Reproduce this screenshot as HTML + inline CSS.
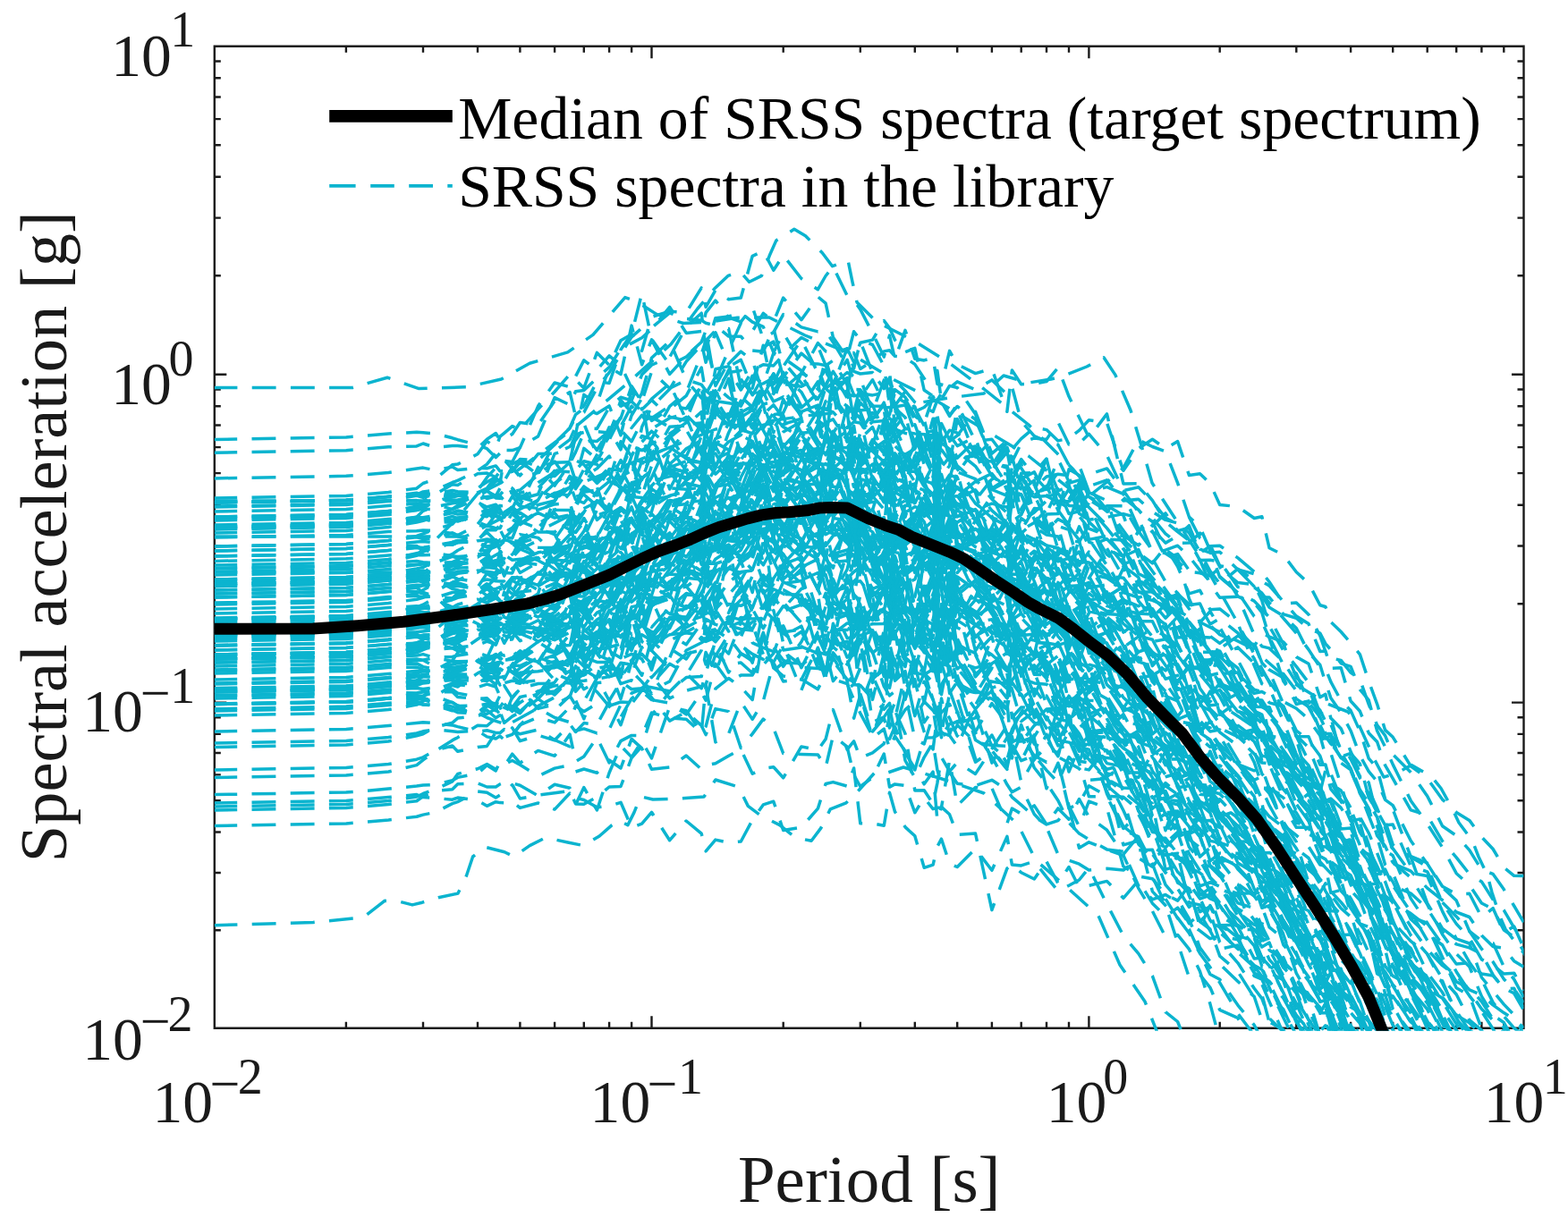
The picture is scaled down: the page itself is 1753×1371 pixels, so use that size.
<!DOCTYPE html>
<html><head><meta charset="utf-8"><title>Spectra</title>
<style>
html,body{margin:0;padding:0;background:#fff;}
svg{display:block;}
text{font-family:"Liberation Serif","Times New Roman",serif;}
</style></head>
<body>
<svg width="1753" height="1371" viewBox="0 0 1753 1371">
<rect width="1753" height="1371" fill="#fff"/>
<defs><clipPath id="c"><rect x="239.8" y="51.7" width="1463.7" height="1101.1"/></clipPath></defs>
<path d="M239.8 51.7H1703.5V1149.8H239.8ZM239.8 1149.8h13.5M1703.5 1149.8h-13.5M239.8 1040.2h7.0M1703.5 1040.2h-7.0M239.8 976.0h7.0M1703.5 976.0h-7.0M239.8 930.5h7.0M1703.5 930.5h-7.0M239.8 895.2h7.0M1703.5 895.2h-7.0M239.8 866.4h7.0M1703.5 866.4h-7.0M239.8 842.0h7.0M1703.5 842.0h-7.0M239.8 820.9h7.0M1703.5 820.9h-7.0M239.8 802.3h7.0M1703.5 802.3h-7.0M239.8 785.6h13.5M1703.5 785.6h-13.5M239.8 675.2h7.0M1703.5 675.2h-7.0M239.8 610.5h7.0M1703.5 610.5h-7.0M239.8 564.7h7.0M1703.5 564.7h-7.0M239.8 529.1h7.0M1703.5 529.1h-7.0M239.8 500.1h7.0M1703.5 500.1h-7.0M239.8 475.5h7.0M1703.5 475.5h-7.0M239.8 454.3h7.0M1703.5 454.3h-7.0M239.8 435.5h7.0M1703.5 435.5h-7.0M239.8 418.7h13.5M1703.5 418.7h-13.5M239.8 308.2h7.0M1703.5 308.2h-7.0M239.8 243.6h7.0M1703.5 243.6h-7.0M239.8 197.7h7.0M1703.5 197.7h-7.0M239.8 162.2h7.0M1703.5 162.2h-7.0M239.8 133.1h7.0M1703.5 133.1h-7.0M239.8 108.5h7.0M1703.5 108.5h-7.0M239.8 87.3h7.0M1703.5 87.3h-7.0M239.8 68.5h7.0M1703.5 68.5h-7.0M239.8 1149.8v-13.5M239.8 51.7v13.5M386.9 1149.8v-7.0M386.9 51.7v7.0M473.0 1149.8v-7.0M473.0 51.7v7.0M534.0 1149.8v-7.0M534.0 51.7v7.0M581.4 1149.8v-7.0M581.4 51.7v7.0M620.1 1149.8v-7.0M620.1 51.7v7.0M652.8 1149.8v-7.0M652.8 51.7v7.0M681.1 1149.8v-7.0M681.1 51.7v7.0M706.1 1149.8v-7.0M706.1 51.7v7.0M728.5 1149.8v-13.5M728.5 51.7v13.5M875.7 1149.8v-7.0M875.7 51.7v7.0M961.8 1149.8v-7.0M961.8 51.7v7.0M1022.8 1149.8v-7.0M1022.8 51.7v7.0M1070.2 1149.8v-7.0M1070.2 51.7v7.0M1108.9 1149.8v-7.0M1108.9 51.7v7.0M1141.7 1149.8v-7.0M1141.7 51.7v7.0M1170.0 1149.8v-7.0M1170.0 51.7v7.0M1195.0 1149.8v-7.0M1195.0 51.7v7.0M1217.4 1149.8v-13.5M1217.4 51.7v13.5M1363.7 1149.8v-7.0M1363.7 51.7v7.0M1449.3 1149.8v-7.0M1449.3 51.7v7.0M1510.1 1149.8v-7.0M1510.1 51.7v7.0M1557.2 1149.8v-7.0M1557.2 51.7v7.0M1595.7 1149.8v-7.0M1595.7 51.7v7.0M1628.2 1149.8v-7.0M1628.2 51.7v7.0M1656.4 1149.8v-7.0M1656.4 51.7v7.0M1681.3 1149.8v-7.0M1681.3 51.7v7.0" fill="none" stroke="#1a1a1a" stroke-width="2.4"/>
<g clip-path="url(#c)" fill="none" stroke="rgb(11,180,207)" stroke-width="3.5" stroke-dasharray="26.9 16.3" stroke-dashoffset="1.5" stroke-linejoin="round">
<polyline points="239.8,491.5 386.9,488.9 407.1,487.4 434.3,485.0 465.8,483.3 473.0,483.7 486.7,485.0 505.7,489.8 511.7,491.7 534.0,497.6 544.4,501.7 554.3,511.6 559.0,506.7 563.7,513.8 572.7,518.9 581.4,514.5 601.6,521.7 620.1,517.3 637.1,516.7 643.5,526.0 652.8,515.7 667.4,519.2 681.1,537.8 694.0,493.7 706.1,510.3 717.6,509.5 728.5,492.6 748.7,519.0 767.2,502.7 784.2,473.1 789.1,512.2 799.9,493.3 814.6,453.7 828.3,466.0 841.2,489.2 853.3,475.3 864.8,473.1 875.7,506.3 895.9,511.4 914.4,521.6 923.1,535.5 931.4,517.8 947.1,561.3 954.6,578.6 961.8,583.5 975.5,618.2 988.3,648.2 994.5,647.0 1000.5,662.6 1012.0,609.6 1022.8,600.6 1033.2,646.7 1043.1,690.9 1047.9,636.8 1052.5,612.0 1061.6,633.2 1070.2,600.5 1090.5,591.3 1108.9,609.1 1125.9,595.8 1131.4,607.4 1141.7,594.6 1156.3,620.4 1170.0,628.8 1182.9,613.6 1195.0,659.7 1206.5,656.4 1217.4,684.2 1237.5,742.8 1255.9,757.1 1272.8,793.9 1288.4,831.5 1303.0,840.3 1316.6,836.2 1329.4,853.7 1341.5,887.9 1352.9,905.1 1363.7,912.0 1383.9,930.9 1402.2,945.8 1410.8,973.5 1419.1,989.7 1434.8,1009.5 1449.3,1052.1 1463.0,1066.3 1475.8,1088.2 1481.9,1116.3 1487.8,1109.6 1499.2,1143.6 1510.1,1163.9 1520.4,1175.0 1530.2,1175.0 1539.6,1175.0 1548.6,1175.0 1557.2,1175.0 1577.3,1175.0 1595.7,1175.0 1612.6,1175.0 1628.2,1175.0 1642.8,1175.0 1656.4,1175.0 1669.2,1175.0 1681.3,1175.0 1692.7,1175.0 1703.5,1175.0"/>
<polyline points="239.8,506.3 386.9,503.7 407.1,502.2 434.3,499.8 465.8,498.9 473.0,496.0 486.7,500.4 505.7,498.4 511.7,498.4 534.0,501.1 544.4,491.2 554.3,484.5 559.0,492.1 563.7,490.7 572.7,485.4 581.4,472.6 601.6,475.0 620.1,448.5 637.1,438.6 643.5,465.4 652.8,454.0 667.4,426.6 681.1,428.5 694.0,391.0 706.1,373.2 717.6,392.3 728.5,354.4 748.7,348.3 767.2,349.4 784.2,321.9 789.1,343.4 799.9,324.5 814.6,334.7 828.3,333.0 841.2,286.3 853.3,280.7 864.8,302.3 875.7,285.4 895.9,311.5 914.4,323.7 923.1,308.5 931.4,298.3 947.1,330.5 954.6,336.0 961.8,345.9 975.5,372.6 988.3,399.1 994.5,375.1 1000.5,401.7 1012.0,369.3 1022.8,401.2 1033.2,402.9 1043.1,400.4 1047.9,429.3 1052.5,430.7 1061.6,392.4 1070.2,407.5 1090.5,417.6 1108.9,412.3 1125.9,460.3 1131.4,413.9 1141.7,429.7 1156.3,429.2 1170.0,426.6 1182.9,411.1 1195.0,443.3 1206.5,466.8 1217.4,489.4 1237.5,462.9 1255.9,540.9 1272.8,540.8 1288.4,559.7 1303.0,583.3 1316.6,594.6 1329.4,604.3 1341.5,626.6 1352.9,626.3 1363.7,627.9 1383.9,656.6 1402.2,656.8 1410.8,663.2 1419.1,674.2 1434.8,691.3 1449.3,708.0 1463.0,726.4 1475.8,746.3 1481.9,747.6 1487.8,762.4 1499.2,783.5 1510.1,794.6 1520.4,817.8 1530.2,848.1 1539.6,859.1 1548.6,893.6 1557.2,905.0 1577.3,958.4 1595.7,969.2 1612.6,1009.8 1628.2,1033.1 1642.8,1049.0 1656.4,1072.9 1669.2,1079.4 1681.3,1089.0 1692.7,1088.2 1703.5,1108.0"/>
<polyline points="239.8,534.9 386.9,532.3 407.1,530.8 434.3,528.4 465.8,524.0 473.0,523.1 486.7,525.9 505.7,522.1 511.7,525.5 534.0,523.2 544.4,523.7 554.3,520.9 559.0,526.8 563.7,526.6 572.7,526.8 581.4,515.5 601.6,531.2 620.1,516.1 637.1,539.9 643.5,542.7 652.8,524.6 667.4,540.4 681.1,527.0 694.0,526.6 706.1,492.5 717.6,494.3 728.5,482.2 748.7,500.0 767.2,512.8 784.2,511.3 789.1,480.4 799.9,524.4 814.6,515.9 828.3,523.3 841.2,497.1 853.3,518.9 864.8,509.4 875.7,508.6 895.9,486.7 914.4,509.4 923.1,563.2 931.4,555.8 947.1,516.1 954.6,484.2 961.8,530.0 975.5,519.2 988.3,539.0 994.5,522.1 1000.5,502.2 1012.0,508.2 1022.8,501.9 1033.2,483.1 1043.1,517.4 1047.9,535.5 1052.5,584.1 1061.6,563.0 1070.2,526.7 1090.5,609.1 1108.9,624.5 1125.9,654.7 1131.4,646.6 1141.7,650.4 1156.3,693.5 1170.0,711.8 1182.9,700.5 1195.0,726.2 1206.5,692.3 1217.4,703.3 1237.5,687.3 1255.9,673.1 1272.8,678.7 1288.4,680.7 1303.0,704.3 1316.6,701.4 1329.4,718.9 1341.5,748.4 1352.9,764.4 1363.7,778.9 1383.9,816.9 1402.2,852.4 1410.8,877.9 1419.1,887.4 1434.8,919.1 1449.3,941.4 1463.0,987.5 1475.8,1004.2 1481.9,1018.1 1487.8,1006.0 1499.2,1036.1 1510.1,1044.6 1520.4,1066.2 1530.2,1092.2 1539.6,1112.3 1548.6,1125.9 1557.2,1146.6 1577.3,1166.7 1595.7,1175.0 1612.6,1175.0 1628.2,1175.0 1642.8,1175.0 1656.4,1175.0 1669.2,1175.0 1681.3,1175.0 1692.7,1175.0 1703.5,1175.0"/>
<polyline points="239.8,557.0 386.9,554.4 407.1,552.9 434.3,550.5 465.8,546.2 473.0,540.5 486.7,535.8 505.7,519.8 511.7,519.1 534.0,507.8 544.4,493.3 554.3,500.9 559.0,488.2 563.7,484.3 572.7,476.6 581.4,480.6 601.6,457.6 620.1,438.0 637.1,418.5 643.5,424.7 652.8,433.9 667.4,394.4 681.1,408.3 694.0,380.8 706.1,373.9 717.6,328.0 728.5,379.0 748.7,408.0 767.2,399.2 784.2,382.7 789.1,405.3 799.9,371.8 814.6,406.7 828.3,393.1 841.2,403.1 853.3,440.8 864.8,417.8 875.7,434.9 895.9,417.5 914.4,425.3 923.1,413.7 931.4,430.7 947.1,422.6 954.6,441.6 961.8,444.3 975.5,424.8 988.3,450.8 994.5,468.3 1000.5,470.7 1012.0,462.8 1022.8,454.8 1033.2,484.1 1043.1,481.8 1047.9,499.3 1052.5,509.6 1061.6,502.9 1070.2,523.1 1090.5,503.2 1108.9,555.7 1125.9,564.0 1131.4,593.3 1141.7,600.0 1156.3,610.4 1170.0,575.1 1182.9,574.6 1195.0,558.5 1206.5,540.3 1217.4,554.9 1237.5,539.0 1255.9,523.4 1272.8,491.9 1288.4,499.5 1303.0,505.0 1316.6,540.1 1329.4,578.0 1341.5,589.2 1352.9,615.5 1363.7,645.4 1383.9,662.1 1402.2,689.3 1410.8,695.4 1419.1,713.5 1434.8,761.7 1449.3,781.6 1463.0,790.4 1475.8,810.8 1481.9,823.5 1487.8,831.6 1499.2,841.4 1510.1,859.3 1520.4,887.3 1530.2,904.2 1539.6,924.1 1548.6,950.5 1557.2,964.3 1577.3,981.5 1595.7,1011.4 1612.6,1045.0 1628.2,1066.8 1642.8,1081.0 1656.4,1114.2 1669.2,1135.2 1681.3,1143.5 1692.7,1163.5 1703.5,1175.0"/>
<polyline points="239.8,562.0 386.9,559.4 407.1,557.9 434.3,555.5 465.8,553.1 473.0,549.9 486.7,548.1 505.7,539.5 511.7,537.4 534.0,526.3 544.4,519.1 554.3,506.7 559.0,501.0 563.7,503.4 572.7,503.6 581.4,500.6 601.6,454.1 620.1,428.0 637.1,432.8 643.5,420.9 652.8,402.9 667.4,413.8 681.1,397.9 694.0,408.6 706.1,433.9 717.6,449.1 728.5,415.5 748.7,434.3 767.2,425.1 784.2,445.2 789.1,433.5 799.9,453.4 814.6,475.0 828.3,448.0 841.2,467.5 853.3,452.1 864.8,448.7 875.7,416.3 895.9,454.4 914.4,426.8 923.1,475.8 931.4,421.8 947.1,494.1 954.6,475.1 961.8,439.2 975.5,452.9 988.3,483.7 994.5,492.6 1000.5,484.6 1012.0,535.2 1022.8,515.1 1033.2,497.2 1043.1,507.7 1047.9,584.0 1052.5,530.4 1061.6,562.4 1070.2,577.9 1090.5,570.1 1108.9,563.1 1125.9,567.4 1131.4,521.3 1141.7,575.1 1156.3,543.7 1170.0,546.5 1182.9,513.4 1195.0,538.5 1206.5,531.9 1217.4,555.6 1237.5,565.4 1255.9,576.3 1272.8,622.6 1288.4,624.7 1303.0,650.5 1316.6,663.3 1329.4,680.7 1341.5,696.4 1352.9,743.3 1363.7,720.5 1383.9,757.3 1402.2,775.4 1410.8,773.5 1419.1,778.3 1434.8,789.6 1449.3,823.5 1463.0,823.7 1475.8,855.3 1481.9,855.0 1487.8,876.4 1499.2,884.0 1510.1,903.4 1520.4,913.9 1530.2,931.5 1539.6,953.8 1548.6,977.9 1557.2,990.4 1577.3,1019.9 1595.7,1051.6 1612.6,1077.3 1628.2,1092.1 1642.8,1113.6 1656.4,1130.9 1669.2,1150.8 1681.3,1170.7 1692.7,1175.0 1703.5,1175.0"/>
<polyline points="239.8,567.0 386.9,564.4 407.1,562.9 434.3,560.5 465.8,559.6 473.0,560.9 486.7,559.7 505.7,559.3 511.7,558.9 534.0,554.9 544.4,549.2 554.3,554.6 559.0,545.9 563.7,540.6 572.7,546.0 581.4,556.3 601.6,558.1 620.1,540.4 637.1,528.2 643.5,546.1 652.8,533.3 667.4,523.9 681.1,510.1 694.0,536.6 706.1,510.1 717.6,517.4 728.5,514.6 748.7,489.0 767.2,464.0 784.2,481.1 789.1,489.7 799.9,459.2 814.6,468.6 828.3,461.2 841.2,454.2 853.3,444.3 864.8,419.1 875.7,429.4 895.9,432.2 914.4,422.9 923.1,434.3 931.4,427.9 947.1,402.3 954.6,427.9 961.8,439.7 975.5,441.9 988.3,439.4 994.5,445.3 1000.5,456.2 1012.0,466.7 1022.8,495.3 1033.2,469.1 1043.1,508.0 1047.9,508.5 1052.5,543.2 1061.6,541.7 1070.2,592.4 1090.5,637.5 1108.9,621.6 1125.9,671.1 1131.4,706.1 1141.7,756.3 1156.3,727.6 1170.0,721.7 1182.9,749.0 1195.0,735.2 1206.5,764.5 1217.4,761.9 1237.5,763.9 1255.9,769.0 1272.8,784.6 1288.4,787.7 1303.0,814.6 1316.6,843.5 1329.4,852.2 1341.5,875.7 1352.9,895.0 1363.7,909.6 1383.9,936.9 1402.2,962.2 1410.8,999.4 1419.1,981.6 1434.8,1018.7 1449.3,1045.5 1463.0,1067.0 1475.8,1088.2 1481.9,1105.4 1487.8,1100.8 1499.2,1130.4 1510.1,1142.6 1520.4,1172.0 1530.2,1175.0 1539.6,1175.0 1548.6,1175.0 1557.2,1175.0 1577.3,1175.0 1595.7,1175.0 1612.6,1175.0 1628.2,1175.0 1642.8,1175.0 1656.4,1175.0 1669.2,1175.0 1681.3,1175.0 1692.7,1175.0 1703.5,1175.0"/>
<polyline points="239.8,572.0 386.9,569.4 407.1,567.9 434.3,565.5 465.8,563.1 473.0,564.4 486.7,563.8 505.7,569.7 511.7,567.1 534.0,558.4 544.4,555.5 554.3,554.3 559.0,553.3 563.7,548.3 572.7,550.2 581.4,548.0 601.6,531.1 620.1,532.4 637.1,517.0 643.5,485.8 652.8,483.4 667.4,482.6 681.1,484.0 694.0,454.2 706.1,448.9 717.6,460.0 728.5,446.2 748.7,428.9 767.2,469.7 784.2,427.7 789.1,448.7 799.9,438.3 814.6,416.5 828.3,414.5 841.2,441.8 853.3,421.0 864.8,428.9 875.7,404.6 895.9,428.3 914.4,446.2 923.1,431.0 931.4,417.1 947.1,445.1 954.6,446.6 961.8,438.0 975.5,471.4 988.3,450.2 994.5,487.1 1000.5,459.1 1012.0,479.4 1022.8,479.8 1033.2,512.5 1043.1,496.0 1047.9,506.9 1052.5,515.0 1061.6,535.2 1070.2,504.6 1090.5,521.3 1108.9,547.5 1125.9,538.1 1131.4,534.1 1141.7,535.4 1156.3,527.9 1170.0,554.7 1182.9,561.5 1195.0,567.8 1206.5,543.9 1217.4,583.4 1237.5,602.9 1255.9,604.1 1272.8,618.1 1288.4,629.8 1303.0,611.5 1316.6,633.5 1329.4,663.9 1341.5,660.3 1352.9,681.7 1363.7,680.9 1383.9,697.0 1402.2,744.3 1410.8,764.7 1419.1,769.1 1434.8,806.4 1449.3,843.3 1463.0,865.7 1475.8,889.3 1481.9,896.8 1487.8,907.7 1499.2,931.7 1510.1,953.4 1520.4,998.7 1530.2,1005.2 1539.6,1012.7 1548.6,1042.0 1557.2,1068.2 1577.3,1099.3 1595.7,1121.8 1612.6,1155.0 1628.2,1168.3 1642.8,1175.0 1656.4,1175.0 1669.2,1175.0 1681.3,1175.0 1692.7,1175.0 1703.5,1175.0"/>
<polyline points="239.8,578.0 386.9,575.4 407.1,573.9 434.3,571.5 465.8,570.6 473.0,569.1 486.7,570.0 505.7,573.3 511.7,571.1 534.0,574.9 544.4,575.6 554.3,576.3 559.0,577.8 563.7,588.9 572.7,573.8 581.4,573.3 601.6,586.1 620.1,573.7 637.1,595.1 643.5,555.3 652.8,553.2 667.4,565.5 681.1,545.4 694.0,524.5 706.1,547.3 717.6,551.7 728.5,534.0 748.7,489.5 767.2,474.4 784.2,473.1 789.1,477.9 799.9,436.9 814.6,465.6 828.3,432.7 841.2,427.1 853.3,388.3 864.8,382.0 875.7,421.6 895.9,395.1 914.4,411.0 923.1,434.5 931.4,441.9 947.1,454.3 954.6,460.8 961.8,467.8 975.5,528.7 988.3,468.7 994.5,522.9 1000.5,544.9 1012.0,553.1 1022.8,547.1 1033.2,565.8 1043.1,593.4 1047.9,580.2 1052.5,548.3 1061.6,600.1 1070.2,600.9 1090.5,604.0 1108.9,591.1 1125.9,598.4 1131.4,640.4 1141.7,627.2 1156.3,601.4 1170.0,620.4 1182.9,621.0 1195.0,634.0 1206.5,662.4 1217.4,633.1 1237.5,664.2 1255.9,692.6 1272.8,649.3 1288.4,684.5 1303.0,702.9 1316.6,731.2 1329.4,774.7 1341.5,814.2 1352.9,820.0 1363.7,834.7 1383.9,882.7 1402.2,932.5 1410.8,953.2 1419.1,969.8 1434.8,1003.3 1449.3,1040.2 1463.0,1058.7 1475.8,1083.4 1481.9,1087.8 1487.8,1094.2 1499.2,1116.9 1510.1,1132.5 1520.4,1144.4 1530.2,1175.0 1539.6,1175.0 1548.6,1175.0 1557.2,1175.0 1577.3,1175.0 1595.7,1175.0 1612.6,1175.0 1628.2,1175.0 1642.8,1175.0 1656.4,1175.0 1669.2,1175.0 1681.3,1175.0 1692.7,1175.0 1703.5,1175.0"/>
<polyline points="239.8,582.0 386.9,579.4 407.1,577.9 434.3,575.5 465.8,570.4 473.0,568.1 486.7,561.1 505.7,555.1 511.7,553.9 534.0,545.7 544.4,539.1 554.3,533.4 559.0,527.0 563.7,530.7 572.7,527.2 581.4,513.4 601.6,514.9 620.1,497.3 637.1,478.3 643.5,463.6 652.8,456.5 667.4,462.6 681.1,453.9 694.0,486.8 706.1,436.2 717.6,458.0 728.5,447.4 748.7,466.1 767.2,470.3 784.2,461.5 789.1,456.3 799.9,432.1 814.6,444.6 828.3,453.4 841.2,420.2 853.3,429.4 864.8,394.9 875.7,400.1 895.9,414.5 914.4,435.3 923.1,401.3 931.4,430.7 947.1,389.7 954.6,412.0 961.8,381.7 975.5,416.9 988.3,434.7 994.5,425.8 1000.5,453.7 1012.0,437.9 1022.8,456.6 1033.2,476.1 1043.1,503.0 1047.9,505.8 1052.5,496.5 1061.6,495.5 1070.2,524.5 1090.5,550.8 1108.9,610.8 1125.9,600.7 1131.4,594.7 1141.7,569.2 1156.3,545.3 1170.0,533.0 1182.9,530.2 1195.0,531.7 1206.5,551.7 1217.4,530.5 1237.5,523.9 1255.9,548.6 1272.8,572.7 1288.4,583.3 1303.0,614.8 1316.6,624.3 1329.4,669.6 1341.5,696.0 1352.9,683.7 1363.7,701.5 1383.9,738.1 1402.2,772.8 1410.8,790.4 1419.1,790.7 1434.8,828.1 1449.3,858.9 1463.0,876.0 1475.8,889.5 1481.9,905.7 1487.8,931.0 1499.2,936.3 1510.1,957.0 1520.4,979.0 1530.2,1012.2 1539.6,1033.7 1548.6,1057.5 1557.2,1070.5 1577.3,1111.7 1595.7,1148.9 1612.6,1175.0 1628.2,1175.0 1642.8,1175.0 1656.4,1175.0 1669.2,1175.0 1681.3,1175.0 1692.7,1175.0 1703.5,1175.0"/>
<polyline points="239.8,587.0 386.9,584.4 407.1,582.9 434.3,580.5 465.8,579.2 473.0,580.6 486.7,583.2 505.7,577.4 511.7,579.7 534.0,580.6 544.4,571.9 554.3,571.5 559.0,574.4 563.7,564.1 572.7,568.6 581.4,551.2 601.6,545.7 620.1,526.5 637.1,518.1 643.5,538.1 652.8,521.8 667.4,515.7 681.1,491.8 694.0,466.2 706.1,478.5 717.6,464.3 728.5,479.7 748.7,467.4 767.2,462.9 784.2,430.7 789.1,488.8 799.9,448.6 814.6,450.8 828.3,452.6 841.2,457.2 853.3,481.5 864.8,491.6 875.7,513.6 895.9,468.4 914.4,498.7 923.1,535.7 931.4,546.4 947.1,518.3 954.6,544.2 961.8,538.8 975.5,581.9 988.3,589.2 994.5,531.8 1000.5,599.9 1012.0,565.2 1022.8,566.0 1033.2,571.5 1043.1,583.9 1047.9,629.5 1052.5,594.8 1061.6,602.6 1070.2,617.6 1090.5,625.7 1108.9,589.5 1125.9,555.3 1131.4,583.2 1141.7,575.7 1156.3,541.7 1170.0,573.9 1182.9,546.9 1195.0,574.5 1206.5,571.9 1217.4,555.2 1237.5,571.8 1255.9,599.2 1272.8,641.5 1288.4,649.4 1303.0,664.0 1316.6,713.0 1329.4,711.9 1341.5,737.9 1352.9,746.8 1363.7,764.5 1383.9,788.4 1402.2,802.5 1410.8,824.5 1419.1,836.0 1434.8,865.4 1449.3,888.2 1463.0,901.8 1475.8,930.5 1481.9,933.6 1487.8,949.6 1499.2,960.6 1510.1,989.5 1520.4,1002.9 1530.2,1016.3 1539.6,1053.6 1548.6,1080.6 1557.2,1081.0 1577.3,1127.0 1595.7,1162.7 1612.6,1175.0 1628.2,1175.0 1642.8,1175.0 1656.4,1175.0 1669.2,1175.0 1681.3,1175.0 1692.7,1175.0 1703.5,1175.0"/>
<polyline points="239.8,592.0 386.9,589.4 407.1,587.9 434.3,585.5 465.8,582.7 473.0,580.6 486.7,582.7 505.7,584.5 511.7,579.4 534.0,583.7 544.4,587.8 554.3,590.7 559.0,590.8 563.7,580.6 572.7,581.1 581.4,585.8 601.6,571.0 620.1,579.1 637.1,575.7 643.5,563.8 652.8,544.1 667.4,581.4 681.1,569.8 694.0,611.8 706.1,555.4 717.6,556.5 728.5,567.3 748.7,554.3 767.2,549.6 784.2,551.8 789.1,551.6 799.9,572.1 814.6,532.9 828.3,551.6 841.2,564.3 853.3,529.3 864.8,549.7 875.7,539.8 895.9,531.5 914.4,475.2 923.1,489.4 931.4,510.9 947.1,514.8 954.6,499.2 961.8,513.9 975.5,505.0 988.3,544.0 994.5,539.4 1000.5,516.2 1012.0,543.4 1022.8,548.8 1033.2,552.8 1043.1,574.0 1047.9,594.9 1052.5,567.2 1061.6,564.0 1070.2,572.8 1090.5,593.4 1108.9,617.3 1125.9,610.3 1131.4,631.1 1141.7,605.3 1156.3,669.9 1170.0,614.3 1182.9,627.9 1195.0,624.4 1206.5,651.8 1217.4,622.9 1237.5,667.0 1255.9,656.2 1272.8,686.2 1288.4,677.0 1303.0,717.5 1316.6,732.7 1329.4,749.7 1341.5,741.0 1352.9,761.3 1363.7,769.9 1383.9,796.1 1402.2,803.1 1410.8,834.0 1419.1,845.5 1434.8,852.4 1449.3,881.1 1463.0,904.1 1475.8,913.8 1481.9,933.9 1487.8,932.3 1499.2,956.3 1510.1,966.6 1520.4,986.2 1530.2,991.1 1539.6,1025.4 1548.6,1045.9 1557.2,1067.8 1577.3,1106.9 1595.7,1149.1 1612.6,1175.0 1628.2,1175.0 1642.8,1175.0 1656.4,1175.0 1669.2,1175.0 1681.3,1175.0 1692.7,1175.0 1703.5,1175.0"/>
<polyline points="239.8,596.0 386.9,593.4 407.1,591.9 434.3,589.5 465.8,584.0 473.0,582.4 486.7,578.0 505.7,573.6 511.7,575.1 534.0,573.7 544.4,570.6 554.3,577.4 559.0,579.4 563.7,585.1 572.7,579.7 581.4,586.7 601.6,573.1 620.1,560.5 637.1,532.4 643.5,546.8 652.8,529.3 667.4,536.9 681.1,522.9 694.0,540.8 706.1,515.9 717.6,555.0 728.5,520.6 748.7,504.9 767.2,480.8 784.2,509.7 789.1,513.8 799.9,490.6 814.6,484.7 828.3,472.7 841.2,475.2 853.3,504.8 864.8,496.8 875.7,483.0 895.9,471.4 914.4,470.1 923.1,476.4 931.4,515.0 947.1,454.1 954.6,512.6 961.8,483.6 975.5,471.7 988.3,470.5 994.5,511.7 1000.5,486.4 1012.0,515.2 1022.8,505.9 1033.2,510.8 1043.1,531.2 1047.9,517.2 1052.5,554.6 1061.6,538.3 1070.2,557.4 1090.5,547.9 1108.9,570.9 1125.9,585.8 1131.4,608.9 1141.7,628.5 1156.3,616.2 1170.0,623.0 1182.9,623.7 1195.0,648.0 1206.5,645.7 1217.4,652.0 1237.5,689.9 1255.9,705.2 1272.8,713.7 1288.4,733.1 1303.0,759.2 1316.6,755.2 1329.4,784.2 1341.5,793.9 1352.9,773.2 1363.7,793.9 1383.9,825.0 1402.2,843.0 1410.8,853.0 1419.1,853.4 1434.8,882.9 1449.3,899.0 1463.0,918.2 1475.8,946.4 1481.9,946.9 1487.8,951.5 1499.2,981.0 1510.1,982.3 1520.4,1001.4 1530.2,1011.0 1539.6,1037.2 1548.6,1058.1 1557.2,1079.6 1577.3,1106.7 1595.7,1128.7 1612.6,1162.7 1628.2,1175.0 1642.8,1175.0 1656.4,1175.0 1669.2,1175.0 1681.3,1175.0 1692.7,1175.0 1703.5,1175.0"/>
<polyline points="239.8,611.0 386.9,608.4 407.1,606.9 434.3,604.5 465.8,599.5 473.0,596.8 486.7,592.0 505.7,586.2 511.7,579.7 534.0,586.3 544.4,572.7 554.3,582.8 559.0,569.6 563.7,578.5 572.7,566.1 581.4,558.0 601.6,552.7 620.1,507.4 637.1,501.8 643.5,485.5 652.8,441.4 667.4,451.7 681.1,410.6 694.0,418.5 706.1,364.1 717.6,407.8 728.5,379.9 748.7,418.4 767.2,398.2 784.2,382.5 789.1,369.7 799.9,431.5 814.6,404.7 828.3,477.2 841.2,454.2 853.3,429.1 864.8,449.0 875.7,443.8 895.9,456.0 914.4,439.5 923.1,430.3 931.4,415.3 947.1,441.0 954.6,442.8 961.8,441.8 975.5,468.6 988.3,452.8 994.5,482.3 1000.5,450.4 1012.0,482.9 1022.8,484.9 1033.2,485.8 1043.1,487.1 1047.9,478.9 1052.5,495.3 1061.6,502.1 1070.2,512.1 1090.5,509.8 1108.9,524.0 1125.9,500.1 1131.4,516.7 1141.7,523.5 1156.3,545.7 1170.0,513.5 1182.9,573.9 1195.0,524.8 1206.5,531.4 1217.4,543.7 1237.5,536.8 1255.9,559.9 1272.8,558.3 1288.4,572.2 1303.0,581.4 1316.6,585.0 1329.4,578.2 1341.5,601.7 1352.9,609.1 1363.7,632.7 1383.9,636.9 1402.2,655.9 1410.8,666.4 1419.1,679.3 1434.8,688.7 1449.3,702.5 1463.0,729.9 1475.8,743.4 1481.9,763.2 1487.8,780.4 1499.2,796.8 1510.1,817.2 1520.4,844.9 1530.2,862.7 1539.6,874.0 1548.6,894.3 1557.2,900.6 1577.3,940.2 1595.7,965.9 1612.6,992.3 1628.2,1007.1 1642.8,1041.3 1656.4,1051.9 1669.2,1054.8 1681.3,1081.0 1692.7,1095.1 1703.5,1115.3"/>
<polyline points="239.8,616.0 386.9,613.4 407.1,611.9 434.3,609.5 465.8,610.6 473.0,614.8 486.7,618.4 505.7,621.7 511.7,622.4 534.0,621.0 544.4,605.1 554.3,607.6 559.0,592.0 563.7,601.5 572.7,593.3 581.4,583.3 601.6,573.7 620.1,582.1 637.1,592.7 643.5,595.3 652.8,584.2 667.4,623.6 681.1,623.5 694.0,589.0 706.1,648.8 717.6,646.0 728.5,672.3 748.7,669.6 767.2,650.3 784.2,610.5 789.1,622.6 799.9,614.7 814.6,602.8 828.3,591.5 841.2,596.4 853.3,541.0 864.8,572.5 875.7,570.7 895.9,539.2 914.4,589.2 923.1,562.7 931.4,554.1 947.1,579.7 954.6,572.7 961.8,586.1 975.5,594.9 988.3,615.6 994.5,619.7 1000.5,653.5 1012.0,686.7 1022.8,699.5 1033.2,717.8 1043.1,713.5 1047.9,727.1 1052.5,711.4 1061.6,681.5 1070.2,701.9 1090.5,711.2 1108.9,701.1 1125.9,700.9 1131.4,711.1 1141.7,705.4 1156.3,718.5 1170.0,719.1 1182.9,721.3 1195.0,760.5 1206.5,757.4 1217.4,790.0 1237.5,821.6 1255.9,850.1 1272.8,887.6 1288.4,898.6 1303.0,972.4 1316.6,968.1 1329.4,1001.5 1341.5,1030.5 1352.9,1039.0 1363.7,1069.2 1383.9,1086.4 1402.2,1115.7 1410.8,1112.1 1419.1,1143.3 1434.8,1171.9 1449.3,1175.0 1463.0,1175.0 1475.8,1175.0 1481.9,1175.0 1487.8,1175.0 1499.2,1175.0 1510.1,1175.0 1520.4,1175.0 1530.2,1175.0 1539.6,1175.0 1548.6,1175.0 1557.2,1175.0 1577.3,1175.0 1595.7,1175.0 1612.6,1175.0 1628.2,1175.0 1642.8,1175.0 1656.4,1175.0 1669.2,1175.0 1681.3,1175.0 1692.7,1175.0 1703.5,1175.0"/>
<polyline points="239.8,622.0 386.9,619.4 407.1,617.9 434.3,615.5 465.8,612.6 473.0,614.1 486.7,614.2 505.7,606.4 511.7,604.7 534.0,604.8 544.4,592.4 554.3,592.7 559.0,586.5 563.7,595.3 572.7,590.4 581.4,579.8 601.6,564.5 620.1,559.9 637.1,532.8 643.5,544.7 652.8,530.0 667.4,513.2 681.1,514.4 694.0,526.7 706.1,498.9 717.6,503.7 728.5,496.6 748.7,484.9 767.2,472.6 784.2,472.0 789.1,445.3 799.9,444.7 814.6,413.7 828.3,436.0 841.2,414.1 853.3,407.7 864.8,408.9 875.7,396.7 895.9,377.5 914.4,387.2 923.1,408.7 931.4,429.9 947.1,416.5 954.6,420.9 961.8,423.4 975.5,460.3 988.3,425.2 994.5,414.8 1000.5,478.2 1012.0,463.9 1022.8,504.3 1033.2,503.7 1043.1,501.0 1047.9,496.9 1052.5,492.6 1061.6,487.8 1070.2,488.3 1090.5,514.9 1108.9,515.9 1125.9,542.2 1131.4,536.6 1141.7,518.2 1156.3,576.7 1170.0,590.7 1182.9,579.8 1195.0,584.3 1206.5,549.9 1217.4,603.4 1237.5,599.4 1255.9,599.1 1272.8,609.7 1288.4,593.9 1303.0,623.5 1316.6,619.6 1329.4,637.7 1341.5,626.0 1352.9,653.3 1363.7,668.2 1383.9,667.2 1402.2,709.8 1410.8,722.9 1419.1,724.9 1434.8,739.9 1449.3,763.6 1463.0,781.2 1475.8,794.2 1481.9,806.8 1487.8,801.5 1499.2,846.2 1510.1,842.5 1520.4,854.2 1530.2,891.8 1539.6,906.9 1548.6,922.8 1557.2,922.1 1577.3,968.8 1595.7,974.8 1612.6,1009.1 1628.2,1024.9 1642.8,1041.3 1656.4,1061.2 1669.2,1075.7 1681.3,1094.9 1692.7,1106.1 1703.5,1121.3"/>
<polyline points="239.8,632.0 386.9,629.4 407.1,627.9 434.3,625.5 465.8,618.8 473.0,617.3 486.7,609.8 505.7,606.4 511.7,604.4 534.0,603.4 544.4,595.2 554.3,605.0 559.0,599.1 563.7,600.5 572.7,607.8 581.4,607.2 601.6,601.2 620.1,559.1 637.1,544.9 643.5,533.0 652.8,534.4 667.4,508.7 681.1,488.3 694.0,447.5 706.1,461.4 717.6,439.5 728.5,400.3 748.7,381.5 767.2,424.6 784.2,430.1 789.1,436.8 799.9,445.9 814.6,470.2 828.3,505.6 841.2,493.3 853.3,510.7 864.8,521.5 875.7,532.6 895.9,540.4 914.4,502.7 923.1,551.4 931.4,488.4 947.1,520.6 954.6,506.6 961.8,517.3 975.5,491.7 988.3,507.0 994.5,493.5 1000.5,517.9 1012.0,508.0 1022.8,521.5 1033.2,507.9 1043.1,510.3 1047.9,537.3 1052.5,532.7 1061.6,520.7 1070.2,468.5 1090.5,508.9 1108.9,525.8 1125.9,505.8 1131.4,538.0 1141.7,546.9 1156.3,548.3 1170.0,517.9 1182.9,549.0 1195.0,544.0 1206.5,545.5 1217.4,567.9 1237.5,590.6 1255.9,614.0 1272.8,638.6 1288.4,658.6 1303.0,680.5 1316.6,687.1 1329.4,713.8 1341.5,703.0 1352.9,727.4 1363.7,734.0 1383.9,753.5 1402.2,771.2 1410.8,773.4 1419.1,785.9 1434.8,790.0 1449.3,822.5 1463.0,836.1 1475.8,867.6 1481.9,879.3 1487.8,874.3 1499.2,894.6 1510.1,904.8 1520.4,930.8 1530.2,945.3 1539.6,973.4 1548.6,972.4 1557.2,986.1 1577.3,1028.0 1595.7,1044.7 1612.6,1056.7 1628.2,1086.8 1642.8,1108.9 1656.4,1128.3 1669.2,1140.9 1681.3,1154.1 1692.7,1172.2 1703.5,1175.0"/>
<polyline points="239.8,636.0 386.9,633.4 407.1,631.9 434.3,629.5 465.8,627.6 473.0,628.7 486.7,629.6 505.7,628.7 511.7,626.0 534.0,615.8 544.4,615.3 554.3,611.1 559.0,603.6 563.7,605.7 572.7,605.0 581.4,604.9 601.6,623.2 620.1,636.4 637.1,646.9 643.5,657.3 652.8,648.9 667.4,644.6 681.1,668.4 694.0,688.4 706.1,667.1 717.6,644.3 728.5,639.3 748.7,635.3 767.2,607.8 784.2,584.6 789.1,577.3 799.9,584.3 814.6,572.6 828.3,533.8 841.2,509.6 853.3,523.0 864.8,547.6 875.7,516.9 895.9,510.6 914.4,500.7 923.1,504.5 931.4,500.3 947.1,500.8 954.6,488.7 961.8,490.7 975.5,477.6 988.3,508.7 994.5,491.6 1000.5,494.5 1012.0,525.6 1022.8,513.4 1033.2,540.0 1043.1,526.7 1047.9,529.1 1052.5,552.8 1061.6,578.9 1070.2,584.2 1090.5,570.1 1108.9,623.3 1125.9,643.9 1131.4,621.9 1141.7,653.9 1156.3,658.5 1170.0,692.2 1182.9,651.3 1195.0,668.7 1206.5,658.6 1217.4,704.3 1237.5,738.2 1255.9,715.5 1272.8,773.0 1288.4,765.4 1303.0,775.4 1316.6,806.7 1329.4,808.7 1341.5,818.7 1352.9,817.9 1363.7,833.5 1383.9,851.2 1402.2,872.5 1410.8,868.0 1419.1,882.1 1434.8,925.7 1449.3,949.1 1463.0,959.5 1475.8,983.6 1481.9,996.6 1487.8,1006.0 1499.2,1036.7 1510.1,1068.6 1520.4,1077.1 1530.2,1094.4 1539.6,1130.2 1548.6,1153.7 1557.2,1169.4 1577.3,1175.0 1595.7,1175.0 1612.6,1175.0 1628.2,1175.0 1642.8,1175.0 1656.4,1175.0 1669.2,1175.0 1681.3,1175.0 1692.7,1175.0 1703.5,1175.0"/>
<polyline points="239.8,643.0 386.9,640.4 407.1,638.9 434.3,636.5 465.8,631.5 473.0,631.0 486.7,631.2 505.7,629.1 511.7,630.4 534.0,628.9 544.4,629.6 554.3,629.3 559.0,626.1 563.7,624.5 572.7,629.9 581.4,632.7 601.6,623.5 620.1,647.4 637.1,642.1 643.5,620.3 652.8,620.7 667.4,629.4 681.1,637.7 694.0,685.0 706.1,631.1 717.6,647.8 728.5,618.7 748.7,612.7 767.2,596.9 784.2,585.7 789.1,588.8 799.9,571.1 814.6,599.7 828.3,586.3 841.2,542.4 853.3,527.9 864.8,544.8 875.7,561.7 895.9,542.1 914.4,541.3 923.1,564.1 931.4,574.2 947.1,558.9 954.6,560.3 961.8,565.4 975.5,585.6 988.3,578.5 994.5,620.2 1000.5,605.2 1012.0,588.5 1022.8,595.9 1033.2,625.6 1043.1,616.0 1047.9,645.2 1052.5,581.9 1061.6,628.0 1070.2,640.5 1090.5,617.2 1108.9,663.2 1125.9,638.7 1131.4,666.9 1141.7,688.0 1156.3,675.6 1170.0,682.0 1182.9,700.5 1195.0,718.4 1206.5,721.2 1217.4,696.1 1237.5,749.3 1255.9,750.9 1272.8,804.7 1288.4,839.0 1303.0,849.3 1316.6,848.8 1329.4,875.5 1341.5,896.4 1352.9,902.4 1363.7,908.7 1383.9,935.2 1402.2,960.9 1410.8,963.0 1419.1,989.9 1434.8,1012.9 1449.3,1017.8 1463.0,1059.2 1475.8,1061.3 1481.9,1084.6 1487.8,1076.8 1499.2,1104.9 1510.1,1122.1 1520.4,1141.0 1530.2,1155.1 1539.6,1169.1 1548.6,1175.0 1557.2,1175.0 1577.3,1175.0 1595.7,1175.0 1612.6,1175.0 1628.2,1175.0 1642.8,1175.0 1656.4,1175.0 1669.2,1175.0 1681.3,1175.0 1692.7,1175.0 1703.5,1175.0"/>
<polyline points="239.8,648.0 386.9,645.4 407.1,643.9 434.3,641.5 465.8,635.9 473.0,634.4 486.7,627.5 505.7,619.6 511.7,615.5 534.0,604.7 544.4,603.8 554.3,603.8 559.0,615.9 563.7,603.4 572.7,606.1 581.4,609.7 601.6,612.2 620.1,612.4 637.1,619.9 643.5,622.7 652.8,623.1 667.4,613.8 681.1,607.5 694.0,602.0 706.1,580.4 717.6,561.9 728.5,550.1 748.7,521.8 767.2,501.8 784.2,492.1 789.1,481.5 799.9,450.2 814.6,467.9 828.3,443.5 841.2,455.4 853.3,435.7 864.8,418.3 875.7,439.0 895.9,465.1 914.4,455.4 923.1,457.9 931.4,460.8 947.1,478.5 954.6,471.7 961.8,473.0 975.5,492.5 988.3,504.7 994.5,502.0 1000.5,530.0 1012.0,518.9 1022.8,527.7 1033.2,485.8 1043.1,502.7 1047.9,539.2 1052.5,487.7 1061.6,503.3 1070.2,520.9 1090.5,538.6 1108.9,529.5 1125.9,551.6 1131.4,546.5 1141.7,545.2 1156.3,551.4 1170.0,546.8 1182.9,528.1 1195.0,542.3 1206.5,577.2 1217.4,591.1 1237.5,599.0 1255.9,622.5 1272.8,624.6 1288.4,658.3 1303.0,675.7 1316.6,692.4 1329.4,732.0 1341.5,730.9 1352.9,751.7 1363.7,753.5 1383.9,752.1 1402.2,792.2 1410.8,812.8 1419.1,837.6 1434.8,860.7 1449.3,892.0 1463.0,908.4 1475.8,939.8 1481.9,936.3 1487.8,969.6 1499.2,990.8 1510.1,1008.2 1520.4,1029.3 1530.2,1050.0 1539.6,1083.0 1548.6,1103.3 1557.2,1103.6 1577.3,1132.9 1595.7,1164.3 1612.6,1174.5 1628.2,1175.0 1642.8,1175.0 1656.4,1175.0 1669.2,1175.0 1681.3,1175.0 1692.7,1175.0 1703.5,1175.0"/>
<polyline points="239.8,653.0 386.9,650.4 407.1,648.9 434.3,646.5 465.8,644.9 473.0,644.3 486.7,641.9 505.7,632.8 511.7,633.7 534.0,619.6 544.4,620.7 554.3,604.6 559.0,600.5 563.7,600.5 572.7,601.9 581.4,580.0 601.6,559.2 620.1,526.4 637.1,527.7 643.5,514.7 652.8,519.5 667.4,537.7 681.1,528.8 694.0,546.8 706.1,554.6 717.6,535.7 728.5,523.5 748.7,565.9 767.2,563.6 784.2,574.6 789.1,510.8 799.9,521.1 814.6,530.9 828.3,507.7 841.2,534.6 853.3,501.2 864.8,510.6 875.7,508.3 895.9,503.4 914.4,525.8 923.1,485.7 931.4,511.0 947.1,509.8 954.6,476.5 961.8,493.9 975.5,503.8 988.3,493.2 994.5,485.0 1000.5,471.5 1012.0,452.2 1022.8,483.6 1033.2,519.6 1043.1,498.9 1047.9,464.5 1052.5,488.9 1061.6,499.0 1070.2,457.9 1090.5,511.0 1108.9,492.4 1125.9,504.5 1131.4,533.2 1141.7,513.6 1156.3,532.3 1170.0,547.4 1182.9,543.0 1195.0,540.3 1206.5,536.8 1217.4,558.7 1237.5,571.3 1255.9,556.3 1272.8,570.2 1288.4,588.2 1303.0,573.9 1316.6,593.7 1329.4,590.2 1341.5,614.2 1352.9,618.2 1363.7,617.2 1383.9,636.9 1402.2,641.8 1410.8,650.2 1419.1,655.1 1434.8,672.7 1449.3,689.1 1463.0,697.6 1475.8,728.5 1481.9,727.9 1487.8,747.4 1499.2,746.8 1510.1,784.0 1520.4,795.3 1530.2,819.7 1539.6,829.5 1548.6,855.9 1557.2,870.7 1577.3,905.8 1595.7,911.8 1612.6,940.7 1628.2,958.8 1642.8,977.5 1656.4,985.9 1669.2,1006.0 1681.3,1017.9 1692.7,1037.3 1703.5,1053.5"/>
<polyline points="239.8,660.0 386.9,657.4 407.1,655.9 434.3,653.5 465.8,648.7 473.0,651.4 486.7,649.8 505.7,653.6 511.7,651.8 534.0,658.3 544.4,666.1 554.3,666.1 559.0,671.3 563.7,671.3 572.7,674.4 581.4,671.4 601.6,686.3 620.1,666.6 637.1,654.6 643.5,654.5 652.8,633.3 667.4,636.2 681.1,602.5 694.0,613.2 706.1,599.3 717.6,615.9 728.5,592.8 748.7,582.8 767.2,602.3 784.2,599.0 789.1,601.5 799.9,593.2 814.6,597.3 828.3,594.6 841.2,615.8 853.3,631.8 864.8,610.7 875.7,619.7 895.9,648.7 914.4,640.5 923.1,660.3 931.4,667.5 947.1,649.1 954.6,628.5 961.8,635.6 975.5,666.4 988.3,653.5 994.5,674.5 1000.5,631.4 1012.0,677.7 1022.8,688.7 1033.2,719.8 1043.1,698.5 1047.9,690.7 1052.5,736.4 1061.6,708.2 1070.2,720.2 1090.5,731.8 1108.9,711.7 1125.9,778.0 1131.4,740.4 1141.7,781.0 1156.3,770.3 1170.0,788.2 1182.9,778.5 1195.0,789.5 1206.5,799.6 1217.4,770.1 1237.5,781.6 1255.9,821.3 1272.8,825.7 1288.4,826.2 1303.0,837.9 1316.6,858.6 1329.4,895.1 1341.5,901.7 1352.9,933.3 1363.7,941.6 1383.9,972.1 1402.2,990.7 1410.8,1008.2 1419.1,1002.8 1434.8,1037.2 1449.3,1050.7 1463.0,1078.3 1475.8,1100.1 1481.9,1101.5 1487.8,1117.2 1499.2,1142.7 1510.1,1153.1 1520.4,1175.0 1530.2,1175.0 1539.6,1175.0 1548.6,1175.0 1557.2,1175.0 1577.3,1175.0 1595.7,1175.0 1612.6,1175.0 1628.2,1175.0 1642.8,1175.0 1656.4,1175.0 1669.2,1175.0 1681.3,1175.0 1692.7,1175.0 1703.5,1175.0"/>
<polyline points="239.8,664.0 386.9,661.4 407.1,659.9 434.3,657.5 465.8,657.4 473.0,662.4 486.7,666.9 505.7,685.4 511.7,686.4 534.0,697.5 544.4,705.0 554.3,707.9 559.0,707.5 563.7,700.5 572.7,701.7 581.4,690.0 601.6,712.3 620.1,699.4 637.1,687.0 643.5,684.2 652.8,679.6 667.4,651.9 681.1,674.5 694.0,650.6 706.1,636.2 717.6,598.4 728.5,636.2 748.7,620.4 767.2,573.8 784.2,571.1 789.1,574.2 799.9,560.5 814.6,568.1 828.3,567.8 841.2,573.5 853.3,570.0 864.8,601.5 875.7,607.2 895.9,622.6 914.4,659.0 923.1,678.4 931.4,657.4 947.1,655.2 954.6,740.4 961.8,716.1 975.5,701.4 988.3,726.2 994.5,699.8 1000.5,666.1 1012.0,733.2 1022.8,727.4 1033.2,698.1 1043.1,696.1 1047.9,680.8 1052.5,731.9 1061.6,725.0 1070.2,693.6 1090.5,706.7 1108.9,737.8 1125.9,697.0 1131.4,728.6 1141.7,735.8 1156.3,779.6 1170.0,804.9 1182.9,773.3 1195.0,809.7 1206.5,829.3 1217.4,827.2 1237.5,840.0 1255.9,885.0 1272.8,892.6 1288.4,923.6 1303.0,941.9 1316.6,950.7 1329.4,974.7 1341.5,1000.9 1352.9,993.2 1363.7,1001.8 1383.9,1036.1 1402.2,1057.6 1410.8,1081.3 1419.1,1104.6 1434.8,1138.0 1449.3,1167.1 1463.0,1175.0 1475.8,1175.0 1481.9,1175.0 1487.8,1175.0 1499.2,1175.0 1510.1,1175.0 1520.4,1175.0 1530.2,1175.0 1539.6,1175.0 1548.6,1175.0 1557.2,1175.0 1577.3,1175.0 1595.7,1175.0 1612.6,1175.0 1628.2,1175.0 1642.8,1175.0 1656.4,1175.0 1669.2,1175.0 1681.3,1175.0 1692.7,1175.0 1703.5,1175.0"/>
<polyline points="239.8,668.0 386.9,665.4 407.1,663.9 434.3,661.5 465.8,657.0 473.0,654.5 486.7,656.7 505.7,652.1 511.7,652.5 534.0,660.2 544.4,652.7 554.3,661.7 559.0,662.0 563.7,652.0 572.7,658.5 581.4,669.0 601.6,655.6 620.1,644.2 637.1,653.1 643.5,642.9 652.8,660.6 667.4,647.3 681.1,621.9 694.0,634.4 706.1,632.1 717.6,632.7 728.5,623.5 748.7,602.8 767.2,607.6 784.2,563.0 789.1,543.6 799.9,544.4 814.6,541.4 828.3,565.5 841.2,508.4 853.3,514.4 864.8,522.8 875.7,507.9 895.9,533.4 914.4,506.6 923.1,506.7 931.4,504.5 947.1,546.5 954.6,556.9 961.8,523.1 975.5,539.4 988.3,543.8 994.5,562.0 1000.5,550.2 1012.0,557.3 1022.8,563.1 1033.2,575.2 1043.1,564.4 1047.9,565.7 1052.5,557.3 1061.6,552.0 1070.2,570.9 1090.5,581.2 1108.9,606.2 1125.9,585.0 1131.4,605.0 1141.7,579.7 1156.3,589.4 1170.0,598.1 1182.9,600.1 1195.0,624.4 1206.5,638.7 1217.4,620.8 1237.5,644.1 1255.9,646.2 1272.8,667.7 1288.4,671.4 1303.0,677.3 1316.6,691.1 1329.4,711.3 1341.5,712.9 1352.9,728.5 1363.7,734.4 1383.9,723.9 1402.2,741.7 1410.8,749.2 1419.1,762.1 1434.8,784.6 1449.3,792.2 1463.0,804.3 1475.8,822.6 1481.9,844.8 1487.8,842.1 1499.2,877.8 1510.1,913.8 1520.4,920.2 1530.2,954.5 1539.6,982.4 1548.6,1001.5 1557.2,1029.8 1577.3,1076.9 1595.7,1099.2 1612.6,1140.4 1628.2,1152.9 1642.8,1167.2 1656.4,1175.0 1669.2,1175.0 1681.3,1175.0 1692.7,1175.0 1703.5,1175.0"/>
<polyline points="239.8,676.0 386.9,673.4 407.1,671.9 434.3,669.5 465.8,663.7 473.0,659.8 486.7,652.6 505.7,645.1 511.7,639.0 534.0,640.1 544.4,632.9 554.3,630.0 559.0,628.7 563.7,628.3 572.7,636.4 581.4,626.0 601.6,620.1 620.1,616.5 637.1,609.1 643.5,607.3 652.8,612.9 667.4,609.8 681.1,627.3 694.0,631.6 706.1,633.5 717.6,653.5 728.5,612.8 748.7,609.3 767.2,623.0 784.2,599.6 789.1,601.0 799.9,599.0 814.6,584.9 828.3,584.6 841.2,555.0 853.3,562.7 864.8,558.3 875.7,546.1 895.9,513.6 914.4,546.6 923.1,570.7 931.4,574.2 947.1,545.1 954.6,586.1 961.8,546.6 975.5,582.1 988.3,604.7 994.5,676.5 1000.5,577.6 1012.0,618.7 1022.8,687.5 1033.2,707.5 1043.1,668.2 1047.9,695.0 1052.5,722.5 1061.6,636.1 1070.2,661.0 1090.5,644.4 1108.9,616.9 1125.9,594.0 1131.4,624.8 1141.7,593.1 1156.3,568.6 1170.0,569.5 1182.9,560.3 1195.0,560.8 1206.5,551.8 1217.4,583.8 1237.5,630.4 1255.9,661.9 1272.8,710.3 1288.4,729.1 1303.0,740.5 1316.6,771.1 1329.4,761.9 1341.5,805.8 1352.9,817.9 1363.7,816.1 1383.9,850.2 1402.2,874.2 1410.8,894.2 1419.1,880.7 1434.8,922.7 1449.3,934.1 1463.0,946.7 1475.8,967.1 1481.9,968.2 1487.8,998.4 1499.2,995.3 1510.1,1015.6 1520.4,1031.0 1530.2,1040.0 1539.6,1076.8 1548.6,1087.0 1557.2,1101.1 1577.3,1124.4 1595.7,1151.1 1612.6,1175.0 1628.2,1175.0 1642.8,1175.0 1656.4,1175.0 1669.2,1175.0 1681.3,1175.0 1692.7,1175.0 1703.5,1175.0"/>
<polyline points="239.8,681.0 386.9,678.4 407.1,676.9 434.3,674.5 465.8,670.3 473.0,668.2 486.7,661.3 505.7,651.2 511.7,649.0 534.0,638.1 544.4,639.2 554.3,640.8 559.0,628.5 563.7,640.4 572.7,640.9 581.4,620.3 601.6,626.7 620.1,636.7 637.1,621.7 643.5,626.8 652.8,657.6 667.4,656.8 681.1,642.6 694.0,616.3 706.1,575.6 717.6,596.0 728.5,543.2 748.7,522.6 767.2,515.7 784.2,473.0 789.1,478.9 799.9,456.5 814.6,423.2 828.3,454.3 841.2,428.2 853.3,452.6 864.8,498.5 875.7,474.4 895.9,468.3 914.4,465.0 923.1,506.5 931.4,508.3 947.1,523.5 954.6,498.4 961.8,535.4 975.5,540.5 988.3,547.6 994.5,519.4 1000.5,534.4 1012.0,539.1 1022.8,576.6 1033.2,553.8 1043.1,558.6 1047.9,563.6 1052.5,601.6 1061.6,578.4 1070.2,571.9 1090.5,611.3 1108.9,591.6 1125.9,613.2 1131.4,607.9 1141.7,623.9 1156.3,617.7 1170.0,646.5 1182.9,655.6 1195.0,643.1 1206.5,668.2 1217.4,669.1 1237.5,708.0 1255.9,683.7 1272.8,694.9 1288.4,738.2 1303.0,750.0 1316.6,728.8 1329.4,748.3 1341.5,779.4 1352.9,788.7 1363.7,787.8 1383.9,800.7 1402.2,813.0 1410.8,851.0 1419.1,843.5 1434.8,863.5 1449.3,887.4 1463.0,908.1 1475.8,911.2 1481.9,937.4 1487.8,940.5 1499.2,971.2 1510.1,977.1 1520.4,990.7 1530.2,1012.0 1539.6,1021.3 1548.6,1049.0 1557.2,1064.7 1577.3,1092.4 1595.7,1110.9 1612.6,1142.3 1628.2,1163.6 1642.8,1175.0 1656.4,1175.0 1669.2,1175.0 1681.3,1175.0 1692.7,1175.0 1703.5,1175.0"/>
<polyline points="239.8,686.0 386.9,683.4 407.1,681.9 434.3,679.5 465.8,677.8 473.0,679.6 486.7,682.3 505.7,682.9 511.7,680.7 534.0,687.7 544.4,680.7 554.3,681.1 559.0,686.6 563.7,676.2 572.7,686.7 581.4,690.5 601.6,684.1 620.1,694.4 637.1,691.5 643.5,682.6 652.8,733.6 667.4,724.8 681.1,748.4 694.0,748.1 706.1,750.5 717.6,762.4 728.5,775.7 748.7,725.1 767.2,736.9 784.2,712.5 789.1,716.4 799.9,703.3 814.6,689.4 828.3,693.1 841.2,690.1 853.3,677.8 864.8,658.9 875.7,652.5 895.9,649.4 914.4,701.9 923.1,705.3 931.4,706.4 947.1,738.8 954.6,720.6 961.8,712.0 975.5,782.4 988.3,730.4 994.5,814.1 1000.5,794.9 1012.0,820.4 1022.8,883.9 1033.2,883.7 1043.1,898.8 1047.9,875.6 1052.5,846.8 1061.6,862.5 1070.2,852.7 1090.5,865.4 1108.9,837.4 1125.9,811.5 1131.4,808.4 1141.7,799.0 1156.3,786.5 1170.0,778.1 1182.9,802.3 1195.0,778.2 1206.5,796.7 1217.4,793.6 1237.5,878.5 1255.9,894.3 1272.8,950.8 1288.4,950.3 1303.0,989.3 1316.6,1005.5 1329.4,1027.4 1341.5,1059.9 1352.9,1075.2 1363.7,1078.0 1383.9,1097.5 1402.2,1114.5 1410.8,1140.4 1419.1,1142.8 1434.8,1151.6 1449.3,1175.0 1463.0,1175.0 1475.8,1175.0 1481.9,1175.0 1487.8,1175.0 1499.2,1175.0 1510.1,1175.0 1520.4,1175.0 1530.2,1175.0 1539.6,1175.0 1548.6,1175.0 1557.2,1175.0 1577.3,1175.0 1595.7,1175.0 1612.6,1175.0 1628.2,1175.0 1642.8,1175.0 1656.4,1175.0 1669.2,1175.0 1681.3,1175.0 1692.7,1175.0 1703.5,1175.0"/>
<polyline points="239.8,691.0 386.9,688.4 407.1,686.9 434.3,684.5 465.8,682.6 473.0,684.8 486.7,684.5 505.7,683.2 511.7,678.9 534.0,684.4 544.4,682.2 554.3,685.6 559.0,678.3 563.7,689.2 572.7,681.8 581.4,672.0 601.6,673.0 620.1,669.4 637.1,677.6 643.5,670.8 652.8,673.8 667.4,663.0 681.1,668.6 694.0,629.8 706.1,622.2 717.6,635.4 728.5,590.6 748.7,630.0 767.2,578.3 784.2,585.3 789.1,580.0 799.9,560.8 814.6,580.1 828.3,567.9 841.2,583.9 853.3,545.0 864.8,540.3 875.7,566.7 895.9,556.2 914.4,601.7 923.1,558.6 931.4,558.2 947.1,535.9 954.6,586.2 961.8,555.6 975.5,645.8 988.3,622.5 994.5,623.4 1000.5,640.2 1012.0,626.7 1022.8,622.9 1033.2,629.3 1043.1,647.7 1047.9,710.2 1052.5,731.1 1061.6,686.3 1070.2,730.6 1090.5,764.4 1108.9,711.6 1125.9,724.3 1131.4,734.8 1141.7,752.8 1156.3,728.4 1170.0,751.4 1182.9,733.4 1195.0,760.3 1206.5,761.2 1217.4,769.7 1237.5,747.8 1255.9,791.6 1272.8,799.0 1288.4,841.5 1303.0,819.1 1316.6,831.8 1329.4,843.4 1341.5,865.3 1352.9,889.3 1363.7,878.3 1383.9,907.6 1402.2,935.3 1410.8,954.6 1419.1,949.0 1434.8,977.9 1449.3,988.8 1463.0,1024.5 1475.8,1029.0 1481.9,1050.0 1487.8,1058.6 1499.2,1093.5 1510.1,1096.0 1520.4,1122.4 1530.2,1141.0 1539.6,1153.1 1548.6,1175.0 1557.2,1175.0 1577.3,1175.0 1595.7,1175.0 1612.6,1175.0 1628.2,1175.0 1642.8,1175.0 1656.4,1175.0 1669.2,1175.0 1681.3,1175.0 1692.7,1175.0 1703.5,1175.0"/>
<polyline points="239.8,695.0 386.9,692.4 407.1,690.9 434.3,688.5 465.8,684.9 473.0,685.0 486.7,686.1 505.7,686.3 511.7,685.8 534.0,684.1 544.4,679.6 554.3,679.2 559.0,680.8 563.7,676.9 572.7,679.4 581.4,675.3 601.6,676.9 620.1,664.5 637.1,665.6 643.5,677.5 652.8,649.8 667.4,646.9 681.1,642.8 694.0,660.3 706.1,663.4 717.6,648.5 728.5,649.5 748.7,641.7 767.2,624.1 784.2,652.0 789.1,627.9 799.9,674.2 814.6,612.1 828.3,670.8 841.2,644.2 853.3,653.6 864.8,658.8 875.7,663.9 895.9,673.7 914.4,691.9 923.1,700.4 931.4,659.4 947.1,702.0 954.6,705.9 961.8,678.0 975.5,693.7 988.3,681.3 994.5,643.0 1000.5,665.8 1012.0,610.4 1022.8,640.4 1033.2,615.5 1043.1,623.2 1047.9,590.5 1052.5,601.0 1061.6,598.6 1070.2,583.7 1090.5,606.2 1108.9,596.2 1125.9,622.3 1131.4,627.0 1141.7,636.9 1156.3,669.7 1170.0,660.2 1182.9,674.2 1195.0,680.8 1206.5,702.0 1217.4,716.8 1237.5,718.9 1255.9,758.4 1272.8,783.5 1288.4,794.9 1303.0,811.2 1316.6,822.7 1329.4,850.2 1341.5,875.7 1352.9,887.3 1363.7,904.9 1383.9,923.5 1402.2,949.4 1410.8,955.8 1419.1,969.2 1434.8,979.8 1449.3,1004.0 1463.0,1036.9 1475.8,1045.4 1481.9,1069.3 1487.8,1081.2 1499.2,1090.5 1510.1,1112.4 1520.4,1132.8 1530.2,1159.4 1539.6,1166.2 1548.6,1175.0 1557.2,1175.0 1577.3,1175.0 1595.7,1175.0 1612.6,1175.0 1628.2,1175.0 1642.8,1175.0 1656.4,1175.0 1669.2,1175.0 1681.3,1175.0 1692.7,1175.0 1703.5,1175.0"/>
<polyline points="239.8,700.0 386.9,697.4 407.1,695.9 434.3,693.5 465.8,690.2 473.0,692.0 486.7,692.2 505.7,695.9 511.7,695.2 534.0,692.4 544.4,695.1 554.3,688.0 559.0,692.3 563.7,687.4 572.7,677.8 581.4,684.8 601.6,695.7 620.1,696.1 637.1,698.6 643.5,706.4 652.8,689.0 667.4,704.3 681.1,723.7 694.0,720.3 706.1,679.4 717.6,717.5 728.5,724.0 748.7,693.2 767.2,627.1 784.2,640.9 789.1,612.8 799.9,625.0 814.6,589.3 828.3,575.0 841.2,582.3 853.3,589.9 864.8,540.6 875.7,574.2 895.9,584.0 914.4,560.8 923.1,594.2 931.4,586.8 947.1,619.1 954.6,596.8 961.8,648.4 975.5,647.6 988.3,658.7 994.5,635.6 1000.5,686.7 1012.0,684.9 1022.8,673.1 1033.2,687.4 1043.1,645.8 1047.9,699.3 1052.5,731.9 1061.6,727.2 1070.2,735.1 1090.5,776.4 1108.9,747.2 1125.9,752.7 1131.4,802.7 1141.7,790.9 1156.3,791.1 1170.0,826.8 1182.9,808.0 1195.0,821.6 1206.5,851.2 1217.4,852.9 1237.5,871.3 1255.9,885.4 1272.8,899.1 1288.4,921.3 1303.0,951.7 1316.6,975.1 1329.4,988.0 1341.5,1005.1 1352.9,1001.2 1363.7,1034.9 1383.9,1047.2 1402.2,1091.5 1410.8,1095.2 1419.1,1112.8 1434.8,1128.7 1449.3,1160.5 1463.0,1175.0 1475.8,1175.0 1481.9,1175.0 1487.8,1175.0 1499.2,1175.0 1510.1,1175.0 1520.4,1175.0 1530.2,1175.0 1539.6,1175.0 1548.6,1175.0 1557.2,1175.0 1577.3,1175.0 1595.7,1175.0 1612.6,1175.0 1628.2,1175.0 1642.8,1175.0 1656.4,1175.0 1669.2,1175.0 1681.3,1175.0 1692.7,1175.0 1703.5,1175.0"/>
<polyline points="239.8,705.0 386.9,702.4 407.1,700.9 434.3,698.5 465.8,696.9 473.0,699.1 486.7,699.6 505.7,702.3 511.7,699.3 534.0,698.2 544.4,704.3 554.3,701.3 559.0,705.4 563.7,699.7 572.7,700.8 581.4,684.3 601.6,696.2 620.1,684.6 637.1,665.4 643.5,694.5 652.8,682.3 667.4,659.8 681.1,675.4 694.0,659.4 706.1,633.6 717.6,623.8 728.5,624.5 748.7,584.6 767.2,540.3 784.2,544.5 789.1,534.4 799.9,521.1 814.6,494.9 828.3,481.8 841.2,464.0 853.3,479.0 864.8,461.5 875.7,503.0 895.9,507.7 914.4,469.5 923.1,503.6 931.4,492.9 947.1,482.2 954.6,489.0 961.8,522.2 975.5,499.0 988.3,529.7 994.5,557.4 1000.5,545.2 1012.0,546.2 1022.8,582.8 1033.2,551.9 1043.1,600.6 1047.9,581.7 1052.5,603.5 1061.6,586.9 1070.2,609.5 1090.5,616.3 1108.9,600.6 1125.9,652.2 1131.4,654.3 1141.7,659.0 1156.3,669.0 1170.0,655.3 1182.9,690.7 1195.0,686.7 1206.5,678.5 1217.4,730.6 1237.5,732.6 1255.9,739.8 1272.8,739.9 1288.4,778.1 1303.0,788.1 1316.6,802.9 1329.4,829.7 1341.5,838.6 1352.9,850.7 1363.7,861.1 1383.9,880.6 1402.2,905.8 1410.8,898.0 1419.1,937.2 1434.8,952.4 1449.3,966.7 1463.0,999.7 1475.8,1010.9 1481.9,1028.2 1487.8,1026.6 1499.2,1045.9 1510.1,1066.1 1520.4,1086.0 1530.2,1097.3 1539.6,1130.2 1548.6,1145.3 1557.2,1168.3 1577.3,1175.0 1595.7,1175.0 1612.6,1175.0 1628.2,1175.0 1642.8,1175.0 1656.4,1175.0 1669.2,1175.0 1681.3,1175.0 1692.7,1175.0 1703.5,1175.0"/>
<polyline points="239.8,712.0 386.9,709.4 407.1,707.9 434.3,705.5 465.8,702.0 473.0,700.3 486.7,696.2 505.7,694.8 511.7,691.8 534.0,688.3 544.4,690.7 554.3,680.3 559.0,683.7 563.7,688.0 572.7,673.8 581.4,679.0 601.6,676.7 620.1,677.4 637.1,664.4 643.5,650.1 652.8,659.3 667.4,662.5 681.1,654.3 694.0,644.6 706.1,650.5 717.6,610.8 728.5,617.2 748.7,605.0 767.2,612.5 784.2,608.2 789.1,569.3 799.9,591.1 814.6,578.9 828.3,554.1 841.2,599.2 853.3,572.7 864.8,574.0 875.7,589.9 895.9,580.6 914.4,628.0 923.1,645.3 931.4,660.7 947.1,657.1 954.6,694.3 961.8,706.2 975.5,729.1 988.3,767.7 994.5,777.9 1000.5,773.2 1012.0,781.5 1022.8,746.5 1033.2,751.3 1043.1,697.4 1047.9,717.0 1052.5,707.8 1061.6,701.9 1070.2,670.9 1090.5,694.4 1108.9,672.9 1125.9,653.0 1131.4,642.0 1141.7,642.5 1156.3,673.7 1170.0,687.9 1182.9,711.7 1195.0,725.3 1206.5,747.6 1217.4,753.5 1237.5,803.7 1255.9,837.0 1272.8,855.7 1288.4,906.1 1303.0,875.5 1316.6,887.5 1329.4,930.7 1341.5,913.1 1352.9,940.4 1363.7,942.3 1383.9,949.1 1402.2,979.0 1410.8,979.4 1419.1,994.6 1434.8,1029.2 1449.3,1051.3 1463.0,1066.1 1475.8,1081.4 1481.9,1107.4 1487.8,1125.2 1499.2,1137.8 1510.1,1153.7 1520.4,1175.0 1530.2,1175.0 1539.6,1175.0 1548.6,1175.0 1557.2,1175.0 1577.3,1175.0 1595.7,1175.0 1612.6,1175.0 1628.2,1175.0 1642.8,1175.0 1656.4,1175.0 1669.2,1175.0 1681.3,1175.0 1692.7,1175.0 1703.5,1175.0"/>
<polyline points="239.8,717.0 386.9,714.4 407.1,712.9 434.3,710.5 465.8,709.2 473.0,712.9 486.7,717.5 505.7,719.8 511.7,724.0 534.0,736.1 544.4,748.3 554.3,748.5 559.0,744.9 563.7,741.3 572.7,752.1 581.4,758.6 601.6,781.3 620.1,762.0 637.1,764.1 643.5,761.5 652.8,761.2 667.4,759.3 681.1,756.6 694.0,752.2 706.1,712.8 717.6,723.0 728.5,712.9 748.7,691.2 767.2,636.8 784.2,649.7 789.1,640.3 799.9,637.8 814.6,635.1 828.3,623.4 841.2,604.5 853.3,586.7 864.8,576.6 875.7,598.2 895.9,559.6 914.4,609.1 923.1,591.6 931.4,626.4 947.1,606.6 954.6,582.1 961.8,623.2 975.5,673.8 988.3,659.4 994.5,691.8 1000.5,708.5 1012.0,689.8 1022.8,731.3 1033.2,750.8 1043.1,782.2 1047.9,797.1 1052.5,765.6 1061.6,750.4 1070.2,747.1 1090.5,772.1 1108.9,741.9 1125.9,731.4 1131.4,728.6 1141.7,720.0 1156.3,749.5 1170.0,732.7 1182.9,718.3 1195.0,746.3 1206.5,766.3 1217.4,745.9 1237.5,797.2 1255.9,802.1 1272.8,854.1 1288.4,881.0 1303.0,910.3 1316.6,911.3 1329.4,938.7 1341.5,947.9 1352.9,981.1 1363.7,993.9 1383.9,1002.2 1402.2,1029.0 1410.8,1034.6 1419.1,1062.5 1434.8,1073.2 1449.3,1108.1 1463.0,1140.5 1475.8,1158.4 1481.9,1164.5 1487.8,1164.4 1499.2,1175.0 1510.1,1175.0 1520.4,1175.0 1530.2,1175.0 1539.6,1175.0 1548.6,1175.0 1557.2,1175.0 1577.3,1175.0 1595.7,1175.0 1612.6,1175.0 1628.2,1175.0 1642.8,1175.0 1656.4,1175.0 1669.2,1175.0 1681.3,1175.0 1692.7,1175.0 1703.5,1175.0"/>
<polyline points="239.8,722.0 386.9,719.4 407.1,717.9 434.3,715.5 465.8,712.3 473.0,714.2 486.7,715.2 505.7,720.2 511.7,719.2 534.0,739.9 544.4,745.2 554.3,742.6 559.0,746.5 563.7,748.7 572.7,743.9 581.4,757.0 601.6,739.6 620.1,760.7 637.1,750.2 643.5,764.1 652.8,762.8 667.4,756.2 681.1,748.1 694.0,781.5 706.1,740.6 717.6,709.8 728.5,716.3 748.7,735.6 767.2,691.2 784.2,661.6 789.1,679.4 799.9,655.6 814.6,613.6 828.3,605.9 841.2,606.6 853.3,555.5 864.8,598.3 875.7,597.7 895.9,634.2 914.4,625.1 923.1,658.4 931.4,663.7 947.1,636.8 954.6,605.6 961.8,632.6 975.5,638.2 988.3,663.2 994.5,680.1 1000.5,697.4 1012.0,648.2 1022.8,702.1 1033.2,621.9 1043.1,637.3 1047.9,705.2 1052.5,714.6 1061.6,643.1 1070.2,679.0 1090.5,689.0 1108.9,678.6 1125.9,682.8 1131.4,690.5 1141.7,672.6 1156.3,701.0 1170.0,700.0 1182.9,690.1 1195.0,720.9 1206.5,716.6 1217.4,722.4 1237.5,747.8 1255.9,780.0 1272.8,795.4 1288.4,782.4 1303.0,813.4 1316.6,816.2 1329.4,833.8 1341.5,867.6 1352.9,840.0 1363.7,866.1 1383.9,886.8 1402.2,892.4 1410.8,916.4 1419.1,922.6 1434.8,935.1 1449.3,967.2 1463.0,988.3 1475.8,1014.9 1481.9,1027.7 1487.8,1026.4 1499.2,1056.1 1510.1,1069.7 1520.4,1086.5 1530.2,1109.5 1539.6,1132.7 1548.6,1152.0 1557.2,1169.1 1577.3,1175.0 1595.7,1175.0 1612.6,1175.0 1628.2,1175.0 1642.8,1175.0 1656.4,1175.0 1669.2,1175.0 1681.3,1175.0 1692.7,1175.0 1703.5,1175.0"/>
<polyline points="239.8,727.0 386.9,724.4 407.1,722.9 434.3,720.5 465.8,719.3 473.0,719.6 486.7,716.7 505.7,717.3 511.7,716.1 534.0,705.6 544.4,706.0 554.3,711.0 559.0,698.6 563.7,699.2 572.7,679.3 581.4,689.5 601.6,684.3 620.1,654.2 637.1,625.0 643.5,645.5 652.8,618.8 667.4,633.5 681.1,638.2 694.0,663.1 706.1,635.4 717.6,670.1 728.5,676.5 748.7,669.6 767.2,707.5 784.2,680.0 789.1,686.4 799.9,712.0 814.6,684.1 828.3,670.8 841.2,661.6 853.3,643.1 864.8,659.8 875.7,633.4 895.9,571.6 914.4,585.1 923.1,591.1 931.4,550.3 947.1,548.4 954.6,551.9 961.8,538.6 975.5,540.5 988.3,561.8 994.5,556.4 1000.5,542.7 1012.0,555.0 1022.8,588.7 1033.2,602.0 1043.1,585.2 1047.9,593.1 1052.5,571.5 1061.6,559.0 1070.2,594.9 1090.5,611.6 1108.9,617.8 1125.9,623.0 1131.4,640.1 1141.7,641.8 1156.3,682.9 1170.0,689.3 1182.9,682.9 1195.0,682.4 1206.5,699.7 1217.4,729.2 1237.5,739.6 1255.9,795.2 1272.8,787.6 1288.4,830.0 1303.0,852.0 1316.6,862.7 1329.4,878.3 1341.5,906.0 1352.9,928.3 1363.7,930.1 1383.9,946.5 1402.2,994.2 1410.8,1002.9 1419.1,1007.6 1434.8,1034.1 1449.3,1054.1 1463.0,1080.9 1475.8,1069.1 1481.9,1099.2 1487.8,1086.9 1499.2,1123.6 1510.1,1141.6 1520.4,1157.3 1530.2,1172.0 1539.6,1175.0 1548.6,1175.0 1557.2,1175.0 1577.3,1175.0 1595.7,1175.0 1612.6,1175.0 1628.2,1175.0 1642.8,1175.0 1656.4,1175.0 1669.2,1175.0 1681.3,1175.0 1692.7,1175.0 1703.5,1175.0"/>
<polyline points="239.8,732.0 386.9,729.4 407.1,727.9 434.3,725.5 465.8,722.2 473.0,722.2 486.7,726.5 505.7,724.8 511.7,727.8 534.0,734.0 544.4,742.4 554.3,757.1 559.0,751.6 563.7,748.8 572.7,751.2 581.4,754.3 601.6,747.8 620.1,746.7 637.1,741.5 643.5,730.4 652.8,737.9 667.4,725.0 681.1,710.8 694.0,675.7 706.1,707.6 717.6,700.1 728.5,671.1 748.7,665.4 767.2,694.7 784.2,673.3 789.1,668.3 799.9,702.9 814.6,694.3 828.3,715.6 841.2,741.2 853.3,681.3 864.8,692.2 875.7,710.8 895.9,700.2 914.4,747.0 923.1,745.8 931.4,710.0 947.1,770.4 954.6,765.4 961.8,766.4 975.5,781.6 988.3,793.3 994.5,786.3 1000.5,812.0 1012.0,793.6 1022.8,784.8 1033.2,818.2 1043.1,838.0 1047.9,800.6 1052.5,824.8 1061.6,775.4 1070.2,780.9 1090.5,848.4 1108.9,822.0 1125.9,854.4 1131.4,838.5 1141.7,831.8 1156.3,825.9 1170.0,881.8 1182.9,853.2 1195.0,904.1 1206.5,898.3 1217.4,878.8 1237.5,890.2 1255.9,928.2 1272.8,935.7 1288.4,966.0 1303.0,1005.1 1316.6,1026.9 1329.4,1039.1 1341.5,1065.8 1352.9,1089.5 1363.7,1095.3 1383.9,1124.1 1402.2,1146.4 1410.8,1162.2 1419.1,1175.0 1434.8,1175.0 1449.3,1175.0 1463.0,1175.0 1475.8,1175.0 1481.9,1175.0 1487.8,1175.0 1499.2,1175.0 1510.1,1175.0 1520.4,1175.0 1530.2,1175.0 1539.6,1175.0 1548.6,1175.0 1557.2,1175.0 1577.3,1175.0 1595.7,1175.0 1612.6,1175.0 1628.2,1175.0 1642.8,1175.0 1656.4,1175.0 1669.2,1175.0 1681.3,1175.0 1692.7,1175.0 1703.5,1175.0"/>
<polyline points="239.8,737.0 386.9,734.4 407.1,732.9 434.3,730.5 465.8,726.1 473.0,724.9 486.7,716.1 505.7,703.8 511.7,704.2 534.0,681.0 544.4,688.8 554.3,690.1 559.0,680.3 563.7,690.2 572.7,694.4 581.4,694.6 601.6,705.8 620.1,701.4 637.1,738.3 643.5,759.3 652.8,754.4 667.4,743.5 681.1,756.8 694.0,753.0 706.1,753.9 717.6,723.7 728.5,749.3 748.7,685.9 767.2,701.8 784.2,692.5 789.1,682.7 799.9,655.5 814.6,635.7 828.3,640.6 841.2,611.2 853.3,616.3 864.8,621.9 875.7,608.2 895.9,574.6 914.4,612.3 923.1,559.8 931.4,569.4 947.1,560.3 954.6,559.3 961.8,543.8 975.5,556.4 988.3,543.1 994.5,541.9 1000.5,572.9 1012.0,591.2 1022.8,597.2 1033.2,605.9 1043.1,613.9 1047.9,630.6 1052.5,608.1 1061.6,627.8 1070.2,634.6 1090.5,657.3 1108.9,685.6 1125.9,723.8 1131.4,720.5 1141.7,714.1 1156.3,754.3 1170.0,754.8 1182.9,786.3 1195.0,802.9 1206.5,834.6 1217.4,822.8 1237.5,824.7 1255.9,859.9 1272.8,875.8 1288.4,921.5 1303.0,943.0 1316.6,930.5 1329.4,970.2 1341.5,976.0 1352.9,985.9 1363.7,1024.0 1383.9,1036.2 1402.2,1072.0 1410.8,1071.3 1419.1,1087.5 1434.8,1096.0 1449.3,1118.1 1463.0,1140.3 1475.8,1153.4 1481.9,1146.8 1487.8,1151.6 1499.2,1165.2 1510.1,1175.0 1520.4,1175.0 1530.2,1175.0 1539.6,1175.0 1548.6,1175.0 1557.2,1175.0 1577.3,1175.0 1595.7,1175.0 1612.6,1175.0 1628.2,1175.0 1642.8,1175.0 1656.4,1175.0 1669.2,1175.0 1681.3,1175.0 1692.7,1175.0 1703.5,1175.0"/>
<polyline points="239.8,741.0 386.9,738.4 407.1,736.9 434.3,734.5 465.8,733.1 473.0,731.6 486.7,735.7 505.7,739.4 511.7,739.7 534.0,739.1 544.4,739.1 554.3,731.6 559.0,736.9 563.7,735.1 572.7,743.9 581.4,737.7 601.6,724.5 620.1,730.5 637.1,716.1 643.5,736.0 652.8,745.3 667.4,732.1 681.1,738.2 694.0,757.2 706.1,741.0 717.6,723.6 728.5,727.5 748.7,748.2 767.2,731.0 784.2,727.0 789.1,743.0 799.9,719.7 814.6,752.0 828.3,730.8 841.2,739.3 853.3,707.3 864.8,746.9 875.7,756.0 895.9,760.0 914.4,724.3 923.1,752.7 931.4,729.9 947.1,750.6 954.6,764.5 961.8,746.8 975.5,705.2 988.3,712.3 994.5,757.3 1000.5,709.8 1012.0,736.9 1022.8,698.7 1033.2,652.7 1043.1,744.2 1047.9,681.4 1052.5,686.6 1061.6,646.4 1070.2,654.4 1090.5,712.8 1108.9,692.8 1125.9,700.2 1131.4,689.9 1141.7,710.8 1156.3,708.9 1170.0,754.4 1182.9,755.6 1195.0,730.1 1206.5,772.7 1217.4,767.7 1237.5,802.9 1255.9,821.4 1272.8,852.5 1288.4,912.8 1303.0,913.2 1316.6,926.5 1329.4,965.2 1341.5,994.4 1352.9,1004.9 1363.7,1009.4 1383.9,1028.1 1402.2,1048.6 1410.8,1071.7 1419.1,1071.0 1434.8,1096.6 1449.3,1141.1 1463.0,1149.8 1475.8,1169.8 1481.9,1175.0 1487.8,1175.0 1499.2,1175.0 1510.1,1175.0 1520.4,1175.0 1530.2,1175.0 1539.6,1175.0 1548.6,1175.0 1557.2,1175.0 1577.3,1175.0 1595.7,1175.0 1612.6,1175.0 1628.2,1175.0 1642.8,1175.0 1656.4,1175.0 1669.2,1175.0 1681.3,1175.0 1692.7,1175.0 1703.5,1175.0"/>
<polyline points="239.8,745.0 386.9,742.4 407.1,740.9 434.3,738.5 465.8,737.0 473.0,738.3 486.7,745.6 505.7,745.9 511.7,746.4 534.0,750.9 544.4,759.5 554.3,757.0 559.0,751.3 563.7,751.1 572.7,756.8 581.4,763.1 601.6,760.9 620.1,743.1 637.1,751.1 643.5,740.6 652.8,723.5 667.4,735.7 681.1,700.2 694.0,703.5 706.1,682.4 717.6,674.5 728.5,649.0 748.7,642.2 767.2,642.8 784.2,603.3 789.1,608.0 799.9,581.3 814.6,624.1 828.3,586.4 841.2,573.7 853.3,585.7 864.8,586.7 875.7,598.0 895.9,611.2 914.4,612.4 923.1,620.1 931.4,649.4 947.1,648.8 954.6,650.9 961.8,649.7 975.5,667.3 988.3,719.4 994.5,716.8 1000.5,661.7 1012.0,709.6 1022.8,741.2 1033.2,734.2 1043.1,750.7 1047.9,723.6 1052.5,756.0 1061.6,724.4 1070.2,764.4 1090.5,793.0 1108.9,771.0 1125.9,804.6 1131.4,796.6 1141.7,830.1 1156.3,811.3 1170.0,800.6 1182.9,813.0 1195.0,780.1 1206.5,787.2 1217.4,794.7 1237.5,819.3 1255.9,822.5 1272.8,823.4 1288.4,862.2 1303.0,881.6 1316.6,919.9 1329.4,920.6 1341.5,935.9 1352.9,967.8 1363.7,975.9 1383.9,994.7 1402.2,1047.2 1410.8,1049.4 1419.1,1058.4 1434.8,1076.6 1449.3,1105.4 1463.0,1116.7 1475.8,1158.3 1481.9,1162.1 1487.8,1175.0 1499.2,1175.0 1510.1,1175.0 1520.4,1175.0 1530.2,1175.0 1539.6,1175.0 1548.6,1175.0 1557.2,1175.0 1577.3,1175.0 1595.7,1175.0 1612.6,1175.0 1628.2,1175.0 1642.8,1175.0 1656.4,1175.0 1669.2,1175.0 1681.3,1175.0 1692.7,1175.0 1703.5,1175.0"/>
<polyline points="239.8,750.0 386.9,747.4 407.1,745.9 434.3,743.5 465.8,741.9 473.0,745.6 486.7,748.4 505.7,752.8 511.7,755.3 534.0,756.0 544.4,755.3 554.3,758.1 559.0,766.0 563.7,763.8 572.7,762.5 581.4,764.2 601.6,744.1 620.1,739.8 637.1,744.5 643.5,740.0 652.8,726.6 667.4,719.5 681.1,725.3 694.0,670.3 706.1,697.1 717.6,699.9 728.5,706.4 748.7,711.1 767.2,696.8 784.2,715.5 789.1,717.4 799.9,713.0 814.6,690.1 828.3,722.2 841.2,731.4 853.3,737.4 864.8,724.0 875.7,738.3 895.9,746.4 914.4,747.4 923.1,750.3 931.4,759.4 947.1,764.6 954.6,782.5 961.8,797.6 975.5,823.1 988.3,785.0 994.5,791.4 1000.5,820.2 1012.0,775.6 1022.8,826.2 1033.2,832.0 1043.1,799.4 1047.9,791.8 1052.5,796.9 1061.6,787.4 1070.2,808.2 1090.5,802.9 1108.9,759.1 1125.9,781.0 1131.4,767.0 1141.7,746.5 1156.3,802.8 1170.0,791.9 1182.9,804.0 1195.0,806.9 1206.5,834.1 1217.4,832.0 1237.5,864.9 1255.9,868.1 1272.8,897.3 1288.4,930.5 1303.0,932.0 1316.6,920.9 1329.4,954.8 1341.5,973.7 1352.9,996.1 1363.7,1009.7 1383.9,1017.8 1402.2,1045.5 1410.8,1059.0 1419.1,1054.1 1434.8,1095.4 1449.3,1122.2 1463.0,1153.6 1475.8,1162.1 1481.9,1175.0 1487.8,1175.0 1499.2,1175.0 1510.1,1175.0 1520.4,1175.0 1530.2,1175.0 1539.6,1175.0 1548.6,1175.0 1557.2,1175.0 1577.3,1175.0 1595.7,1175.0 1612.6,1175.0 1628.2,1175.0 1642.8,1175.0 1656.4,1175.0 1669.2,1175.0 1681.3,1175.0 1692.7,1175.0 1703.5,1175.0"/>
<polyline points="239.8,753.0 386.9,750.4 407.1,748.9 434.3,746.5 465.8,746.0 473.0,748.9 486.7,753.6 505.7,760.8 511.7,765.4 534.0,768.5 544.4,765.1 554.3,768.0 559.0,778.6 563.7,766.6 572.7,780.7 581.4,769.7 601.6,764.5 620.1,764.3 637.1,761.7 643.5,773.3 652.8,762.8 667.4,773.6 681.1,789.9 694.0,802.0 706.1,781.2 717.6,772.9 728.5,782.6 748.7,786.3 767.2,798.9 784.2,774.2 789.1,783.1 799.9,742.3 814.6,762.8 828.3,755.1 841.2,755.0 853.3,733.4 864.8,740.4 875.7,721.6 895.9,772.0 914.4,724.2 923.1,757.5 931.4,704.1 947.1,704.6 954.6,695.3 961.8,704.3 975.5,661.0 988.3,680.3 994.5,675.8 1000.5,655.9 1012.0,633.0 1022.8,636.1 1033.2,631.7 1043.1,635.3 1047.9,592.5 1052.5,602.9 1061.6,612.5 1070.2,610.9 1090.5,647.2 1108.9,677.0 1125.9,687.7 1131.4,689.4 1141.7,730.5 1156.3,707.9 1170.0,751.9 1182.9,738.7 1195.0,767.1 1206.5,802.8 1217.4,804.6 1237.5,845.4 1255.9,855.2 1272.8,875.6 1288.4,923.5 1303.0,949.4 1316.6,959.5 1329.4,969.5 1341.5,1000.4 1352.9,1002.2 1363.7,1012.7 1383.9,1039.4 1402.2,1039.5 1410.8,1049.9 1419.1,1051.1 1434.8,1082.1 1449.3,1096.2 1463.0,1114.8 1475.8,1133.2 1481.9,1121.9 1487.8,1142.6 1499.2,1164.8 1510.1,1175.0 1520.4,1175.0 1530.2,1175.0 1539.6,1175.0 1548.6,1175.0 1557.2,1175.0 1577.3,1175.0 1595.7,1175.0 1612.6,1175.0 1628.2,1175.0 1642.8,1175.0 1656.4,1175.0 1669.2,1175.0 1681.3,1175.0 1692.7,1175.0 1703.5,1175.0"/>
<polyline points="239.8,760.0 386.9,757.4 407.1,755.9 434.3,753.5 465.8,750.3 473.0,750.6 486.7,749.5 505.7,748.6 511.7,749.0 534.0,736.4 544.4,735.6 554.3,714.3 559.0,711.3 563.7,698.5 572.7,698.1 581.4,676.8 601.6,663.9 620.1,603.0 637.1,579.1 643.5,567.1 652.8,550.4 667.4,547.9 681.1,524.4 694.0,526.3 706.1,517.2 717.6,536.6 728.5,487.5 748.7,547.0 767.2,511.9 784.2,529.3 789.1,522.1 799.9,499.3 814.6,526.1 828.3,559.8 841.2,534.0 853.3,528.9 864.8,567.1 875.7,540.2 895.9,553.0 914.4,559.9 923.1,561.0 931.4,567.7 947.1,576.2 954.6,594.6 961.8,600.2 975.5,544.8 988.3,597.3 994.5,610.8 1000.5,601.2 1012.0,622.6 1022.8,617.8 1033.2,603.5 1043.1,643.1 1047.9,620.8 1052.5,621.0 1061.6,628.0 1070.2,628.0 1090.5,621.5 1108.9,613.2 1125.9,639.6 1131.4,621.0 1141.7,616.6 1156.3,627.4 1170.0,611.5 1182.9,613.1 1195.0,619.2 1206.5,588.9 1217.4,610.6 1237.5,602.7 1255.9,622.2 1272.8,614.5 1288.4,649.5 1303.0,672.4 1316.6,664.2 1329.4,675.6 1341.5,677.4 1352.9,698.0 1363.7,691.6 1383.9,707.8 1402.2,736.5 1410.8,755.2 1419.1,750.9 1434.8,787.2 1449.3,817.0 1463.0,827.8 1475.8,845.3 1481.9,863.5 1487.8,865.1 1499.2,893.0 1510.1,918.3 1520.4,915.9 1530.2,944.6 1539.6,977.9 1548.6,972.2 1557.2,990.5 1577.3,999.0 1595.7,1015.9 1612.6,1042.5 1628.2,1055.9 1642.8,1059.9 1656.4,1066.7 1669.2,1090.2 1681.3,1105.9 1692.7,1105.2 1703.5,1127.9"/>
<polyline points="239.8,765.0 386.9,762.4 407.1,760.9 434.3,758.5 465.8,755.8 473.0,756.7 486.7,757.4 505.7,757.8 511.7,757.6 534.0,758.9 544.4,757.3 554.3,765.7 559.0,753.0 563.7,763.8 572.7,761.2 581.4,761.7 601.6,765.1 620.1,777.0 637.1,759.9 643.5,756.5 652.8,770.7 667.4,762.1 681.1,736.4 694.0,764.7 706.1,760.7 717.6,766.7 728.5,768.8 748.7,772.9 767.2,757.6 784.2,756.6 789.1,729.4 799.9,752.2 814.6,712.6 828.3,730.8 841.2,736.9 853.3,743.5 864.8,730.6 875.7,699.8 895.9,746.7 914.4,710.7 923.1,727.5 931.4,761.6 947.1,742.7 954.6,729.3 961.8,715.2 975.5,807.6 988.3,801.9 994.5,792.6 1000.5,804.2 1012.0,753.2 1022.8,800.6 1033.2,762.3 1043.1,782.6 1047.9,777.8 1052.5,823.0 1061.6,809.6 1070.2,807.3 1090.5,793.7 1108.9,853.1 1125.9,824.8 1131.4,819.7 1141.7,792.8 1156.3,808.2 1170.0,813.3 1182.9,816.3 1195.0,863.0 1206.5,835.6 1217.4,838.2 1237.5,885.0 1255.9,924.2 1272.8,937.1 1288.4,980.3 1303.0,1011.7 1316.6,1054.1 1329.4,1093.0 1341.5,1089.9 1352.9,1104.3 1363.7,1129.3 1383.9,1138.4 1402.2,1171.4 1410.8,1171.5 1419.1,1175.0 1434.8,1175.0 1449.3,1175.0 1463.0,1175.0 1475.8,1175.0 1481.9,1175.0 1487.8,1175.0 1499.2,1175.0 1510.1,1175.0 1520.4,1175.0 1530.2,1175.0 1539.6,1175.0 1548.6,1175.0 1557.2,1175.0 1577.3,1175.0 1595.7,1175.0 1612.6,1175.0 1628.2,1175.0 1642.8,1175.0 1656.4,1175.0 1669.2,1175.0 1681.3,1175.0 1692.7,1175.0 1703.5,1175.0"/>
<polyline points="239.8,770.0 386.9,767.4 407.1,765.9 434.3,763.5 465.8,761.3 473.0,761.2 486.7,762.3 505.7,760.5 511.7,761.8 534.0,760.1 544.4,761.5 554.3,757.0 559.0,757.3 563.7,757.2 572.7,757.6 581.4,752.3 601.6,750.8 620.1,747.3 637.1,736.5 643.5,729.1 652.8,714.1 667.4,710.4 681.1,711.6 694.0,677.4 706.1,692.1 717.6,663.9 728.5,647.7 748.7,660.1 767.2,632.9 784.2,614.3 789.1,642.1 799.9,625.2 814.6,615.6 828.3,612.6 841.2,583.6 853.3,629.1 864.8,631.2 875.7,609.6 895.9,627.8 914.4,686.2 923.1,663.4 931.4,684.0 947.1,680.0 954.6,709.2 961.8,788.8 975.5,753.7 988.3,754.9 994.5,769.3 1000.5,740.6 1012.0,735.1 1022.8,745.0 1033.2,708.3 1043.1,711.7 1047.9,689.2 1052.5,689.5 1061.6,687.9 1070.2,665.4 1090.5,648.9 1108.9,630.8 1125.9,613.8 1131.4,663.6 1141.7,642.7 1156.3,695.9 1170.0,714.0 1182.9,756.9 1195.0,761.3 1206.5,796.3 1217.4,807.7 1237.5,868.9 1255.9,944.9 1272.8,940.2 1288.4,955.2 1303.0,976.1 1316.6,957.3 1329.4,968.7 1341.5,990.9 1352.9,986.7 1363.7,991.3 1383.9,999.5 1402.2,998.5 1410.8,1013.9 1419.1,1005.0 1434.8,1056.6 1449.3,1073.3 1463.0,1092.5 1475.8,1120.3 1481.9,1118.5 1487.8,1133.3 1499.2,1159.2 1510.1,1168.6 1520.4,1175.0 1530.2,1175.0 1539.6,1175.0 1548.6,1175.0 1557.2,1175.0 1577.3,1175.0 1595.7,1175.0 1612.6,1175.0 1628.2,1175.0 1642.8,1175.0 1656.4,1175.0 1669.2,1175.0 1681.3,1175.0 1692.7,1175.0 1703.5,1175.0"/>
<polyline points="239.8,774.0 386.9,771.4 407.1,769.9 434.3,767.5 465.8,764.2 473.0,762.5 486.7,759.6 505.7,751.1 511.7,748.9 534.0,744.4 544.4,743.1 554.3,741.1 559.0,740.1 563.7,743.2 572.7,741.8 581.4,728.7 601.6,746.5 620.1,744.3 637.1,753.1 643.5,728.4 652.8,703.4 667.4,717.8 681.1,716.9 694.0,666.3 706.1,673.1 717.6,663.1 728.5,654.9 748.7,602.3 767.2,577.9 784.2,531.4 789.1,562.9 799.9,594.1 814.6,627.9 828.3,615.2 841.2,567.6 853.3,598.8 864.8,607.0 875.7,626.8 895.9,614.0 914.4,625.6 923.1,625.4 931.4,617.6 947.1,647.1 954.6,639.5 961.8,634.0 975.5,663.0 988.3,665.1 994.5,644.8 1000.5,657.6 1012.0,651.6 1022.8,649.1 1033.2,681.6 1043.1,643.7 1047.9,661.1 1052.5,659.4 1061.6,717.0 1070.2,677.9 1090.5,756.8 1108.9,734.8 1125.9,750.5 1131.4,736.3 1141.7,774.2 1156.3,796.2 1170.0,812.8 1182.9,828.0 1195.0,830.1 1206.5,837.4 1217.4,849.2 1237.5,871.4 1255.9,881.1 1272.8,882.1 1288.4,920.2 1303.0,909.8 1316.6,931.7 1329.4,932.2 1341.5,967.0 1352.9,968.7 1363.7,979.7 1383.9,989.2 1402.2,1021.4 1410.8,1044.1 1419.1,1049.6 1434.8,1076.2 1449.3,1090.5 1463.0,1130.3 1475.8,1155.8 1481.9,1167.8 1487.8,1175.0 1499.2,1175.0 1510.1,1175.0 1520.4,1175.0 1530.2,1175.0 1539.6,1175.0 1548.6,1175.0 1557.2,1175.0 1577.3,1175.0 1595.7,1175.0 1612.6,1175.0 1628.2,1175.0 1642.8,1175.0 1656.4,1175.0 1669.2,1175.0 1681.3,1175.0 1692.7,1175.0 1703.5,1175.0"/>
<polyline points="239.8,778.0 386.9,775.4 407.1,773.9 434.3,771.5 465.8,766.5 473.0,763.9 486.7,762.8 505.7,758.6 511.7,756.3 534.0,756.6 544.4,752.2 554.3,752.2 559.0,747.8 563.7,750.7 572.7,754.5 581.4,747.0 601.6,735.3 620.1,734.3 637.1,761.0 643.5,711.5 652.8,714.0 667.4,713.1 681.1,683.4 694.0,675.2 706.1,659.5 717.6,653.9 728.5,665.1 748.7,636.2 767.2,572.7 784.2,631.3 789.1,623.8 799.9,608.8 814.6,576.0 828.3,583.0 841.2,540.4 853.3,570.7 864.8,575.0 875.7,560.5 895.9,527.2 914.4,581.2 923.1,562.1 931.4,524.1 947.1,545.5 954.6,555.5 961.8,564.5 975.5,581.6 988.3,603.2 994.5,578.6 1000.5,575.3 1012.0,600.5 1022.8,574.9 1033.2,633.4 1043.1,622.2 1047.9,618.2 1052.5,636.1 1061.6,644.5 1070.2,616.9 1090.5,605.4 1108.9,643.1 1125.9,660.0 1131.4,684.4 1141.7,690.9 1156.3,706.0 1170.0,717.7 1182.9,684.2 1195.0,711.7 1206.5,738.7 1217.4,706.3 1237.5,719.3 1255.9,768.1 1272.8,791.1 1288.4,801.1 1303.0,784.9 1316.6,837.9 1329.4,827.5 1341.5,846.0 1352.9,843.6 1363.7,862.3 1383.9,885.8 1402.2,910.1 1410.8,919.4 1419.1,923.0 1434.8,959.2 1449.3,967.1 1463.0,981.3 1475.8,1011.8 1481.9,1029.9 1487.8,1028.3 1499.2,1054.0 1510.1,1067.3 1520.4,1091.2 1530.2,1113.6 1539.6,1133.2 1548.6,1154.2 1557.2,1175.0 1577.3,1175.0 1595.7,1175.0 1612.6,1175.0 1628.2,1175.0 1642.8,1175.0 1656.4,1175.0 1669.2,1175.0 1681.3,1175.0 1692.7,1175.0 1703.5,1175.0"/>
<polyline points="239.8,787.0 386.9,784.4 407.1,782.9 434.3,780.5 465.8,775.6 473.0,773.9 486.7,771.1 505.7,764.2 511.7,764.4 534.0,764.6 544.4,757.2 554.3,757.7 559.0,751.8 563.7,755.5 572.7,749.7 581.4,755.1 601.6,738.6 620.1,732.8 637.1,722.8 643.5,732.5 652.8,723.4 667.4,734.0 681.1,710.8 694.0,711.6 706.1,727.7 717.6,696.5 728.5,717.6 748.7,692.3 767.2,691.9 784.2,651.4 789.1,684.5 799.9,687.9 814.6,697.4 828.3,662.7 841.2,698.8 853.3,731.7 864.8,682.4 875.7,708.1 895.9,723.2 914.4,730.6 923.1,743.0 931.4,717.9 947.1,728.5 954.6,699.1 961.8,720.0 975.5,675.8 988.3,735.8 994.5,723.6 1000.5,764.8 1012.0,700.5 1022.8,717.4 1033.2,729.0 1043.1,736.4 1047.9,707.3 1052.5,703.3 1061.6,727.8 1070.2,748.0 1090.5,732.2 1108.9,771.5 1125.9,822.2 1131.4,844.6 1141.7,821.9 1156.3,858.5 1170.0,875.8 1182.9,895.3 1195.0,919.8 1206.5,932.1 1217.4,938.8 1237.5,949.9 1255.9,952.3 1272.8,990.4 1288.4,1005.8 1303.0,1000.5 1316.6,1008.7 1329.4,1032.8 1341.5,1022.0 1352.9,1040.9 1363.7,1061.4 1383.9,1056.9 1402.2,1088.1 1410.8,1092.6 1419.1,1101.2 1434.8,1135.3 1449.3,1139.9 1463.0,1173.7 1475.8,1175.0 1481.9,1175.0 1487.8,1175.0 1499.2,1175.0 1510.1,1175.0 1520.4,1175.0 1530.2,1175.0 1539.6,1175.0 1548.6,1175.0 1557.2,1175.0 1577.3,1175.0 1595.7,1175.0 1612.6,1175.0 1628.2,1175.0 1642.8,1175.0 1656.4,1175.0 1669.2,1175.0 1681.3,1175.0 1692.7,1175.0 1703.5,1175.0"/>
<polyline points="239.8,795.0 386.9,792.4 407.1,790.9 434.3,788.5 465.8,786.4 473.0,788.0 486.7,788.2 505.7,785.3 511.7,789.6 534.0,789.0 544.4,787.1 554.3,790.0 559.0,790.8 563.7,784.1 572.7,786.9 581.4,795.5 601.6,777.3 620.1,774.7 637.1,758.1 643.5,768.8 652.8,700.2 667.4,730.6 681.1,749.1 694.0,708.0 706.1,721.4 717.6,703.7 728.5,674.4 748.7,686.3 767.2,690.9 784.2,663.1 789.1,653.2 799.9,649.4 814.6,679.3 828.3,655.9 841.2,681.0 853.3,702.6 864.8,682.5 875.7,726.9 895.9,724.0 914.4,712.0 923.1,731.6 931.4,722.1 947.1,717.2 954.6,737.7 961.8,696.2 975.5,705.7 988.3,756.5 994.5,709.0 1000.5,729.9 1012.0,745.6 1022.8,691.8 1033.2,729.8 1043.1,723.8 1047.9,743.9 1052.5,716.4 1061.6,739.6 1070.2,721.8 1090.5,730.3 1108.9,769.5 1125.9,762.6 1131.4,770.8 1141.7,806.6 1156.3,795.6 1170.0,806.9 1182.9,833.9 1195.0,826.9 1206.5,853.5 1217.4,890.8 1237.5,890.4 1255.9,891.2 1272.8,905.9 1288.4,946.5 1303.0,956.2 1316.6,954.2 1329.4,957.7 1341.5,991.7 1352.9,999.6 1363.7,1012.3 1383.9,1046.4 1402.2,1052.3 1410.8,1070.8 1419.1,1080.1 1434.8,1110.0 1449.3,1143.3 1463.0,1159.2 1475.8,1175.0 1481.9,1175.0 1487.8,1175.0 1499.2,1175.0 1510.1,1175.0 1520.4,1175.0 1530.2,1175.0 1539.6,1175.0 1548.6,1175.0 1557.2,1175.0 1577.3,1175.0 1595.7,1175.0 1612.6,1175.0 1628.2,1175.0 1642.8,1175.0 1656.4,1175.0 1669.2,1175.0 1681.3,1175.0 1692.7,1175.0 1703.5,1175.0"/>
<polyline points="239.8,800.0 386.9,797.4 407.1,795.9 434.3,793.5 465.8,788.1 473.0,784.1 486.7,778.5 505.7,766.3 511.7,768.1 534.0,752.9 544.4,747.7 554.3,746.5 559.0,736.7 563.7,738.0 572.7,737.3 581.4,735.0 601.6,706.8 620.1,722.6 637.1,721.5 643.5,706.5 652.8,696.9 667.4,714.9 681.1,696.1 694.0,712.8 706.1,698.5 717.6,677.8 728.5,714.5 748.7,706.6 767.2,646.2 784.2,648.0 789.1,605.6 799.9,616.9 814.6,574.7 828.3,544.9 841.2,552.6 853.3,524.7 864.8,502.6 875.7,523.8 895.9,493.2 914.4,513.7 923.1,543.7 931.4,529.0 947.1,565.4 954.6,563.7 961.8,590.0 975.5,624.9 988.3,656.9 994.5,627.0 1000.5,644.8 1012.0,673.5 1022.8,682.3 1033.2,675.5 1043.1,701.4 1047.9,699.6 1052.5,667.4 1061.6,666.0 1070.2,675.7 1090.5,677.3 1108.9,657.2 1125.9,661.2 1131.4,646.9 1141.7,672.8 1156.3,636.4 1170.0,628.4 1182.9,650.6 1195.0,651.5 1206.5,641.1 1217.4,658.4 1237.5,674.4 1255.9,635.3 1272.8,662.4 1288.4,661.7 1303.0,674.9 1316.6,690.9 1329.4,703.5 1341.5,712.3 1352.9,713.0 1363.7,743.4 1383.9,761.6 1402.2,790.5 1410.8,786.8 1419.1,797.7 1434.8,816.8 1449.3,848.8 1463.0,860.3 1475.8,890.6 1481.9,895.3 1487.8,893.1 1499.2,903.4 1510.1,920.5 1520.4,945.2 1530.2,949.5 1539.6,968.5 1548.6,988.4 1557.2,1006.0 1577.3,1035.9 1595.7,1061.8 1612.6,1079.7 1628.2,1091.4 1642.8,1106.9 1656.4,1112.6 1669.2,1123.9 1681.3,1132.6 1692.7,1139.5 1703.5,1149.5"/>
<polyline points="239.8,818.0 386.9,815.4 407.1,813.9 434.3,811.5 465.8,808.5 473.0,807.7 486.7,808.7 505.7,810.9 511.7,812.6 534.0,818.1 544.4,816.8 554.3,819.4 559.0,819.6 563.7,815.6 572.7,823.2 581.4,810.6 601.6,802.2 620.1,807.9 637.1,790.7 643.5,782.9 652.8,803.9 667.4,763.6 681.1,762.5 694.0,741.2 706.1,743.2 717.6,731.4 728.5,742.3 748.7,699.3 767.2,677.5 784.2,686.7 789.1,667.0 799.9,651.3 814.6,651.7 828.3,639.6 841.2,638.0 853.3,663.3 864.8,654.0 875.7,664.4 895.9,665.3 914.4,732.0 923.1,761.0 931.4,735.1 947.1,761.2 954.6,803.2 961.8,777.0 975.5,825.3 988.3,815.2 994.5,837.5 1000.5,823.3 1012.0,840.0 1022.8,860.9 1033.2,825.0 1043.1,824.7 1047.9,822.4 1052.5,818.5 1061.6,827.0 1070.2,810.7 1090.5,829.8 1108.9,833.6 1125.9,834.2 1131.4,815.7 1141.7,796.6 1156.3,832.2 1170.0,837.5 1182.9,841.7 1195.0,817.3 1206.5,829.8 1217.4,844.6 1237.5,839.0 1255.9,863.9 1272.8,864.0 1288.4,875.0 1303.0,868.8 1316.6,864.8 1329.4,895.8 1341.5,912.5 1352.9,912.5 1363.7,914.8 1383.9,936.2 1402.2,946.1 1410.8,954.4 1419.1,955.3 1434.8,1003.5 1449.3,1043.0 1463.0,1075.7 1475.8,1111.1 1481.9,1125.8 1487.8,1134.5 1499.2,1171.0 1510.1,1175.0 1520.4,1175.0 1530.2,1175.0 1539.6,1175.0 1548.6,1175.0 1557.2,1175.0 1577.3,1175.0 1595.7,1175.0 1612.6,1175.0 1628.2,1175.0 1642.8,1175.0 1656.4,1175.0 1669.2,1175.0 1681.3,1175.0 1692.7,1175.0 1703.5,1175.0"/>
<polyline points="239.8,831.0 386.9,828.4 407.1,826.9 434.3,824.5 465.8,820.0 473.0,817.8 486.7,815.6 505.7,817.8 511.7,818.4 534.0,817.1 544.4,823.9 554.3,826.0 559.0,823.1 563.7,827.2 572.7,813.9 581.4,828.7 601.6,822.2 620.1,827.8 637.1,809.9 643.5,818.5 652.8,808.6 667.4,810.4 681.1,785.2 694.0,810.6 706.1,775.2 717.6,770.7 728.5,755.6 748.7,780.9 767.2,772.2 784.2,767.7 789.1,765.6 799.9,731.8 814.6,743.1 828.3,741.0 841.2,752.7 853.3,713.2 864.8,726.3 875.7,745.3 895.9,717.8 914.4,680.6 923.1,702.6 931.4,693.1 947.1,687.7 954.6,705.1 961.8,707.5 975.5,678.8 988.3,683.0 994.5,687.0 1000.5,664.8 1012.0,701.5 1022.8,690.1 1033.2,678.6 1043.1,676.7 1047.9,680.3 1052.5,700.5 1061.6,685.2 1070.2,671.5 1090.5,683.8 1108.9,706.6 1125.9,716.4 1131.4,704.0 1141.7,736.3 1156.3,732.6 1170.0,730.6 1182.9,692.6 1195.0,734.4 1206.5,756.5 1217.4,759.6 1237.5,796.0 1255.9,817.1 1272.8,842.7 1288.4,869.6 1303.0,894.4 1316.6,895.6 1329.4,932.3 1341.5,926.8 1352.9,962.8 1363.7,954.0 1383.9,954.2 1402.2,981.3 1410.8,986.3 1419.1,987.4 1434.8,1013.8 1449.3,1032.8 1463.0,1058.0 1475.8,1081.2 1481.9,1099.9 1487.8,1106.7 1499.2,1126.1 1510.1,1158.7 1520.4,1175.0 1530.2,1175.0 1539.6,1175.0 1548.6,1175.0 1557.2,1175.0 1577.3,1175.0 1595.7,1175.0 1612.6,1175.0 1628.2,1175.0 1642.8,1175.0 1656.4,1175.0 1669.2,1175.0 1681.3,1175.0 1692.7,1175.0 1703.5,1175.0"/>
<polyline points="239.8,835.5 386.9,832.9 407.1,831.4 434.3,829.0 465.8,822.8 473.0,820.8 486.7,813.1 505.7,808.3 511.7,803.1 534.0,800.2 544.4,798.3 554.3,792.8 559.0,799.1 563.7,793.5 572.7,792.9 581.4,797.7 601.6,774.6 620.1,762.9 637.1,739.3 643.5,756.3 652.8,743.6 667.4,719.5 681.1,715.1 694.0,677.8 706.1,651.5 717.6,686.2 728.5,633.0 748.7,657.4 767.2,597.9 784.2,588.9 789.1,571.7 799.9,568.8 814.6,599.9 828.3,568.7 841.2,548.8 853.3,556.7 864.8,533.9 875.7,546.3 895.9,570.6 914.4,556.3 923.1,583.2 931.4,570.9 947.1,586.0 954.6,599.8 961.8,591.5 975.5,619.5 988.3,652.1 994.5,583.3 1000.5,612.2 1012.0,642.7 1022.8,626.4 1033.2,667.2 1043.1,652.1 1047.9,653.9 1052.5,633.0 1061.6,622.2 1070.2,622.8 1090.5,633.3 1108.9,668.6 1125.9,702.4 1131.4,655.4 1141.7,686.2 1156.3,703.1 1170.0,692.7 1182.9,671.1 1195.0,704.6 1206.5,705.4 1217.4,685.7 1237.5,661.8 1255.9,707.2 1272.8,694.8 1288.4,694.7 1303.0,724.6 1316.6,720.4 1329.4,746.6 1341.5,747.9 1352.9,774.5 1363.7,771.6 1383.9,795.8 1402.2,800.3 1410.8,797.6 1419.1,821.4 1434.8,848.4 1449.3,865.7 1463.0,874.2 1475.8,903.9 1481.9,918.6 1487.8,912.6 1499.2,948.8 1510.1,962.7 1520.4,982.3 1530.2,998.9 1539.6,1024.5 1548.6,1054.0 1557.2,1055.9 1577.3,1095.8 1595.7,1112.4 1612.6,1143.0 1628.2,1163.4 1642.8,1167.2 1656.4,1175.0 1669.2,1175.0 1681.3,1175.0 1692.7,1175.0 1703.5,1175.0"/>
<polyline points="239.8,861.0 386.9,858.4 407.1,856.9 434.3,854.5 465.8,849.2 473.0,846.8 486.7,839.2 505.7,834.0 511.7,840.3 534.0,835.4 544.4,834.4 554.3,818.9 559.0,818.7 563.7,824.4 572.7,821.3 581.4,811.0 601.6,789.6 620.1,779.8 637.1,755.8 643.5,758.6 652.8,759.5 667.4,722.6 681.1,714.1 694.0,704.5 706.1,692.5 717.6,696.9 728.5,669.9 748.7,716.5 767.2,706.9 784.2,697.8 789.1,708.1 799.9,704.9 814.6,714.2 828.3,707.1 841.2,695.5 853.3,690.6 864.8,666.2 875.7,656.0 895.9,636.3 914.4,656.2 923.1,631.7 931.4,619.5 947.1,615.0 954.6,636.2 961.8,579.8 975.5,594.0 988.3,604.9 994.5,627.9 1000.5,635.1 1012.0,642.9 1022.8,634.9 1033.2,648.9 1043.1,686.3 1047.9,648.8 1052.5,659.2 1061.6,655.8 1070.2,685.6 1090.5,699.0 1108.9,711.7 1125.9,710.3 1131.4,732.7 1141.7,724.3 1156.3,755.0 1170.0,739.4 1182.9,777.4 1195.0,794.4 1206.5,781.8 1217.4,783.2 1237.5,784.2 1255.9,823.4 1272.8,821.6 1288.4,844.0 1303.0,834.0 1316.6,870.9 1329.4,864.8 1341.5,906.8 1352.9,882.0 1363.7,881.1 1383.9,898.5 1402.2,929.4 1410.8,920.7 1419.1,943.7 1434.8,945.8 1449.3,973.1 1463.0,989.3 1475.8,999.1 1481.9,1008.2 1487.8,1024.5 1499.2,1045.7 1510.1,1044.9 1520.4,1067.9 1530.2,1089.3 1539.6,1113.5 1548.6,1112.5 1557.2,1138.7 1577.3,1168.7 1595.7,1175.0 1612.6,1175.0 1628.2,1175.0 1642.8,1175.0 1656.4,1175.0 1669.2,1175.0 1681.3,1175.0 1692.7,1175.0 1703.5,1175.0"/>
<polyline points="239.8,869.5 386.9,866.9 407.1,865.4 434.3,863.0 465.8,855.6 473.0,849.9 486.7,840.0 505.7,827.9 511.7,824.7 534.0,811.2 544.4,811.8 554.3,803.1 559.0,795.8 563.7,808.4 572.7,801.1 581.4,796.4 601.6,781.6 620.1,794.3 637.1,778.1 643.5,788.7 652.8,784.3 667.4,758.3 681.1,783.5 694.0,762.2 706.1,770.7 717.6,769.7 728.5,765.1 748.7,742.3 767.2,753.0 784.2,769.7 789.1,752.4 799.9,716.6 814.6,731.0 828.3,695.9 841.2,703.4 853.3,679.0 864.8,668.9 875.7,680.3 895.9,658.5 914.4,651.5 923.1,619.2 931.4,657.8 947.1,668.5 954.6,650.0 961.8,643.3 975.5,687.7 988.3,680.6 994.5,719.8 1000.5,690.0 1012.0,706.9 1022.8,728.9 1033.2,723.1 1043.1,741.4 1047.9,734.7 1052.5,721.4 1061.6,734.8 1070.2,740.1 1090.5,746.9 1108.9,741.5 1125.9,730.0 1131.4,734.3 1141.7,758.7 1156.3,763.9 1170.0,765.2 1182.9,776.2 1195.0,755.2 1206.5,776.3 1217.4,767.8 1237.5,778.2 1255.9,808.3 1272.8,810.0 1288.4,847.0 1303.0,866.3 1316.6,876.8 1329.4,911.7 1341.5,913.2 1352.9,940.0 1363.7,943.6 1383.9,965.2 1402.2,974.3 1410.8,980.8 1419.1,992.5 1434.8,1001.1 1449.3,1027.4 1463.0,1047.4 1475.8,1061.1 1481.9,1071.8 1487.8,1088.0 1499.2,1108.4 1510.1,1115.6 1520.4,1135.1 1530.2,1153.9 1539.6,1175.0 1548.6,1175.0 1557.2,1175.0 1577.3,1175.0 1595.7,1175.0 1612.6,1175.0 1628.2,1175.0 1642.8,1175.0 1656.4,1175.0 1669.2,1175.0 1681.3,1175.0 1692.7,1175.0 1703.5,1175.0"/>
<polyline points="239.8,888.6 386.9,886.0 407.1,884.5 434.3,882.1 465.8,879.1 473.0,878.1 486.7,877.3 505.7,872.8 511.7,869.4 534.0,865.0 544.4,855.8 554.3,861.9 559.0,851.4 563.7,854.8 572.7,850.5 581.4,855.2 601.6,867.9 620.1,859.1 637.1,855.8 643.5,863.0 652.8,860.0 667.4,864.2 681.1,850.0 694.0,859.0 706.1,826.4 717.6,836.9 728.5,860.3 748.7,858.0 767.2,845.0 784.2,860.4 789.1,855.9 799.9,853.8 814.6,845.3 828.3,838.0 841.2,865.3 853.3,859.4 864.8,857.8 875.7,869.8 895.9,834.9 914.4,838.8 923.1,826.6 931.4,793.6 947.1,838.1 954.6,828.8 961.8,847.6 975.5,841.8 988.3,831.7 994.5,799.7 1000.5,785.9 1012.0,850.5 1022.8,869.7 1033.2,846.8 1043.1,830.3 1047.9,861.1 1052.5,875.1 1061.6,863.6 1070.2,876.2 1090.5,878.6 1108.9,872.3 1125.9,883.3 1131.4,891.3 1141.7,900.1 1156.3,913.3 1170.0,921.9 1182.9,917.6 1195.0,901.9 1206.5,948.3 1217.4,941.8 1237.5,950.0 1255.9,956.6 1272.8,993.3 1288.4,1018.9 1303.0,1047.7 1316.6,1045.4 1329.4,1061.4 1341.5,1086.2 1352.9,1122.6 1363.7,1163.1 1383.9,1166.6 1402.2,1175.0 1410.8,1175.0 1419.1,1175.0 1434.8,1175.0 1449.3,1175.0 1463.0,1175.0 1475.8,1175.0 1481.9,1175.0 1487.8,1175.0 1499.2,1175.0 1510.1,1175.0 1520.4,1175.0 1530.2,1175.0 1539.6,1175.0 1548.6,1175.0 1557.2,1175.0 1577.3,1175.0 1595.7,1175.0 1612.6,1175.0 1628.2,1175.0 1642.8,1175.0 1656.4,1175.0 1669.2,1175.0 1681.3,1175.0 1692.7,1175.0 1703.5,1175.0"/>
<polyline points="239.8,898.0 386.9,895.4 407.1,893.9 434.3,891.5 465.8,888.5 473.0,891.6 486.7,892.5 505.7,894.2 511.7,892.1 534.0,895.1 544.4,901.3 554.3,896.7 559.0,897.6 563.7,897.7 572.7,896.4 581.4,903.4 601.6,898.0 620.1,905.1 637.1,887.0 643.5,899.9 652.8,880.6 667.4,906.0 681.1,864.2 694.0,834.1 706.1,846.6 717.6,829.0 728.5,848.0 748.7,790.3 767.2,794.8 784.2,818.8 789.1,812.5 799.9,770.2 814.6,758.5 828.3,768.3 841.2,782.5 853.3,711.8 864.8,750.2 875.7,740.9 895.9,741.8 914.4,706.9 923.1,703.8 931.4,708.8 947.1,696.9 954.6,698.9 961.8,703.0 975.5,704.7 988.3,740.2 994.5,692.9 1000.5,687.0 1012.0,678.9 1022.8,719.2 1033.2,693.2 1043.1,698.1 1047.9,650.8 1052.5,663.3 1061.6,703.1 1070.2,665.8 1090.5,689.2 1108.9,708.4 1125.9,708.5 1131.4,710.7 1141.7,718.8 1156.3,731.9 1170.0,737.8 1182.9,760.1 1195.0,761.9 1206.5,755.6 1217.4,770.9 1237.5,767.2 1255.9,794.0 1272.8,809.1 1288.4,828.4 1303.0,833.6 1316.6,841.8 1329.4,854.7 1341.5,877.2 1352.9,878.9 1363.7,883.7 1383.9,895.6 1402.2,905.3 1410.8,921.1 1419.1,927.6 1434.8,948.1 1449.3,954.6 1463.0,962.5 1475.8,983.3 1481.9,988.7 1487.8,996.8 1499.2,1008.9 1510.1,1022.6 1520.4,1054.9 1530.2,1057.6 1539.6,1073.8 1548.6,1111.5 1557.2,1114.0 1577.3,1142.9 1595.7,1157.8 1612.6,1175.0 1628.2,1175.0 1642.8,1175.0 1656.4,1175.0 1669.2,1175.0 1681.3,1175.0 1692.7,1175.0 1703.5,1175.0"/>
<polyline points="239.8,902.0 386.9,899.4 407.1,897.9 434.3,895.5 465.8,891.0 473.0,887.5 486.7,882.7 505.7,873.9 511.7,865.5 534.0,859.7 544.4,854.6 554.3,860.2 559.0,855.4 563.7,856.7 572.7,843.2 581.4,853.3 601.6,839.4 620.1,845.3 637.1,821.2 643.5,851.7 652.8,846.1 667.4,824.5 681.1,853.0 694.0,828.6 706.1,822.4 717.6,822.7 728.5,797.0 748.7,803.1 767.2,804.2 784.2,819.6 789.1,766.6 799.9,829.9 814.6,820.5 828.3,785.0 841.2,804.4 853.3,784.0 864.8,741.1 875.7,762.0 895.9,759.4 914.4,770.8 923.1,752.8 931.4,697.3 947.1,735.1 954.6,732.6 961.8,712.8 975.5,730.0 988.3,720.4 994.5,719.4 1000.5,744.1 1012.0,754.0 1022.8,752.1 1033.2,754.5 1043.1,748.2 1047.9,753.4 1052.5,742.1 1061.6,745.2 1070.2,770.4 1090.5,774.6 1108.9,773.9 1125.9,792.6 1131.4,763.1 1141.7,777.3 1156.3,789.6 1170.0,814.6 1182.9,828.1 1195.0,806.5 1206.5,807.7 1217.4,820.0 1237.5,818.7 1255.9,836.8 1272.8,847.8 1288.4,891.0 1303.0,878.7 1316.6,888.3 1329.4,898.9 1341.5,917.3 1352.9,909.9 1363.7,937.5 1383.9,942.8 1402.2,970.5 1410.8,952.4 1419.1,980.8 1434.8,1003.7 1449.3,1054.9 1463.0,1064.6 1475.8,1087.2 1481.9,1096.8 1487.8,1114.5 1499.2,1139.0 1510.1,1158.4 1520.4,1175.0 1530.2,1175.0 1539.6,1175.0 1548.6,1175.0 1557.2,1175.0 1577.3,1175.0 1595.7,1175.0 1612.6,1175.0 1628.2,1175.0 1642.8,1175.0 1656.4,1175.0 1669.2,1175.0 1681.3,1175.0 1692.7,1175.0 1703.5,1175.0"/>
<polyline points="239.8,906.0 386.9,903.4 407.1,901.9 434.3,899.5 465.8,895.7 473.0,890.6 486.7,884.3 505.7,882.7 511.7,876.8 534.0,875.8 544.4,880.0 554.3,880.0 559.0,876.9 563.7,875.1 572.7,875.7 581.4,878.3 601.6,889.9 620.1,877.2 637.1,881.3 643.5,892.3 652.8,894.5 667.4,902.8 681.1,901.6 694.0,897.3 706.1,925.4 717.6,921.1 728.5,908.3 748.7,939.7 767.2,918.0 784.2,932.2 789.1,951.9 799.9,939.1 814.6,942.2 828.3,941.0 841.2,916.9 853.3,899.9 864.8,896.2 875.7,928.5 895.9,925.3 914.4,904.1 923.1,876.5 931.4,874.6 947.1,879.1 954.6,859.0 961.8,920.7 975.5,920.8 988.3,923.2 994.5,886.2 1000.5,907.7 1012.0,924.9 1022.8,934.8 1033.2,970.3 1043.1,967.1 1047.9,946.8 1052.5,938.2 1061.6,965.8 1070.2,969.5 1090.5,949.1 1108.9,973.3 1125.9,935.4 1131.4,966.9 1141.7,967.9 1156.3,963.2 1170.0,980.7 1182.9,996.3 1195.0,990.2 1206.5,984.0 1217.4,970.5 1237.5,1011.0 1255.9,1046.3 1272.8,1066.3 1288.4,1091.4 1303.0,1131.7 1316.6,1142.5 1329.4,1175.0 1341.5,1175.0 1352.9,1175.0 1363.7,1175.0 1383.9,1175.0 1402.2,1175.0 1410.8,1175.0 1419.1,1175.0 1434.8,1175.0 1449.3,1175.0 1463.0,1175.0 1475.8,1175.0 1481.9,1175.0 1487.8,1175.0 1499.2,1175.0 1510.1,1175.0 1520.4,1175.0 1530.2,1175.0 1539.6,1175.0 1548.6,1175.0 1557.2,1175.0 1577.3,1175.0 1595.7,1175.0 1612.6,1175.0 1628.2,1175.0 1642.8,1175.0 1656.4,1175.0 1669.2,1175.0 1681.3,1175.0 1692.7,1175.0 1703.5,1175.0"/>
<polyline points="239.8,923.5 386.9,920.9 407.1,919.4 434.3,917.0 465.8,913.2 473.0,911.1 486.7,908.3 505.7,898.6 511.7,896.6 534.0,884.9 544.4,886.2 554.3,891.9 559.0,889.2 563.7,887.2 572.7,877.7 581.4,893.0 601.6,889.2 620.1,886.8 637.1,884.4 643.5,898.9 652.8,899.3 667.4,891.4 681.1,880.0 694.0,879.5 706.1,847.5 717.6,834.5 728.5,800.1 748.7,773.5 767.2,755.1 784.2,727.2 789.1,700.1 799.9,719.2 814.6,693.4 828.3,712.3 841.2,682.6 853.3,680.2 864.8,666.6 875.7,719.6 895.9,706.5 914.4,739.7 923.1,753.5 931.4,739.5 947.1,759.9 954.6,761.9 961.8,775.7 975.5,818.0 988.3,802.9 994.5,826.4 1000.5,812.5 1012.0,841.9 1022.8,859.3 1033.2,876.8 1043.1,863.1 1047.9,917.3 1052.5,902.4 1061.6,910.8 1070.2,933.5 1090.5,932.0 1108.9,1017.6 1125.9,971.1 1131.4,966.7 1141.7,975.8 1156.3,983.0 1170.0,963.4 1182.9,987.8 1195.0,969.5 1206.5,992.4 1217.4,990.4 1237.5,985.4 1255.9,1004.3 1272.8,984.7 1288.4,1010.2 1303.0,1024.7 1316.6,1015.1 1329.4,1032.5 1341.5,1040.9 1352.9,1049.6 1363.7,1046.6 1383.9,1050.8 1402.2,1080.6 1410.8,1091.7 1419.1,1097.5 1434.8,1116.2 1449.3,1142.9 1463.0,1151.9 1475.8,1173.5 1481.9,1175.0 1487.8,1175.0 1499.2,1175.0 1510.1,1175.0 1520.4,1175.0 1530.2,1175.0 1539.6,1175.0 1548.6,1175.0 1557.2,1175.0 1577.3,1175.0 1595.7,1175.0 1612.6,1175.0 1628.2,1175.0 1642.8,1175.0 1656.4,1175.0 1669.2,1175.0 1681.3,1175.0 1692.7,1175.0 1703.5,1175.0"/>
<polyline points="239.8,655.8 386.9,653.2 407.1,651.7 434.3,649.3 465.8,645.9 473.0,645.4 486.7,645.5 505.7,644.1 511.7,641.3 534.0,638.2 544.4,640.5 554.3,643.5 559.0,638.1 563.7,636.6 572.7,641.5 581.4,648.2 601.6,659.8 620.1,641.1 637.1,640.4 643.5,668.7 652.8,635.6 667.4,677.0 681.1,649.9 694.0,657.4 706.1,641.4 717.6,635.0 728.5,667.1 748.7,658.7 767.2,636.4 784.2,642.9 789.1,632.7 799.9,609.3 814.6,630.6 828.3,649.1 841.2,624.6 853.3,586.2 864.8,676.0 875.7,650.7 895.9,639.7 914.4,713.1 923.1,710.2 931.4,722.5 947.1,643.1 954.6,709.7 961.8,710.7 975.5,705.9 988.3,735.6 994.5,707.6 1000.5,708.8 1012.0,740.2 1022.8,752.9 1033.2,706.5 1043.1,740.3 1047.9,761.5 1052.5,741.7 1061.6,771.7 1070.2,758.4 1090.5,788.7 1108.9,754.1 1125.9,770.3 1131.4,734.7 1141.7,750.9 1156.3,789.5 1170.0,796.0 1182.9,791.9 1195.0,818.2 1206.5,840.3 1217.4,818.3 1237.5,815.7 1255.9,855.3 1272.8,889.8 1288.4,872.2 1303.0,909.1 1316.6,906.9 1329.4,921.9 1341.5,934.5 1352.9,966.9 1363.7,962.7 1383.9,988.5 1402.2,1002.0 1410.8,1013.9 1419.1,1036.8 1434.8,1049.5 1449.3,1079.4 1463.0,1096.9 1475.8,1119.5 1481.9,1119.4 1487.8,1131.0 1499.2,1160.9 1510.1,1173.2 1520.4,1175.0 1530.2,1175.0 1539.6,1175.0 1548.6,1175.0 1557.2,1175.0 1577.3,1175.0 1595.7,1175.0 1612.6,1175.0 1628.2,1175.0 1642.8,1175.0 1656.4,1175.0 1669.2,1175.0 1681.3,1175.0 1692.7,1175.0 1703.5,1175.0"/>
<polyline points="239.8,732.2 386.9,729.5 407.1,728.1 434.3,725.7 465.8,722.4 473.0,722.2 486.7,719.2 505.7,717.9 511.7,710.1 534.0,706.7 544.4,712.6 554.3,695.0 559.0,698.8 563.7,707.0 572.7,707.0 581.4,709.2 601.6,702.2 620.1,704.9 637.1,707.6 643.5,702.2 652.8,689.3 667.4,693.2 681.1,695.5 694.0,731.1 706.1,683.3 717.6,697.7 728.5,667.9 748.7,670.9 767.2,635.3 784.2,636.5 789.1,630.0 799.9,630.3 814.6,625.5 828.3,615.2 841.2,589.8 853.3,569.2 864.8,600.2 875.7,558.7 895.9,607.7 914.4,566.6 923.1,562.0 931.4,574.5 947.1,557.8 954.6,588.4 961.8,571.3 975.5,612.4 988.3,589.2 994.5,613.5 1000.5,576.4 1012.0,594.1 1022.8,570.3 1033.2,583.5 1043.1,612.6 1047.9,592.8 1052.5,601.1 1061.6,581.4 1070.2,599.5 1090.5,601.6 1108.9,600.8 1125.9,617.4 1131.4,605.8 1141.7,668.7 1156.3,652.2 1170.0,686.0 1182.9,702.2 1195.0,703.5 1206.5,718.0 1217.4,743.1 1237.5,748.5 1255.9,757.6 1272.8,818.0 1288.4,805.4 1303.0,799.6 1316.6,802.9 1329.4,804.1 1341.5,818.3 1352.9,803.0 1363.7,818.8 1383.9,833.9 1402.2,816.7 1410.8,829.8 1419.1,854.6 1434.8,847.4 1449.3,872.4 1463.0,886.6 1475.8,896.7 1481.9,914.7 1487.8,914.7 1499.2,935.9 1510.1,943.4 1520.4,950.6 1530.2,963.2 1539.6,995.4 1548.6,1013.9 1557.2,1008.4 1577.3,1048.7 1595.7,1087.7 1612.6,1109.8 1628.2,1138.2 1642.8,1163.8 1656.4,1175.0 1669.2,1175.0 1681.3,1175.0 1692.7,1175.0 1703.5,1175.0"/>
<polyline points="239.8,627.4 386.9,624.8 407.1,623.3 434.3,620.9 465.8,620.5 473.0,620.8 486.7,620.2 505.7,622.1 511.7,623.3 534.0,629.1 544.4,631.7 554.3,627.5 559.0,627.2 563.7,628.8 572.7,625.6 581.4,626.6 601.6,617.8 620.1,615.5 637.1,597.8 643.5,596.2 652.8,603.1 667.4,612.1 681.1,575.5 694.0,567.6 706.1,540.7 717.6,587.9 728.5,559.0 748.7,554.9 767.2,539.8 784.2,580.9 789.1,523.0 799.9,515.2 814.6,539.1 828.3,544.4 841.2,541.2 853.3,531.7 864.8,526.7 875.7,518.6 895.9,525.8 914.4,524.2 923.1,526.1 931.4,534.7 947.1,518.0 954.6,533.0 961.8,506.3 975.5,529.7 988.3,526.4 994.5,536.5 1000.5,532.4 1012.0,551.4 1022.8,562.6 1033.2,542.1 1043.1,604.1 1047.9,610.8 1052.5,584.2 1061.6,564.9 1070.2,554.2 1090.5,579.5 1108.9,633.9 1125.9,651.6 1131.4,647.9 1141.7,656.2 1156.3,678.4 1170.0,670.9 1182.9,636.1 1195.0,652.7 1206.5,679.3 1217.4,663.6 1237.5,677.6 1255.9,683.1 1272.8,693.5 1288.4,744.7 1303.0,728.1 1316.6,767.1 1329.4,802.4 1341.5,819.4 1352.9,827.1 1363.7,844.4 1383.9,867.2 1402.2,890.6 1410.8,919.4 1419.1,921.3 1434.8,941.3 1449.3,960.0 1463.0,981.4 1475.8,998.4 1481.9,987.8 1487.8,1000.5 1499.2,1015.7 1510.1,1025.3 1520.4,1043.8 1530.2,1065.3 1539.6,1059.3 1548.6,1092.3 1557.2,1102.4 1577.3,1136.3 1595.7,1175.0 1612.6,1175.0 1628.2,1175.0 1642.8,1175.0 1656.4,1175.0 1669.2,1175.0 1681.3,1175.0 1692.7,1175.0 1703.5,1175.0"/>
<polyline points="239.8,579.9 386.9,577.2 407.1,575.7 434.3,573.3 465.8,565.9 473.0,560.2 486.7,552.6 505.7,541.8 511.7,542.4 534.0,529.8 544.4,529.0 554.3,533.8 559.0,527.5 563.7,528.3 572.7,527.0 581.4,517.0 601.6,530.4 620.1,495.2 637.1,478.7 643.5,466.7 652.8,461.1 667.4,433.7 681.1,416.6 694.0,396.0 706.1,376.9 717.6,366.8 728.5,366.4 748.7,350.0 767.2,356.4 784.2,358.2 789.1,361.3 799.9,364.0 814.6,376.1 828.3,376.2 841.2,392.1 853.3,393.3 864.8,367.0 875.7,409.7 895.9,380.0 914.4,417.0 923.1,416.0 931.4,428.4 947.1,426.7 954.6,435.5 961.8,435.7 975.5,454.0 988.3,458.1 994.5,499.0 1000.5,491.3 1012.0,479.4 1022.8,479.7 1033.2,505.2 1043.1,468.2 1047.9,471.4 1052.5,477.5 1061.6,493.4 1070.2,487.1 1090.5,460.4 1108.9,507.2 1125.9,492.9 1131.4,502.4 1141.7,490.7 1156.3,478.2 1170.0,480.6 1182.9,492.9 1195.0,490.2 1206.5,481.4 1217.4,469.8 1237.5,472.8 1255.9,526.3 1272.8,501.6 1288.4,491.3 1303.0,501.5 1316.6,493.6 1329.4,531.4 1341.5,529.7 1352.9,540.7 1363.7,564.4 1383.9,566.6 1402.2,579.5 1410.8,577.7 1419.1,612.8 1434.8,620.6 1449.3,639.8 1463.0,652.2 1475.8,676.8 1481.9,678.5 1487.8,695.3 1499.2,706.5 1510.1,719.1 1520.4,731.9 1530.2,761.6 1539.6,787.3 1548.6,816.4 1557.2,824.3 1577.3,856.8 1595.7,870.3 1612.6,894.1 1628.2,908.4 1642.8,917.4 1656.4,936.0 1669.2,949.5 1681.3,970.1 1692.7,979.3 1703.5,979.6"/>
<polyline points="239.8,792.7 386.9,790.1 407.1,788.6 434.3,786.3 465.8,784.4 473.0,788.0 486.7,789.2 505.7,794.8 511.7,793.5 534.0,798.1 544.4,789.8 554.3,789.6 559.0,790.7 563.7,801.5 572.7,779.7 581.4,770.7 601.6,792.4 620.1,787.9 637.1,779.1 643.5,761.1 652.8,749.1 667.4,757.8 681.1,713.1 694.0,709.6 706.1,723.1 717.6,706.7 728.5,726.7 748.7,690.2 767.2,690.0 784.2,662.3 789.1,680.7 799.9,659.4 814.6,673.7 828.3,662.0 841.2,643.3 853.3,683.1 864.8,646.6 875.7,630.8 895.9,623.3 914.4,659.4 923.1,633.0 931.4,649.3 947.1,645.1 954.6,664.7 961.8,672.7 975.5,661.9 988.3,664.6 994.5,665.9 1000.5,696.1 1012.0,702.7 1022.8,725.3 1033.2,708.9 1043.1,722.6 1047.9,759.0 1052.5,776.6 1061.6,728.9 1070.2,755.4 1090.5,819.4 1108.9,846.3 1125.9,877.3 1131.4,885.7 1141.7,880.1 1156.3,910.5 1170.0,925.0 1182.9,955.6 1195.0,962.2 1206.5,966.2 1217.4,972.9 1237.5,971.3 1255.9,973.1 1272.8,959.5 1288.4,969.3 1303.0,950.6 1316.6,993.7 1329.4,1014.3 1341.5,1004.2 1352.9,1029.2 1363.7,1042.6 1383.9,1061.1 1402.2,1079.5 1410.8,1084.3 1419.1,1099.0 1434.8,1131.4 1449.3,1157.2 1463.0,1161.9 1475.8,1175.0 1481.9,1175.0 1487.8,1175.0 1499.2,1175.0 1510.1,1175.0 1520.4,1175.0 1530.2,1175.0 1539.6,1175.0 1548.6,1175.0 1557.2,1175.0 1577.3,1175.0 1595.7,1175.0 1612.6,1175.0 1628.2,1175.0 1642.8,1175.0 1656.4,1175.0 1669.2,1175.0 1681.3,1175.0 1692.7,1175.0 1703.5,1175.0"/>
<polyline points="239.8,695.3 386.9,692.7 407.1,691.2 434.3,688.8 465.8,685.9 473.0,690.2 486.7,693.4 505.7,691.7 511.7,693.3 534.0,693.8 544.4,693.4 554.3,693.0 559.0,707.8 563.7,703.0 572.7,703.6 581.4,704.6 601.6,709.6 620.1,715.7 637.1,707.2 643.5,719.1 652.8,710.2 667.4,717.6 681.1,705.5 694.0,689.4 706.1,667.6 717.6,642.2 728.5,655.9 748.7,625.8 767.2,562.7 784.2,550.2 789.1,598.9 799.9,592.4 814.6,547.8 828.3,546.1 841.2,541.4 853.3,519.6 864.8,574.0 875.7,546.2 895.9,572.1 914.4,573.6 923.1,527.6 931.4,544.4 947.1,544.4 954.6,586.1 961.8,553.6 975.5,570.2 988.3,590.6 994.5,587.9 1000.5,615.7 1012.0,595.2 1022.8,599.4 1033.2,627.4 1043.1,639.8 1047.9,680.1 1052.5,640.7 1061.6,676.4 1070.2,667.8 1090.5,682.3 1108.9,719.8 1125.9,748.0 1131.4,753.2 1141.7,735.4 1156.3,778.2 1170.0,746.8 1182.9,764.5 1195.0,786.7 1206.5,783.5 1217.4,822.4 1237.5,853.6 1255.9,857.3 1272.8,859.0 1288.4,888.1 1303.0,894.7 1316.6,887.7 1329.4,912.3 1341.5,932.6 1352.9,924.7 1363.7,947.6 1383.9,959.2 1402.2,967.3 1410.8,990.8 1419.1,1017.9 1434.8,1044.4 1449.3,1067.6 1463.0,1093.1 1475.8,1119.0 1481.9,1133.0 1487.8,1140.5 1499.2,1164.5 1510.1,1175.0 1520.4,1175.0 1530.2,1175.0 1539.6,1175.0 1548.6,1175.0 1557.2,1175.0 1577.3,1175.0 1595.7,1175.0 1612.6,1175.0 1628.2,1175.0 1642.8,1175.0 1656.4,1175.0 1669.2,1175.0 1681.3,1175.0 1692.7,1175.0 1703.5,1175.0"/>
<polyline points="239.8,714.6 386.9,712.0 407.1,710.5 434.3,708.1 465.8,706.8 473.0,705.9 486.7,704.5 505.7,703.2 511.7,704.2 534.0,705.9 544.4,694.3 554.3,702.0 559.0,707.0 563.7,699.9 572.7,705.1 581.4,696.9 601.6,699.8 620.1,700.1 637.1,712.9 643.5,690.7 652.8,716.7 667.4,706.4 681.1,711.1 694.0,698.4 706.1,660.9 717.6,659.3 728.5,667.7 748.7,650.4 767.2,637.3 784.2,642.8 789.1,635.7 799.9,616.6 814.6,609.0 828.3,624.3 841.2,637.2 853.3,604.5 864.8,639.5 875.7,634.4 895.9,652.5 914.4,687.2 923.1,696.7 931.4,679.5 947.1,713.6 954.6,712.9 961.8,701.4 975.5,697.7 988.3,697.5 994.5,685.3 1000.5,701.2 1012.0,676.7 1022.8,667.6 1033.2,621.3 1043.1,624.7 1047.9,666.5 1052.5,629.5 1061.6,612.4 1070.2,615.5 1090.5,645.1 1108.9,626.7 1125.9,667.4 1131.4,703.6 1141.7,717.6 1156.3,723.2 1170.0,750.8 1182.9,759.7 1195.0,797.6 1206.5,852.2 1217.4,823.9 1237.5,887.8 1255.9,926.5 1272.8,910.7 1288.4,940.0 1303.0,947.7 1316.6,933.5 1329.4,973.5 1341.5,973.2 1352.9,997.7 1363.7,991.4 1383.9,1024.2 1402.2,1039.6 1410.8,1048.0 1419.1,1061.8 1434.8,1091.3 1449.3,1111.0 1463.0,1146.3 1475.8,1169.5 1481.9,1175.0 1487.8,1175.0 1499.2,1175.0 1510.1,1175.0 1520.4,1175.0 1530.2,1175.0 1539.6,1175.0 1548.6,1175.0 1557.2,1175.0 1577.3,1175.0 1595.7,1175.0 1612.6,1175.0 1628.2,1175.0 1642.8,1175.0 1656.4,1175.0 1669.2,1175.0 1681.3,1175.0 1692.7,1175.0 1703.5,1175.0"/>
<polyline points="239.8,698.4 386.9,695.8 407.1,694.3 434.3,691.9 465.8,691.2 473.0,689.8 486.7,691.4 505.7,696.8 511.7,693.4 534.0,702.5 544.4,698.0 554.3,702.9 559.0,689.9 563.7,696.8 572.7,692.5 581.4,696.0 601.6,681.5 620.1,689.5 637.1,676.1 643.5,674.6 652.8,679.5 667.4,661.3 681.1,662.9 694.0,628.2 706.1,618.6 717.6,657.6 728.5,633.3 748.7,629.5 767.2,639.7 784.2,615.5 789.1,633.2 799.9,605.4 814.6,615.0 828.3,621.5 841.2,628.0 853.3,618.4 864.8,590.9 875.7,607.5 895.9,598.8 914.4,599.2 923.1,554.6 931.4,555.2 947.1,569.3 954.6,607.1 961.8,553.5 975.5,580.4 988.3,616.1 994.5,576.8 1000.5,608.9 1012.0,617.0 1022.8,629.4 1033.2,591.8 1043.1,644.3 1047.9,680.6 1052.5,682.5 1061.6,667.5 1070.2,737.5 1090.5,770.9 1108.9,784.6 1125.9,784.9 1131.4,847.9 1141.7,810.5 1156.3,849.5 1170.0,821.2 1182.9,851.9 1195.0,901.0 1206.5,924.3 1217.4,896.1 1237.5,903.6 1255.9,968.9 1272.8,979.8 1288.4,982.7 1303.0,1000.2 1316.6,1007.1 1329.4,990.4 1341.5,1036.9 1352.9,1012.6 1363.7,1032.2 1383.9,1048.6 1402.2,1053.4 1410.8,1080.5 1419.1,1077.1 1434.8,1111.0 1449.3,1135.2 1463.0,1151.5 1475.8,1175.0 1481.9,1175.0 1487.8,1175.0 1499.2,1175.0 1510.1,1175.0 1520.4,1175.0 1530.2,1175.0 1539.6,1175.0 1548.6,1175.0 1557.2,1175.0 1577.3,1175.0 1595.7,1175.0 1612.6,1175.0 1628.2,1175.0 1642.8,1175.0 1656.4,1175.0 1669.2,1175.0 1681.3,1175.0 1692.7,1175.0 1703.5,1175.0"/>
<polyline points="239.8,674.1 386.9,671.5 407.1,670.0 434.3,667.6 465.8,666.4 473.0,667.7 486.7,667.1 505.7,669.0 511.7,663.5 534.0,658.8 544.4,655.8 554.3,667.8 559.0,650.1 563.7,658.5 572.7,646.5 581.4,647.8 601.6,654.4 620.1,624.4 637.1,609.8 643.5,629.6 652.8,593.2 667.4,627.3 681.1,595.4 694.0,588.1 706.1,579.2 717.6,600.6 728.5,582.6 748.7,565.4 767.2,556.2 784.2,555.6 789.1,567.9 799.9,541.2 814.6,525.3 828.3,540.1 841.2,548.8 853.3,529.6 864.8,531.3 875.7,566.5 895.9,555.0 914.4,539.4 923.1,527.5 931.4,532.2 947.1,537.3 954.6,543.6 961.8,549.8 975.5,526.1 988.3,531.3 994.5,525.5 1000.5,566.0 1012.0,559.9 1022.8,546.6 1033.2,501.9 1043.1,526.7 1047.9,484.6 1052.5,544.6 1061.6,531.0 1070.2,534.4 1090.5,563.0 1108.9,577.2 1125.9,621.1 1131.4,610.4 1141.7,653.3 1156.3,658.8 1170.0,695.1 1182.9,699.0 1195.0,685.4 1206.5,733.7 1217.4,763.0 1237.5,732.0 1255.9,744.4 1272.8,776.3 1288.4,801.2 1303.0,778.4 1316.6,801.3 1329.4,784.4 1341.5,821.9 1352.9,827.5 1363.7,857.2 1383.9,874.3 1402.2,905.8 1410.8,917.0 1419.1,929.4 1434.8,968.9 1449.3,981.1 1463.0,1003.1 1475.8,1034.0 1481.9,1038.9 1487.8,1051.8 1499.2,1087.2 1510.1,1099.6 1520.4,1095.4 1530.2,1122.3 1539.6,1128.9 1548.6,1149.0 1557.2,1160.1 1577.3,1175.0 1595.7,1175.0 1612.6,1175.0 1628.2,1175.0 1642.8,1175.0 1656.4,1175.0 1669.2,1175.0 1681.3,1175.0 1692.7,1175.0 1703.5,1175.0"/>
<polyline points="239.8,589.4 386.9,586.7 407.1,585.2 434.3,582.9 465.8,580.5 473.0,580.0 486.7,580.7 505.7,581.8 511.7,579.1 534.0,576.2 544.4,575.6 554.3,573.7 559.0,566.1 563.7,565.3 572.7,550.6 581.4,559.4 601.6,539.7 620.1,528.0 637.1,515.6 643.5,488.2 652.8,492.7 667.4,493.4 681.1,482.2 694.0,476.8 706.1,454.2 717.6,466.0 728.5,467.7 748.7,453.9 767.2,456.9 784.2,432.2 789.1,471.9 799.9,412.7 814.6,409.6 828.3,424.1 841.2,441.1 853.3,431.9 864.8,429.8 875.7,419.4 895.9,438.4 914.4,472.2 923.1,448.8 931.4,443.5 947.1,464.8 954.6,447.9 961.8,460.4 975.5,496.7 988.3,462.5 994.5,463.5 1000.5,438.1 1012.0,446.5 1022.8,465.2 1033.2,473.7 1043.1,443.3 1047.9,452.2 1052.5,449.3 1061.6,465.5 1070.2,451.7 1090.5,493.4 1108.9,491.2 1125.9,513.8 1131.4,510.5 1141.7,548.5 1156.3,537.2 1170.0,593.2 1182.9,580.6 1195.0,586.6 1206.5,647.9 1217.4,657.3 1237.5,653.8 1255.9,687.4 1272.8,707.7 1288.4,761.7 1303.0,763.4 1316.6,783.9 1329.4,810.9 1341.5,837.4 1352.9,857.8 1363.7,856.0 1383.9,868.6 1402.2,897.0 1410.8,914.0 1419.1,920.9 1434.8,939.7 1449.3,965.9 1463.0,990.5 1475.8,1023.4 1481.9,1016.2 1487.8,1036.6 1499.2,1052.4 1510.1,1081.2 1520.4,1089.3 1530.2,1113.2 1539.6,1137.2 1548.6,1164.7 1557.2,1175.0 1577.3,1175.0 1595.7,1175.0 1612.6,1175.0 1628.2,1175.0 1642.8,1175.0 1656.4,1175.0 1669.2,1175.0 1681.3,1175.0 1692.7,1175.0 1703.5,1175.0"/>
<polyline points="239.8,635.3 386.9,632.6 407.1,631.1 434.3,628.8 465.8,621.2 473.0,613.7 486.7,603.7 505.7,584.9 511.7,578.9 534.0,552.2 544.4,546.5 554.3,534.1 559.0,539.6 563.7,514.1 572.7,524.4 581.4,531.9 601.6,507.6 620.1,507.3 637.1,499.5 643.5,492.2 652.8,479.0 667.4,479.4 681.1,455.4 694.0,444.3 706.1,447.9 717.6,419.1 728.5,408.2 748.7,399.4 767.2,365.5 784.2,350.2 789.1,390.9 799.9,355.8 814.6,354.0 828.3,349.6 841.2,360.2 853.3,365.3 864.8,394.2 875.7,372.2 895.9,406.6 914.4,406.9 923.1,408.7 931.4,403.2 947.1,430.4 954.6,464.5 961.8,443.7 975.5,453.9 988.3,454.3 994.5,470.4 1000.5,425.3 1012.0,437.0 1022.8,449.8 1033.2,455.6 1043.1,460.4 1047.9,447.3 1052.5,439.9 1061.6,434.2 1070.2,426.8 1090.5,435.8 1108.9,424.9 1125.9,441.1 1131.4,432.7 1141.7,471.0 1156.3,487.6 1170.0,493.6 1182.9,497.3 1195.0,520.1 1206.5,520.4 1217.4,549.9 1237.5,544.6 1255.9,552.3 1272.8,591.0 1288.4,591.3 1303.0,607.1 1316.6,599.5 1329.4,587.7 1341.5,618.4 1352.9,610.8 1363.7,610.2 1383.9,623.9 1402.2,639.5 1410.8,639.9 1419.1,650.8 1434.8,675.1 1449.3,674.0 1463.0,687.2 1475.8,710.9 1481.9,728.6 1487.8,735.7 1499.2,738.4 1510.1,752.1 1520.4,759.8 1530.2,787.7 1539.6,810.8 1548.6,822.6 1557.2,843.7 1577.3,863.7 1595.7,890.2 1612.6,923.7 1628.2,934.5 1642.8,950.6 1656.4,972.8 1669.2,977.4 1681.3,994.6 1692.7,1013.0 1703.5,1031.3"/>
<polyline points="239.8,736.7 386.9,734.1 407.1,732.6 434.3,730.2 465.8,726.2 473.0,723.4 486.7,718.5 505.7,705.1 511.7,707.5 534.0,700.8 544.4,697.1 554.3,707.3 559.0,705.6 563.7,707.8 572.7,693.6 581.4,680.2 601.6,690.1 620.1,676.8 637.1,690.3 643.5,710.1 652.8,687.3 667.4,708.2 681.1,682.0 694.0,701.9 706.1,692.1 717.6,691.0 728.5,678.1 748.7,662.1 767.2,655.7 784.2,675.8 789.1,679.7 799.9,686.0 814.6,616.9 828.3,624.8 841.2,616.0 853.3,651.0 864.8,635.0 875.7,650.9 895.9,659.6 914.4,706.7 923.1,678.0 931.4,647.6 947.1,685.0 954.6,686.7 961.8,702.8 975.5,690.0 988.3,678.7 994.5,748.1 1000.5,756.8 1012.0,769.1 1022.8,759.7 1033.2,807.7 1043.1,793.3 1047.9,822.4 1052.5,781.1 1061.6,821.4 1070.2,795.8 1090.5,852.2 1108.9,839.4 1125.9,860.5 1131.4,823.4 1141.7,875.0 1156.3,849.0 1170.0,834.7 1182.9,791.0 1195.0,786.3 1206.5,775.2 1217.4,799.9 1237.5,817.2 1255.9,798.7 1272.8,829.7 1288.4,835.7 1303.0,851.0 1316.6,878.0 1329.4,870.2 1341.5,875.2 1352.9,893.2 1363.7,914.3 1383.9,941.4 1402.2,940.4 1410.8,961.6 1419.1,971.5 1434.8,983.0 1449.3,1012.5 1463.0,1045.6 1475.8,1049.6 1481.9,1056.4 1487.8,1073.6 1499.2,1088.8 1510.1,1113.7 1520.4,1132.9 1530.2,1142.4 1539.6,1167.1 1548.6,1175.0 1557.2,1175.0 1577.3,1175.0 1595.7,1175.0 1612.6,1175.0 1628.2,1175.0 1642.8,1175.0 1656.4,1175.0 1669.2,1175.0 1681.3,1175.0 1692.7,1175.0 1703.5,1175.0"/>
<polyline points="239.8,777.8 386.9,775.1 407.1,773.6 434.3,771.3 465.8,769.4 473.0,770.5 486.7,768.6 505.7,770.9 511.7,775.2 534.0,779.3 544.4,784.2 554.3,787.2 559.0,777.8 563.7,779.4 572.7,791.3 581.4,779.5 601.6,775.0 620.1,773.1 637.1,758.9 643.5,744.9 652.8,755.0 667.4,747.2 681.1,744.9 694.0,753.4 706.1,738.1 717.6,755.2 728.5,713.3 748.7,709.7 767.2,707.7 784.2,710.5 789.1,692.4 799.9,698.4 814.6,701.7 828.3,695.1 841.2,679.8 853.3,651.8 864.8,659.8 875.7,659.6 895.9,670.6 914.4,659.8 923.1,634.2 931.4,672.9 947.1,615.9 954.6,620.8 961.8,634.2 975.5,634.5 988.3,622.9 994.5,641.9 1000.5,630.0 1012.0,658.6 1022.8,685.6 1033.2,666.8 1043.1,640.7 1047.9,639.6 1052.5,653.0 1061.6,671.5 1070.2,674.4 1090.5,687.8 1108.9,661.9 1125.9,696.3 1131.4,686.0 1141.7,713.4 1156.3,716.1 1170.0,720.7 1182.9,752.4 1195.0,813.4 1206.5,775.9 1217.4,815.6 1237.5,813.4 1255.9,839.0 1272.8,878.8 1288.4,904.2 1303.0,892.3 1316.6,919.5 1329.4,919.3 1341.5,913.8 1352.9,936.8 1363.7,964.4 1383.9,957.7 1402.2,964.7 1410.8,971.8 1419.1,984.2 1434.8,991.8 1449.3,1019.0 1463.0,1043.3 1475.8,1075.6 1481.9,1074.1 1487.8,1086.1 1499.2,1083.4 1510.1,1120.4 1520.4,1138.2 1530.2,1147.1 1539.6,1175.0 1548.6,1175.0 1557.2,1175.0 1577.3,1175.0 1595.7,1175.0 1612.6,1175.0 1628.2,1175.0 1642.8,1175.0 1656.4,1175.0 1669.2,1175.0 1681.3,1175.0 1692.7,1175.0 1703.5,1175.0"/>
<polyline points="239.8,773.3 386.9,770.6 407.1,769.1 434.3,766.8 465.8,762.8 473.0,762.0 486.7,761.9 505.7,756.4 511.7,758.7 534.0,754.6 544.4,753.7 554.3,749.1 559.0,739.5 563.7,759.7 572.7,742.8 581.4,734.0 601.6,740.4 620.1,710.8 637.1,698.8 643.5,710.9 652.8,690.0 667.4,665.2 681.1,651.3 694.0,648.2 706.1,652.6 717.6,610.9 728.5,636.1 748.7,622.2 767.2,590.8 784.2,603.1 789.1,586.9 799.9,571.6 814.6,604.8 828.3,606.4 841.2,578.8 853.3,597.9 864.8,572.9 875.7,598.6 895.9,607.9 914.4,576.1 923.1,626.6 931.4,628.6 947.1,626.9 954.6,641.0 961.8,638.7 975.5,637.0 988.3,658.8 994.5,675.7 1000.5,648.3 1012.0,691.1 1022.8,720.8 1033.2,688.0 1043.1,721.9 1047.9,710.9 1052.5,675.4 1061.6,742.1 1070.2,722.9 1090.5,753.3 1108.9,742.8 1125.9,763.8 1131.4,760.6 1141.7,747.2 1156.3,736.2 1170.0,723.2 1182.9,704.4 1195.0,719.7 1206.5,725.8 1217.4,709.0 1237.5,720.0 1255.9,743.7 1272.8,773.3 1288.4,809.1 1303.0,835.6 1316.6,880.2 1329.4,907.9 1341.5,915.9 1352.9,936.3 1363.7,972.0 1383.9,1020.2 1402.2,1034.2 1410.8,1033.4 1419.1,1015.0 1434.8,1045.4 1449.3,1050.2 1463.0,1044.0 1475.8,1066.3 1481.9,1066.7 1487.8,1081.8 1499.2,1073.5 1510.1,1083.6 1520.4,1111.1 1530.2,1103.8 1539.6,1124.0 1548.6,1154.4 1557.2,1170.6 1577.3,1175.0 1595.7,1175.0 1612.6,1175.0 1628.2,1175.0 1642.8,1175.0 1656.4,1175.0 1669.2,1175.0 1681.3,1175.0 1692.7,1175.0 1703.5,1175.0"/>
<polyline points="239.8,787.6 386.9,785.0 407.1,783.5 434.3,781.1 465.8,782.1 473.0,782.1 486.7,787.2 505.7,793.8 511.7,796.8 534.0,797.8 544.4,794.0 554.3,802.7 559.0,799.8 563.7,799.8 572.7,807.7 581.4,803.0 601.6,791.9 620.1,802.5 637.1,807.7 643.5,789.3 652.8,795.8 667.4,786.7 681.1,789.4 694.0,785.0 706.1,785.6 717.6,769.3 728.5,780.1 748.7,806.1 767.2,796.0 784.2,811.4 789.1,821.6 799.9,792.6 814.6,795.6 828.3,836.5 841.2,820.6 853.3,804.1 864.8,814.3 875.7,842.6 895.9,843.4 914.4,843.9 923.1,858.1 931.4,822.7 947.1,835.1 954.6,866.7 961.8,879.5 975.5,869.6 988.3,843.1 994.5,880.1 1000.5,876.9 1012.0,878.5 1022.8,908.7 1033.2,892.1 1043.1,904.7 1047.9,903.2 1052.5,902.9 1061.6,850.1 1070.2,901.1 1090.5,880.4 1108.9,881.3 1125.9,920.9 1131.4,904.1 1141.7,910.1 1156.3,900.9 1170.0,922.0 1182.9,903.9 1195.0,916.2 1206.5,893.5 1217.4,913.6 1237.5,928.2 1255.9,955.3 1272.8,935.1 1288.4,996.9 1303.0,1012.5 1316.6,1026.4 1329.4,1043.5 1341.5,1066.3 1352.9,1081.6 1363.7,1098.9 1383.9,1133.3 1402.2,1157.6 1410.8,1155.7 1419.1,1175.0 1434.8,1175.0 1449.3,1175.0 1463.0,1175.0 1475.8,1175.0 1481.9,1175.0 1487.8,1175.0 1499.2,1175.0 1510.1,1175.0 1520.4,1175.0 1530.2,1175.0 1539.6,1175.0 1548.6,1175.0 1557.2,1175.0 1577.3,1175.0 1595.7,1175.0 1612.6,1175.0 1628.2,1175.0 1642.8,1175.0 1656.4,1175.0 1669.2,1175.0 1681.3,1175.0 1692.7,1175.0 1703.5,1175.0"/>
<polyline points="239.8,566.1 386.9,563.5 407.1,562.0 434.3,559.6 465.8,554.3 473.0,556.3 486.7,552.9 505.7,555.7 511.7,554.6 534.0,552.3 544.4,548.5 554.3,557.0 559.0,557.3 563.7,549.0 572.7,546.5 581.4,556.3 601.6,561.7 620.1,551.3 637.1,554.2 643.5,554.8 652.8,544.3 667.4,554.0 681.1,538.4 694.0,544.2 706.1,558.0 717.6,534.9 728.5,525.8 748.7,525.1 767.2,527.0 784.2,499.1 789.1,508.3 799.9,513.5 814.6,506.2 828.3,466.4 841.2,458.4 853.3,481.1 864.8,502.0 875.7,499.6 895.9,477.4 914.4,539.4 923.1,551.2 931.4,553.2 947.1,574.5 954.6,580.4 961.8,611.4 975.5,637.1 988.3,648.6 994.5,651.6 1000.5,684.5 1012.0,700.3 1022.8,719.9 1033.2,708.8 1043.1,693.0 1047.9,668.7 1052.5,669.8 1061.6,688.0 1070.2,668.4 1090.5,669.1 1108.9,611.3 1125.9,655.3 1131.4,586.0 1141.7,601.5 1156.3,602.9 1170.0,640.1 1182.9,623.8 1195.0,630.1 1206.5,640.9 1217.4,683.5 1237.5,688.4 1255.9,722.2 1272.8,763.3 1288.4,769.1 1303.0,826.5 1316.6,845.4 1329.4,846.6 1341.5,868.5 1352.9,908.4 1363.7,922.1 1383.9,964.9 1402.2,976.2 1410.8,996.4 1419.1,1000.6 1434.8,1032.9 1449.3,1065.7 1463.0,1099.5 1475.8,1108.1 1481.9,1117.9 1487.8,1142.5 1499.2,1165.7 1510.1,1175.0 1520.4,1175.0 1530.2,1175.0 1539.6,1175.0 1548.6,1175.0 1557.2,1175.0 1577.3,1175.0 1595.7,1175.0 1612.6,1175.0 1628.2,1175.0 1642.8,1175.0 1656.4,1175.0 1669.2,1175.0 1681.3,1175.0 1692.7,1175.0 1703.5,1175.0"/>
<polyline points="239.8,737.1 386.9,734.5 407.1,733.0 434.3,730.6 465.8,726.7 473.0,724.6 486.7,724.4 505.7,716.0 511.7,718.9 534.0,704.4 544.4,703.2 554.3,698.7 559.0,692.7 563.7,697.2 572.7,688.9 581.4,686.9 601.6,690.9 620.1,694.8 637.1,678.6 643.5,673.6 652.8,677.3 667.4,709.5 681.1,681.3 694.0,697.7 706.1,709.2 717.6,681.8 728.5,710.9 748.7,684.0 767.2,680.6 784.2,661.7 789.1,716.2 799.9,681.7 814.6,706.0 828.3,690.5 841.2,692.1 853.3,691.4 864.8,696.2 875.7,707.0 895.9,703.7 914.4,678.5 923.1,729.3 931.4,715.5 947.1,725.3 954.6,709.0 961.8,688.6 975.5,759.4 988.3,746.1 994.5,728.7 1000.5,738.5 1012.0,782.2 1022.8,743.3 1033.2,785.9 1043.1,738.4 1047.9,725.6 1052.5,820.4 1061.6,771.6 1070.2,796.1 1090.5,818.3 1108.9,786.6 1125.9,809.4 1131.4,839.3 1141.7,850.8 1156.3,821.9 1170.0,827.0 1182.9,845.7 1195.0,800.0 1206.5,813.8 1217.4,804.2 1237.5,789.8 1255.9,816.5 1272.8,812.9 1288.4,806.1 1303.0,827.3 1316.6,838.9 1329.4,845.7 1341.5,886.2 1352.9,878.9 1363.7,911.4 1383.9,937.5 1402.2,953.5 1410.8,966.5 1419.1,982.2 1434.8,1004.7 1449.3,1056.1 1463.0,1054.1 1475.8,1106.0 1481.9,1101.3 1487.8,1119.2 1499.2,1136.3 1510.1,1175.0 1520.4,1175.0 1530.2,1175.0 1539.6,1175.0 1548.6,1175.0 1557.2,1175.0 1577.3,1175.0 1595.7,1175.0 1612.6,1175.0 1628.2,1175.0 1642.8,1175.0 1656.4,1175.0 1669.2,1175.0 1681.3,1175.0 1692.7,1175.0 1703.5,1175.0"/>
<polyline points="239.8,721.4 386.9,718.8 407.1,717.3 434.3,714.9 465.8,711.0 473.0,713.0 486.7,709.2 505.7,705.9 511.7,708.1 534.0,701.3 544.4,705.2 554.3,709.4 559.0,700.7 563.7,698.5 572.7,697.6 581.4,708.4 601.6,716.8 620.1,707.2 637.1,686.9 643.5,683.5 652.8,703.5 667.4,685.1 681.1,678.3 694.0,636.2 706.1,635.5 717.6,656.1 728.5,647.9 748.7,632.7 767.2,614.8 784.2,619.1 789.1,621.2 799.9,607.7 814.6,624.3 828.3,592.9 841.2,541.3 853.3,569.0 864.8,579.7 875.7,605.6 895.9,574.6 914.4,551.6 923.1,533.5 931.4,513.4 947.1,567.8 954.6,562.5 961.8,564.1 975.5,561.2 988.3,563.7 994.5,566.4 1000.5,596.0 1012.0,609.0 1022.8,591.0 1033.2,611.7 1043.1,633.1 1047.9,648.0 1052.5,636.3 1061.6,622.0 1070.2,622.2 1090.5,665.3 1108.9,672.6 1125.9,666.9 1131.4,652.5 1141.7,680.6 1156.3,665.2 1170.0,698.3 1182.9,688.0 1195.0,692.4 1206.5,701.8 1217.4,690.3 1237.5,697.3 1255.9,736.5 1272.8,737.4 1288.4,728.9 1303.0,762.2 1316.6,771.4 1329.4,767.9 1341.5,788.6 1352.9,794.7 1363.7,809.2 1383.9,818.4 1402.2,830.2 1410.8,845.1 1419.1,847.1 1434.8,859.7 1449.3,882.5 1463.0,909.0 1475.8,928.1 1481.9,922.1 1487.8,929.2 1499.2,953.0 1510.1,964.3 1520.4,987.2 1530.2,1000.4 1539.6,1019.7 1548.6,1025.9 1557.2,1043.6 1577.3,1077.0 1595.7,1092.1 1612.6,1096.9 1628.2,1135.2 1642.8,1143.7 1656.4,1157.6 1669.2,1169.7 1681.3,1175.0 1692.7,1175.0 1703.5,1175.0"/>
<polyline points="239.8,710.0 386.9,707.4 407.1,705.9 434.3,703.5 465.8,699.9 473.0,700.8 486.7,698.1 505.7,696.5 511.7,695.5 534.0,685.5 544.4,680.2 554.3,690.8 559.0,675.4 563.7,681.8 572.7,677.2 581.4,665.4 601.6,667.6 620.1,656.5 637.1,656.8 643.5,625.8 652.8,637.1 667.4,656.1 681.1,637.3 694.0,653.6 706.1,649.7 717.6,679.2 728.5,637.5 748.7,658.1 767.2,662.7 784.2,672.6 789.1,683.7 799.9,654.8 814.6,685.4 828.3,652.7 841.2,685.1 853.3,683.7 864.8,665.4 875.7,683.5 895.9,676.2 914.4,680.1 923.1,705.7 931.4,686.5 947.1,685.8 954.6,703.4 961.8,664.8 975.5,715.5 988.3,713.5 994.5,667.4 1000.5,683.4 1012.0,721.8 1022.8,711.3 1033.2,695.0 1043.1,676.9 1047.9,713.6 1052.5,712.6 1061.6,695.0 1070.2,694.4 1090.5,670.8 1108.9,677.0 1125.9,714.8 1131.4,728.0 1141.7,734.1 1156.3,695.1 1170.0,749.6 1182.9,748.0 1195.0,740.6 1206.5,743.1 1217.4,763.9 1237.5,745.6 1255.9,745.0 1272.8,776.9 1288.4,791.5 1303.0,786.8 1316.6,811.5 1329.4,828.6 1341.5,853.2 1352.9,851.5 1363.7,845.8 1383.9,872.8 1402.2,919.8 1410.8,928.5 1419.1,958.7 1434.8,998.7 1449.3,1029.1 1463.0,1065.2 1475.8,1094.6 1481.9,1110.6 1487.8,1136.5 1499.2,1159.1 1510.1,1175.0 1520.4,1175.0 1530.2,1175.0 1539.6,1175.0 1548.6,1175.0 1557.2,1175.0 1577.3,1175.0 1595.7,1175.0 1612.6,1175.0 1628.2,1175.0 1642.8,1175.0 1656.4,1175.0 1669.2,1175.0 1681.3,1175.0 1692.7,1175.0 1703.5,1175.0"/>
<polyline points="239.8,713.0 386.9,710.4 407.1,708.9 434.3,706.5 465.8,702.5 473.0,699.5 486.7,695.4 505.7,689.5 511.7,683.4 534.0,675.0 544.4,682.7 554.3,677.7 559.0,680.4 563.7,662.1 572.7,674.1 581.4,665.2 601.6,640.1 620.1,650.9 637.1,661.4 643.5,638.6 652.8,634.2 667.4,646.6 681.1,625.0 694.0,613.4 706.1,609.5 717.6,575.9 728.5,585.3 748.7,608.1 767.2,588.6 784.2,577.0 789.1,587.8 799.9,583.8 814.6,576.6 828.3,547.8 841.2,570.3 853.3,542.1 864.8,578.4 875.7,591.6 895.9,546.4 914.4,574.8 923.1,585.8 931.4,520.8 947.1,543.8 954.6,562.6 961.8,536.8 975.5,543.3 988.3,559.7 994.5,509.8 1000.5,539.8 1012.0,573.1 1022.8,566.7 1033.2,570.2 1043.1,570.6 1047.9,614.1 1052.5,594.8 1061.6,557.5 1070.2,607.6 1090.5,620.5 1108.9,625.3 1125.9,633.5 1131.4,635.6 1141.7,628.6 1156.3,666.7 1170.0,643.9 1182.9,671.0 1195.0,662.9 1206.5,655.4 1217.4,651.3 1237.5,668.1 1255.9,655.4 1272.8,650.0 1288.4,654.2 1303.0,664.4 1316.6,670.0 1329.4,706.7 1341.5,716.9 1352.9,755.3 1363.7,752.6 1383.9,771.9 1402.2,816.0 1410.8,825.8 1419.1,835.5 1434.8,871.4 1449.3,884.0 1463.0,918.2 1475.8,913.9 1481.9,922.8 1487.8,935.2 1499.2,958.5 1510.1,968.0 1520.4,987.0 1530.2,995.7 1539.6,1017.1 1548.6,1037.4 1557.2,1044.4 1577.3,1079.3 1595.7,1105.1 1612.6,1116.2 1628.2,1139.9 1642.8,1155.4 1656.4,1159.8 1669.2,1175.0 1681.3,1175.0 1692.7,1175.0 1703.5,1175.0"/>
<polyline points="239.8,590.3 386.9,587.7 407.1,586.2 434.3,583.8 465.8,579.7 473.0,578.8 486.7,576.4 505.7,569.2 511.7,565.3 534.0,550.8 544.4,546.1 554.3,532.6 559.0,536.9 563.7,537.8 572.7,522.3 581.4,533.7 601.6,528.6 620.1,504.5 637.1,491.6 643.5,477.4 652.8,473.8 667.4,508.9 681.1,477.8 694.0,481.0 706.1,493.7 717.6,471.4 728.5,466.4 748.7,477.7 767.2,466.4 784.2,508.7 789.1,508.9 799.9,527.6 814.6,510.6 828.3,510.9 841.2,520.0 853.3,506.8 864.8,527.3 875.7,531.3 895.9,460.4 914.4,453.0 923.1,465.9 931.4,434.2 947.1,438.2 954.6,394.6 961.8,412.4 975.5,403.7 988.3,392.9 994.5,391.7 1000.5,398.3 1012.0,399.8 1022.8,407.4 1033.2,423.3 1043.1,413.0 1047.9,414.4 1052.5,448.2 1061.6,464.3 1070.2,454.5 1090.5,469.0 1108.9,512.6 1125.9,548.2 1131.4,527.2 1141.7,540.7 1156.3,579.5 1170.0,594.2 1182.9,588.5 1195.0,631.6 1206.5,627.7 1217.4,629.1 1237.5,669.8 1255.9,697.5 1272.8,711.2 1288.4,743.4 1303.0,722.3 1316.6,762.8 1329.4,743.5 1341.5,754.1 1352.9,767.6 1363.7,785.7 1383.9,775.8 1402.2,811.3 1410.8,820.7 1419.1,833.2 1434.8,846.6 1449.3,868.3 1463.0,877.2 1475.8,875.1 1481.9,895.2 1487.8,896.9 1499.2,927.1 1510.1,925.9 1520.4,948.0 1530.2,956.7 1539.6,977.4 1548.6,1001.7 1557.2,1009.0 1577.3,1046.0 1595.7,1066.9 1612.6,1099.8 1628.2,1130.8 1642.8,1152.8 1656.4,1175.0 1669.2,1175.0 1681.3,1175.0 1692.7,1175.0 1703.5,1175.0"/>
<polyline points="239.8,710.3 386.9,707.6 407.1,706.2 434.3,703.8 465.8,701.5 473.0,701.7 486.7,703.5 505.7,698.9 511.7,699.3 534.0,700.1 544.4,704.8 554.3,697.2 559.0,698.8 563.7,697.1 572.7,697.5 581.4,687.4 601.6,675.3 620.1,681.6 637.1,659.1 643.5,636.9 652.8,639.9 667.4,610.0 681.1,591.3 694.0,569.7 706.1,581.0 717.6,577.4 728.5,616.5 748.7,621.3 767.2,656.1 784.2,643.7 789.1,632.7 799.9,681.4 814.6,665.1 828.3,649.1 841.2,718.8 853.3,724.3 864.8,728.7 875.7,728.6 895.9,744.0 914.4,729.1 923.1,731.8 931.4,723.5 947.1,736.7 954.6,763.9 961.8,732.2 975.5,758.9 988.3,749.2 994.5,751.6 1000.5,748.6 1012.0,697.7 1022.8,776.7 1033.2,753.0 1043.1,763.2 1047.9,745.7 1052.5,744.2 1061.6,715.1 1070.2,764.0 1090.5,774.8 1108.9,781.4 1125.9,793.4 1131.4,727.3 1141.7,750.2 1156.3,743.9 1170.0,758.8 1182.9,797.5 1195.0,805.7 1206.5,824.3 1217.4,839.5 1237.5,860.3 1255.9,855.4 1272.8,906.4 1288.4,937.2 1303.0,937.3 1316.6,954.8 1329.4,1009.5 1341.5,1011.9 1352.9,1029.8 1363.7,1037.1 1383.9,1064.9 1402.2,1081.4 1410.8,1100.6 1419.1,1120.1 1434.8,1155.8 1449.3,1165.6 1463.0,1175.0 1475.8,1175.0 1481.9,1175.0 1487.8,1175.0 1499.2,1175.0 1510.1,1175.0 1520.4,1175.0 1530.2,1175.0 1539.6,1175.0 1548.6,1175.0 1557.2,1175.0 1577.3,1175.0 1595.7,1175.0 1612.6,1175.0 1628.2,1175.0 1642.8,1175.0 1656.4,1175.0 1669.2,1175.0 1681.3,1175.0 1692.7,1175.0 1703.5,1175.0"/>
<polyline points="239.8,748.9 386.9,746.3 407.1,744.8 434.3,742.4 465.8,738.6 473.0,738.2 486.7,735.0 505.7,734.5 511.7,732.9 534.0,729.8 544.4,733.7 554.3,734.5 559.0,731.8 563.7,733.0 572.7,730.4 581.4,732.3 601.6,717.7 620.1,729.9 637.1,709.2 643.5,681.1 652.8,695.9 667.4,674.2 681.1,654.0 694.0,628.9 706.1,643.6 717.6,630.8 728.5,576.8 748.7,607.6 767.2,603.9 784.2,557.2 789.1,539.5 799.9,584.7 814.6,531.3 828.3,557.7 841.2,525.4 853.3,512.3 864.8,536.8 875.7,515.2 895.9,525.8 914.4,566.2 923.1,582.8 931.4,564.4 947.1,566.2 954.6,575.3 961.8,596.8 975.5,692.3 988.3,645.8 994.5,700.1 1000.5,719.6 1012.0,719.3 1022.8,719.1 1033.2,681.4 1043.1,727.1 1047.9,718.4 1052.5,733.3 1061.6,717.7 1070.2,696.0 1090.5,658.1 1108.9,686.5 1125.9,653.0 1131.4,679.1 1141.7,667.6 1156.3,635.0 1170.0,650.2 1182.9,678.9 1195.0,672.9 1206.5,691.7 1217.4,713.6 1237.5,765.6 1255.9,781.7 1272.8,804.0 1288.4,820.6 1303.0,834.1 1316.6,869.6 1329.4,866.3 1341.5,878.2 1352.9,885.4 1363.7,899.9 1383.9,914.6 1402.2,935.5 1410.8,954.0 1419.1,953.4 1434.8,962.1 1449.3,1003.3 1463.0,998.2 1475.8,1021.0 1481.9,1041.8 1487.8,1044.5 1499.2,1064.6 1510.1,1077.0 1520.4,1103.8 1530.2,1128.5 1539.6,1144.8 1548.6,1168.5 1557.2,1175.0 1577.3,1175.0 1595.7,1175.0 1612.6,1175.0 1628.2,1175.0 1642.8,1175.0 1656.4,1175.0 1669.2,1175.0 1681.3,1175.0 1692.7,1175.0 1703.5,1175.0"/>
<polyline points="239.8,561.8 386.9,559.1 407.1,557.6 434.3,555.3 465.8,552.7 473.0,552.8 486.7,551.8 505.7,548.4 511.7,549.8 534.0,550.6 544.4,557.6 554.3,555.0 559.0,554.5 563.7,559.9 572.7,557.9 581.4,566.2 601.6,568.4 620.1,570.2 637.1,570.5 643.5,595.5 652.8,579.5 667.4,604.6 681.1,599.7 694.0,616.2 706.1,584.0 717.6,573.3 728.5,599.5 748.7,574.8 767.2,513.1 784.2,517.2 789.1,520.2 799.9,494.9 814.6,503.1 828.3,481.3 841.2,468.8 853.3,437.7 864.8,463.8 875.7,461.6 895.9,417.3 914.4,383.6 923.1,392.9 931.4,395.0 947.1,389.8 954.6,405.1 961.8,383.2 975.5,380.1 988.3,358.6 994.5,366.7 1000.5,380.2 1012.0,393.6 1022.8,389.4 1033.2,436.3 1043.1,443.0 1047.9,449.5 1052.5,446.5 1061.6,431.4 1070.2,433.5 1090.5,463.0 1108.9,517.3 1125.9,523.4 1131.4,550.5 1141.7,553.3 1156.3,588.4 1170.0,583.3 1182.9,646.2 1195.0,631.2 1206.5,665.1 1217.4,672.8 1237.5,708.6 1255.9,738.4 1272.8,734.9 1288.4,757.0 1303.0,773.2 1316.6,762.3 1329.4,745.6 1341.5,786.3 1352.9,776.7 1363.7,764.4 1383.9,772.6 1402.2,782.5 1410.8,783.0 1419.1,796.1 1434.8,822.5 1449.3,843.2 1463.0,873.1 1475.8,878.2 1481.9,900.7 1487.8,902.9 1499.2,934.4 1510.1,955.3 1520.4,970.1 1530.2,983.7 1539.6,1007.6 1548.6,1041.2 1557.2,1056.6 1577.3,1089.3 1595.7,1117.2 1612.6,1153.9 1628.2,1175.0 1642.8,1175.0 1656.4,1175.0 1669.2,1175.0 1681.3,1175.0 1692.7,1175.0 1703.5,1175.0"/>
<polyline points="239.8,781.1 386.9,778.4 407.1,776.9 434.3,774.5 465.8,774.9 473.0,773.4 486.7,778.8 505.7,785.6 511.7,789.0 534.0,797.1 544.4,802.5 554.3,806.3 559.0,807.8 563.7,809.8 572.7,816.9 581.4,820.8 601.6,816.0 620.1,827.5 637.1,834.8 643.5,817.2 652.8,814.9 667.4,819.9 681.1,815.7 694.0,788.0 706.1,787.1 717.6,771.9 728.5,772.2 748.7,762.0 767.2,727.3 784.2,718.8 789.1,715.5 799.9,733.7 814.6,709.2 828.3,664.2 841.2,679.8 853.3,648.3 864.8,646.9 875.7,630.4 895.9,609.0 914.4,611.7 923.1,625.2 931.4,579.6 947.1,581.5 954.6,623.0 961.8,592.1 975.5,624.3 988.3,608.5 994.5,608.2 1000.5,601.6 1012.0,603.7 1022.8,592.2 1033.2,641.6 1043.1,615.2 1047.9,630.1 1052.5,658.4 1061.6,620.7 1070.2,656.5 1090.5,699.8 1108.9,680.1 1125.9,730.6 1131.4,688.9 1141.7,716.5 1156.3,732.1 1170.0,734.6 1182.9,782.6 1195.0,805.1 1206.5,807.7 1217.4,818.0 1237.5,868.4 1255.9,856.4 1272.8,907.0 1288.4,926.2 1303.0,967.1 1316.6,985.0 1329.4,999.3 1341.5,1029.9 1352.9,1020.4 1363.7,1053.8 1383.9,1076.8 1402.2,1105.3 1410.8,1116.6 1419.1,1138.6 1434.8,1154.0 1449.3,1175.0 1463.0,1175.0 1475.8,1175.0 1481.9,1175.0 1487.8,1175.0 1499.2,1175.0 1510.1,1175.0 1520.4,1175.0 1530.2,1175.0 1539.6,1175.0 1548.6,1175.0 1557.2,1175.0 1577.3,1175.0 1595.7,1175.0 1612.6,1175.0 1628.2,1175.0 1642.8,1175.0 1656.4,1175.0 1669.2,1175.0 1681.3,1175.0 1692.7,1175.0 1703.5,1175.0"/>
<polyline points="239.8,591.4 386.9,588.7 407.1,587.2 434.3,584.8 465.8,578.3 473.0,571.3 486.7,566.7 505.7,562.8 511.7,562.0 534.0,561.7 544.4,567.0 554.3,564.2 559.0,570.0 563.7,579.9 572.7,568.8 581.4,580.9 601.6,595.0 620.1,595.1 637.1,579.5 643.5,580.9 652.8,572.9 667.4,549.5 681.1,538.3 694.0,514.6 706.1,535.7 717.6,477.6 728.5,454.9 748.7,435.1 767.2,404.3 784.2,385.6 789.1,382.6 799.9,425.8 814.6,391.5 828.3,361.4 841.2,370.4 853.3,350.3 864.8,359.8 875.7,333.0 895.9,357.7 914.4,331.9 923.1,339.2 931.4,377.3 947.1,399.9 954.6,370.7 961.8,380.2 975.5,385.5 988.3,409.3 994.5,452.8 1000.5,435.7 1012.0,444.2 1022.8,460.3 1033.2,455.5 1043.1,446.1 1047.9,494.4 1052.5,473.6 1061.6,492.4 1070.2,512.2 1090.5,492.4 1108.9,527.0 1125.9,530.2 1131.4,549.5 1141.7,531.7 1156.3,554.9 1170.0,555.6 1182.9,551.8 1195.0,569.1 1206.5,553.4 1217.4,572.3 1237.5,565.8 1255.9,565.8 1272.8,594.9 1288.4,579.1 1303.0,596.9 1316.6,607.4 1329.4,607.1 1341.5,596.2 1352.9,613.4 1363.7,633.8 1383.9,667.0 1402.2,674.2 1410.8,685.0 1419.1,712.5 1434.8,743.5 1449.3,753.1 1463.0,785.3 1475.8,801.9 1481.9,814.8 1487.8,828.2 1499.2,847.3 1510.1,861.8 1520.4,886.4 1530.2,912.1 1539.6,936.1 1548.6,967.0 1557.2,976.6 1577.3,1025.7 1595.7,1032.2 1612.6,1070.4 1628.2,1104.8 1642.8,1113.2 1656.4,1150.4 1669.2,1173.5 1681.3,1175.0 1692.7,1175.0 1703.5,1175.0"/>
<polyline points="239.8,650.2 386.9,647.5 407.1,646.0 434.3,643.7 465.8,640.9 473.0,639.9 486.7,638.2 505.7,636.9 511.7,635.3 534.0,633.6 544.4,630.8 554.3,633.2 559.0,628.2 563.7,629.5 572.7,625.0 581.4,640.5 601.6,629.0 620.1,624.9 637.1,615.1 643.5,609.7 652.8,606.6 667.4,601.0 681.1,563.7 694.0,604.3 706.1,548.2 717.6,515.3 728.5,556.2 748.7,520.1 767.2,528.7 784.2,528.6 789.1,493.1 799.9,499.5 814.6,473.7 828.3,476.7 841.2,497.2 853.3,502.5 864.8,478.4 875.7,464.3 895.9,535.7 914.4,515.9 923.1,513.9 931.4,524.1 947.1,510.0 954.6,534.2 961.8,552.9 975.5,532.8 988.3,552.8 994.5,581.5 1000.5,550.1 1012.0,540.8 1022.8,593.2 1033.2,562.1 1043.1,551.7 1047.9,583.2 1052.5,567.3 1061.6,566.7 1070.2,580.9 1090.5,569.6 1108.9,591.7 1125.9,605.9 1131.4,585.2 1141.7,600.0 1156.3,606.5 1170.0,612.1 1182.9,620.6 1195.0,604.3 1206.5,606.1 1217.4,586.9 1237.5,620.0 1255.9,632.9 1272.8,645.6 1288.4,692.4 1303.0,697.9 1316.6,748.3 1329.4,769.1 1341.5,818.9 1352.9,806.4 1363.7,823.0 1383.9,858.1 1402.2,880.8 1410.8,903.0 1419.1,913.2 1434.8,925.0 1449.3,965.5 1463.0,967.4 1475.8,988.7 1481.9,1010.9 1487.8,1010.1 1499.2,1023.4 1510.1,1040.7 1520.4,1060.3 1530.2,1089.6 1539.6,1102.6 1548.6,1122.9 1557.2,1136.9 1577.3,1175.0 1595.7,1175.0 1612.6,1175.0 1628.2,1175.0 1642.8,1175.0 1656.4,1175.0 1669.2,1175.0 1681.3,1175.0 1692.7,1175.0 1703.5,1175.0"/>
<polyline points="239.8,692.2 386.9,689.5 407.1,688.0 434.3,685.7 465.8,680.1 473.0,679.1 486.7,675.9 505.7,670.7 511.7,668.4 534.0,664.5 544.4,659.0 554.3,658.6 559.0,656.5 563.7,673.8 572.7,646.1 581.4,652.7 601.6,641.6 620.1,626.1 637.1,627.4 643.5,628.0 652.8,618.3 667.4,625.7 681.1,606.3 694.0,592.1 706.1,611.8 717.6,577.1 728.5,546.6 748.7,560.6 767.2,556.2 784.2,517.7 789.1,537.0 799.9,542.4 814.6,524.5 828.3,514.5 841.2,493.8 853.3,541.3 864.8,543.6 875.7,506.2 895.9,511.6 914.4,521.7 923.1,518.5 931.4,522.8 947.1,528.8 954.6,535.5 961.8,509.3 975.5,558.7 988.3,547.9 994.5,559.6 1000.5,546.2 1012.0,578.3 1022.8,542.5 1033.2,604.2 1043.1,592.3 1047.9,594.9 1052.5,622.8 1061.6,559.8 1070.2,607.8 1090.5,627.5 1108.9,669.2 1125.9,677.7 1131.4,622.5 1141.7,655.9 1156.3,662.8 1170.0,676.8 1182.9,669.6 1195.0,685.1 1206.5,697.3 1217.4,702.8 1237.5,718.0 1255.9,729.4 1272.8,758.3 1288.4,755.3 1303.0,746.4 1316.6,779.1 1329.4,791.0 1341.5,778.7 1352.9,781.5 1363.7,794.7 1383.9,820.2 1402.2,815.7 1410.8,819.1 1419.1,848.4 1434.8,875.2 1449.3,907.4 1463.0,916.8 1475.8,963.7 1481.9,970.4 1487.8,976.6 1499.2,983.8 1510.1,1022.0 1520.4,1033.3 1530.2,1045.5 1539.6,1088.9 1548.6,1094.7 1557.2,1128.4 1577.3,1154.7 1595.7,1175.0 1612.6,1175.0 1628.2,1175.0 1642.8,1175.0 1656.4,1175.0 1669.2,1175.0 1681.3,1175.0 1692.7,1175.0 1703.5,1175.0"/>
<polyline points="239.8,706.0 386.9,703.3 407.1,701.9 434.3,699.5 465.8,695.9 473.0,699.4 486.7,701.1 505.7,706.3 511.7,700.9 534.0,709.2 544.4,712.2 554.3,710.8 559.0,706.3 563.7,714.3 572.7,705.0 581.4,701.1 601.6,701.7 620.1,712.1 637.1,705.0 643.5,691.6 652.8,701.2 667.4,680.3 681.1,671.1 694.0,646.7 706.1,650.6 717.6,641.0 728.5,633.5 748.7,601.5 767.2,636.7 784.2,607.7 789.1,589.2 799.9,596.7 814.6,584.5 828.3,589.5 841.2,588.1 853.3,548.6 864.8,599.3 875.7,540.5 895.9,574.9 914.4,582.1 923.1,587.6 931.4,598.0 947.1,601.1 954.6,590.6 961.8,631.7 975.5,658.6 988.3,653.1 994.5,629.8 1000.5,688.2 1012.0,739.4 1022.8,688.4 1033.2,690.1 1043.1,723.4 1047.9,720.9 1052.5,690.7 1061.6,666.7 1070.2,724.3 1090.5,698.9 1108.9,696.1 1125.9,702.5 1131.4,683.7 1141.7,708.7 1156.3,697.3 1170.0,709.3 1182.9,704.4 1195.0,716.4 1206.5,716.4 1217.4,721.3 1237.5,778.1 1255.9,764.6 1272.8,785.2 1288.4,827.1 1303.0,837.0 1316.6,858.2 1329.4,866.9 1341.5,899.0 1352.9,908.8 1363.7,941.0 1383.9,969.8 1402.2,989.4 1410.8,1015.3 1419.1,1012.6 1434.8,1045.1 1449.3,1088.4 1463.0,1112.2 1475.8,1126.6 1481.9,1144.5 1487.8,1156.9 1499.2,1165.6 1510.1,1175.0 1520.4,1175.0 1530.2,1175.0 1539.6,1175.0 1548.6,1175.0 1557.2,1175.0 1577.3,1175.0 1595.7,1175.0 1612.6,1175.0 1628.2,1175.0 1642.8,1175.0 1656.4,1175.0 1669.2,1175.0 1681.3,1175.0 1692.7,1175.0 1703.5,1175.0"/>
<polyline points="239.8,691.9 386.9,689.2 407.1,687.7 434.3,685.4 465.8,686.7 473.0,684.4 486.7,687.2 505.7,695.6 511.7,695.8 534.0,698.0 544.4,698.6 554.3,701.2 559.0,696.3 563.7,699.9 572.7,702.0 581.4,701.6 601.6,702.6 620.1,704.3 637.1,696.4 643.5,692.4 652.8,706.6 667.4,693.0 681.1,684.7 694.0,660.5 706.1,666.8 717.6,664.4 728.5,674.1 748.7,672.2 767.2,679.1 784.2,675.7 789.1,642.9 799.9,672.1 814.6,651.0 828.3,627.3 841.2,662.5 853.3,604.7 864.8,627.3 875.7,649.3 895.9,630.0 914.4,645.1 923.1,642.5 931.4,674.6 947.1,681.6 954.6,668.2 961.8,696.7 975.5,689.1 988.3,660.4 994.5,675.4 1000.5,661.5 1012.0,695.3 1022.8,722.8 1033.2,707.4 1043.1,748.7 1047.9,751.3 1052.5,682.5 1061.6,759.3 1070.2,726.4 1090.5,769.5 1108.9,762.3 1125.9,764.4 1131.4,780.5 1141.7,776.3 1156.3,805.8 1170.0,793.1 1182.9,792.1 1195.0,804.4 1206.5,794.7 1217.4,830.3 1237.5,822.5 1255.9,844.9 1272.8,890.8 1288.4,887.0 1303.0,930.3 1316.6,909.0 1329.4,947.1 1341.5,962.4 1352.9,981.6 1363.7,991.7 1383.9,1016.4 1402.2,1026.6 1410.8,1054.6 1419.1,1073.1 1434.8,1090.7 1449.3,1130.3 1463.0,1154.8 1475.8,1175.0 1481.9,1175.0 1487.8,1175.0 1499.2,1175.0 1510.1,1175.0 1520.4,1175.0 1530.2,1175.0 1539.6,1175.0 1548.6,1175.0 1557.2,1175.0 1577.3,1175.0 1595.7,1175.0 1612.6,1175.0 1628.2,1175.0 1642.8,1175.0 1656.4,1175.0 1669.2,1175.0 1681.3,1175.0 1692.7,1175.0 1703.5,1175.0"/>
<polyline points="239.8,653.1 386.9,650.4 407.1,648.9 434.3,646.5 465.8,642.1 473.0,641.8 486.7,628.9 505.7,622.4 511.7,624.0 534.0,623.1 544.4,616.8 554.3,636.2 559.0,616.5 563.7,633.5 572.7,637.5 581.4,628.8 601.6,631.3 620.1,628.4 637.1,651.5 643.5,637.7 652.8,614.3 667.4,631.0 681.1,657.0 694.0,619.7 706.1,650.9 717.6,616.8 728.5,634.8 748.7,626.3 767.2,592.3 784.2,584.7 789.1,590.3 799.9,605.6 814.6,595.5 828.3,608.0 841.2,585.1 853.3,579.6 864.8,591.5 875.7,609.2 895.9,557.2 914.4,623.5 923.1,571.9 931.4,553.4 947.1,593.4 954.6,581.3 961.8,573.2 975.5,570.4 988.3,527.6 994.5,523.1 1000.5,574.0 1012.0,544.3 1022.8,510.5 1033.2,537.3 1043.1,540.8 1047.9,482.0 1052.5,479.6 1061.6,512.7 1070.2,527.8 1090.5,535.7 1108.9,558.2 1125.9,573.5 1131.4,589.2 1141.7,602.5 1156.3,645.2 1170.0,614.2 1182.9,634.7 1195.0,660.9 1206.5,667.6 1217.4,707.0 1237.5,695.2 1255.9,731.1 1272.8,772.3 1288.4,791.1 1303.0,828.0 1316.6,847.8 1329.4,855.2 1341.5,880.3 1352.9,882.3 1363.7,911.0 1383.9,941.3 1402.2,969.9 1410.8,968.3 1419.1,974.9 1434.8,1007.5 1449.3,1036.8 1463.0,1070.4 1475.8,1071.8 1481.9,1096.9 1487.8,1104.5 1499.2,1112.9 1510.1,1146.6 1520.4,1162.9 1530.2,1169.5 1539.6,1175.0 1548.6,1175.0 1557.2,1175.0 1577.3,1175.0 1595.7,1175.0 1612.6,1175.0 1628.2,1175.0 1642.8,1175.0 1656.4,1175.0 1669.2,1175.0 1681.3,1175.0 1692.7,1175.0 1703.5,1175.0"/>
<polyline points="239.8,771.3 386.9,768.6 407.1,767.1 434.3,764.8 465.8,761.8 473.0,763.3 486.7,757.8 505.7,756.9 511.7,753.8 534.0,754.6 544.4,748.5 554.3,743.5 559.0,752.8 563.7,757.4 572.7,744.0 581.4,744.6 601.6,735.1 620.1,741.9 637.1,737.9 643.5,718.1 652.8,728.2 667.4,733.8 681.1,711.1 694.0,688.6 706.1,690.7 717.6,648.4 728.5,654.5 748.7,668.1 767.2,607.3 784.2,622.7 789.1,606.5 799.9,584.1 814.6,557.6 828.3,552.1 841.2,595.4 853.3,596.8 864.8,617.1 875.7,591.1 895.9,603.3 914.4,629.0 923.1,666.8 931.4,694.1 947.1,725.7 954.6,725.2 961.8,694.3 975.5,755.5 988.3,784.5 994.5,739.6 1000.5,761.2 1012.0,750.5 1022.8,801.7 1033.2,784.6 1043.1,794.4 1047.9,801.8 1052.5,819.4 1061.6,822.5 1070.2,834.7 1090.5,787.9 1108.9,772.7 1125.9,820.9 1131.4,828.6 1141.7,829.1 1156.3,823.9 1170.0,801.6 1182.9,823.2 1195.0,828.7 1206.5,835.0 1217.4,857.4 1237.5,810.4 1255.9,832.9 1272.8,851.9 1288.4,857.2 1303.0,889.2 1316.6,908.4 1329.4,924.3 1341.5,958.1 1352.9,948.0 1363.7,978.8 1383.9,1009.9 1402.2,1015.7 1410.8,1035.9 1419.1,1052.5 1434.8,1075.1 1449.3,1090.0 1463.0,1117.8 1475.8,1122.4 1481.9,1126.7 1487.8,1148.0 1499.2,1165.7 1510.1,1175.0 1520.4,1175.0 1530.2,1175.0 1539.6,1175.0 1548.6,1175.0 1557.2,1175.0 1577.3,1175.0 1595.7,1175.0 1612.6,1175.0 1628.2,1175.0 1642.8,1175.0 1656.4,1175.0 1669.2,1175.0 1681.3,1175.0 1692.7,1175.0 1703.5,1175.0"/>
<polyline points="239.8,655.2 386.9,652.6 407.1,651.1 434.3,648.7 465.8,643.4 473.0,641.5 486.7,635.1 505.7,630.6 511.7,628.5 534.0,630.4 544.4,623.2 554.3,630.4 559.0,618.9 563.7,620.3 572.7,626.3 581.4,625.3 601.6,628.7 620.1,612.9 637.1,593.0 643.5,587.4 652.8,572.8 667.4,576.2 681.1,571.5 694.0,576.8 706.1,539.7 717.6,536.9 728.5,506.8 748.7,486.8 767.2,516.3 784.2,517.1 789.1,485.0 799.9,508.9 814.6,494.0 828.3,486.5 841.2,463.5 853.3,501.9 864.8,465.3 875.7,477.4 895.9,488.7 914.4,519.5 923.1,493.0 931.4,499.7 947.1,487.2 954.6,476.3 961.8,521.2 975.5,509.4 988.3,533.2 994.5,533.4 1000.5,536.8 1012.0,532.1 1022.8,600.6 1033.2,567.3 1043.1,562.7 1047.9,532.0 1052.5,540.7 1061.6,535.3 1070.2,546.2 1090.5,559.2 1108.9,535.9 1125.9,529.5 1131.4,559.3 1141.7,529.2 1156.3,528.5 1170.0,513.0 1182.9,565.3 1195.0,544.9 1206.5,570.8 1217.4,550.7 1237.5,559.8 1255.9,612.3 1272.8,648.4 1288.4,662.3 1303.0,672.7 1316.6,684.9 1329.4,703.0 1341.5,735.8 1352.9,736.4 1363.7,746.8 1383.9,779.5 1402.2,784.0 1410.8,805.2 1419.1,815.0 1434.8,855.2 1449.3,863.0 1463.0,885.7 1475.8,895.6 1481.9,895.2 1487.8,914.5 1499.2,923.4 1510.1,946.5 1520.4,969.0 1530.2,962.4 1539.6,993.7 1548.6,1006.3 1557.2,1031.0 1577.3,1052.6 1595.7,1066.9 1612.6,1094.4 1628.2,1112.0 1642.8,1140.7 1656.4,1152.2 1669.2,1171.9 1681.3,1175.0 1692.7,1175.0 1703.5,1175.0"/>
<polyline points="239.8,769.6 386.9,767.0 407.1,765.5 434.3,763.1 465.8,756.8 473.0,754.1 486.7,753.5 505.7,747.9 511.7,745.3 534.0,742.8 544.4,738.3 554.3,735.2 559.0,730.8 563.7,727.8 572.7,726.2 581.4,738.0 601.6,717.9 620.1,729.5 637.1,694.9 643.5,692.4 652.8,683.0 667.4,671.6 681.1,673.8 694.0,655.6 706.1,634.1 717.6,587.9 728.5,574.4 748.7,596.7 767.2,567.2 784.2,543.0 789.1,530.9 799.9,531.8 814.6,521.9 828.3,534.0 841.2,514.0 853.3,510.4 864.8,524.5 875.7,512.3 895.9,531.5 914.4,557.4 923.1,580.6 931.4,568.6 947.1,601.5 954.6,576.2 961.8,608.0 975.5,625.4 988.3,609.6 994.5,617.5 1000.5,610.6 1012.0,583.3 1022.8,595.7 1033.2,575.1 1043.1,574.0 1047.9,587.4 1052.5,572.8 1061.6,540.3 1070.2,555.5 1090.5,538.3 1108.9,547.5 1125.9,554.4 1131.4,560.5 1141.7,534.9 1156.3,553.1 1170.0,583.1 1182.9,588.4 1195.0,592.4 1206.5,632.2 1217.4,617.1 1237.5,638.2 1255.9,670.9 1272.8,677.8 1288.4,668.7 1303.0,681.6 1316.6,700.6 1329.4,728.2 1341.5,731.9 1352.9,759.3 1363.7,728.1 1383.9,764.1 1402.2,790.3 1410.8,790.6 1419.1,795.3 1434.8,822.3 1449.3,840.9 1463.0,855.9 1475.8,886.1 1481.9,861.3 1487.8,882.4 1499.2,896.2 1510.1,912.6 1520.4,951.7 1530.2,955.1 1539.6,971.3 1548.6,985.8 1557.2,1009.7 1577.3,1021.6 1595.7,1035.8 1612.6,1071.5 1628.2,1097.8 1642.8,1104.7 1656.4,1120.0 1669.2,1139.7 1681.3,1148.8 1692.7,1167.0 1703.5,1175.0"/>
<polyline points="239.8,639.2 386.9,636.5 407.1,635.0 434.3,632.7 465.8,631.6 473.0,630.0 486.7,634.1 505.7,632.4 511.7,631.1 534.0,627.9 544.4,629.1 554.3,626.8 559.0,632.6 563.7,631.0 572.7,623.7 581.4,614.0 601.6,622.4 620.1,612.8 637.1,610.3 643.5,577.8 652.8,593.2 667.4,615.6 681.1,619.0 694.0,601.0 706.1,605.2 717.6,626.4 728.5,611.5 748.7,595.9 767.2,626.8 784.2,624.3 789.1,619.3 799.9,610.2 814.6,585.8 828.3,598.4 841.2,547.4 853.3,541.7 864.8,563.7 875.7,561.7 895.9,544.1 914.4,531.1 923.1,484.1 931.4,556.2 947.1,520.9 954.6,509.8 961.8,572.0 975.5,549.1 988.3,537.0 994.5,547.2 1000.5,598.7 1012.0,579.7 1022.8,613.2 1033.2,612.9 1043.1,586.4 1047.9,620.3 1052.5,637.0 1061.6,652.0 1070.2,646.5 1090.5,727.8 1108.9,699.9 1125.9,725.3 1131.4,723.7 1141.7,736.5 1156.3,751.5 1170.0,787.3 1182.9,794.3 1195.0,788.3 1206.5,794.5 1217.4,829.4 1237.5,825.5 1255.9,827.5 1272.8,855.9 1288.4,866.4 1303.0,840.5 1316.6,880.8 1329.4,878.8 1341.5,917.5 1352.9,898.9 1363.7,922.5 1383.9,947.9 1402.2,960.1 1410.8,949.7 1419.1,984.4 1434.8,982.7 1449.3,1017.3 1463.0,1026.8 1475.8,1048.3 1481.9,1051.7 1487.8,1071.4 1499.2,1085.6 1510.1,1100.5 1520.4,1120.1 1530.2,1149.4 1539.6,1171.2 1548.6,1175.0 1557.2,1175.0 1577.3,1175.0 1595.7,1175.0 1612.6,1175.0 1628.2,1175.0 1642.8,1175.0 1656.4,1175.0 1669.2,1175.0 1681.3,1175.0 1692.7,1175.0 1703.5,1175.0"/>
<polyline points="239.8,710.2 386.9,707.5 407.1,706.0 434.3,703.7 465.8,701.5 473.0,701.3 486.7,699.0 505.7,698.6 511.7,695.4 534.0,691.0 544.4,693.2 554.3,684.1 559.0,685.3 563.7,670.1 572.7,685.2 581.4,689.6 601.6,680.4 620.1,692.1 637.1,656.4 643.5,633.9 652.8,634.6 667.4,657.1 681.1,649.4 694.0,594.7 706.1,609.9 717.6,634.4 728.5,609.4 748.7,577.0 767.2,595.6 784.2,580.1 789.1,605.1 799.9,602.7 814.6,566.3 828.3,553.5 841.2,566.8 853.3,549.0 864.8,535.2 875.7,590.3 895.9,558.3 914.4,572.8 923.1,551.1 931.4,590.3 947.1,572.9 954.6,587.2 961.8,641.1 975.5,597.7 988.3,634.9 994.5,655.8 1000.5,621.7 1012.0,654.9 1022.8,688.3 1033.2,694.3 1043.1,664.0 1047.9,653.7 1052.5,689.6 1061.6,667.4 1070.2,678.6 1090.5,695.6 1108.9,692.7 1125.9,723.6 1131.4,726.2 1141.7,706.9 1156.3,733.4 1170.0,734.4 1182.9,754.9 1195.0,726.2 1206.5,740.9 1217.4,747.1 1237.5,745.0 1255.9,747.4 1272.8,750.8 1288.4,791.1 1303.0,793.4 1316.6,807.8 1329.4,796.9 1341.5,825.9 1352.9,835.4 1363.7,832.1 1383.9,854.7 1402.2,861.8 1410.8,859.0 1419.1,882.0 1434.8,889.8 1449.3,920.2 1463.0,922.9 1475.8,947.3 1481.9,960.0 1487.8,963.4 1499.2,972.2 1510.1,995.7 1520.4,1006.7 1530.2,1033.1 1539.6,1051.3 1548.6,1080.4 1557.2,1091.4 1577.3,1102.3 1595.7,1141.4 1612.6,1163.7 1628.2,1175.0 1642.8,1175.0 1656.4,1175.0 1669.2,1175.0 1681.3,1175.0 1692.7,1175.0 1703.5,1175.0"/>
<polyline points="239.8,764.0 386.9,761.3 407.1,759.8 434.3,757.4 465.8,753.3 473.0,750.3 486.7,749.1 505.7,742.9 511.7,741.7 534.0,738.5 544.4,736.9 554.3,731.7 559.0,735.4 563.7,739.6 572.7,746.2 581.4,733.7 601.6,721.5 620.1,706.5 637.1,723.4 643.5,690.1 652.8,674.1 667.4,703.3 681.1,670.5 694.0,679.0 706.1,662.9 717.6,639.1 728.5,623.9 748.7,635.2 767.2,604.3 784.2,635.9 789.1,635.5 799.9,591.0 814.6,570.2 828.3,615.9 841.2,597.2 853.3,565.5 864.8,576.6 875.7,606.8 895.9,577.8 914.4,561.4 923.1,557.1 931.4,578.1 947.1,557.7 954.6,564.3 961.8,548.5 975.5,554.1 988.3,557.9 994.5,562.3 1000.5,555.8 1012.0,585.8 1022.8,575.2 1033.2,590.8 1043.1,582.3 1047.9,588.4 1052.5,581.9 1061.6,591.5 1070.2,569.0 1090.5,581.0 1108.9,602.3 1125.9,600.3 1131.4,628.3 1141.7,648.9 1156.3,628.0 1170.0,633.1 1182.9,645.6 1195.0,681.8 1206.5,676.8 1217.4,654.5 1237.5,659.9 1255.9,691.5 1272.8,688.3 1288.4,717.4 1303.0,714.9 1316.6,727.0 1329.4,706.6 1341.5,719.7 1352.9,711.5 1363.7,719.4 1383.9,704.3 1402.2,723.0 1410.8,707.9 1419.1,712.1 1434.8,717.8 1449.3,734.6 1463.0,742.3 1475.8,779.8 1481.9,776.4 1487.8,803.0 1499.2,814.8 1510.1,840.4 1520.4,863.9 1530.2,875.2 1539.6,913.7 1548.6,951.4 1557.2,956.8 1577.3,1004.9 1595.7,1032.5 1612.6,1056.4 1628.2,1078.1 1642.8,1076.7 1656.4,1089.1 1669.2,1091.1 1681.3,1105.0 1692.7,1110.8 1703.5,1129.5"/>
<polyline points="239.8,588.8 386.9,586.1 407.1,584.6 434.3,582.3 465.8,578.3 473.0,579.0 486.7,582.9 505.7,581.3 511.7,583.0 534.0,575.8 544.4,577.7 554.3,569.2 559.0,565.4 563.7,570.6 572.7,555.1 581.4,565.2 601.6,522.4 620.1,543.1 637.1,518.4 643.5,505.6 652.8,483.9 667.4,503.5 681.1,480.1 694.0,467.8 706.1,431.8 717.6,449.6 728.5,470.5 748.7,457.6 767.2,442.6 784.2,411.0 789.1,440.6 799.9,421.4 814.6,410.0 828.3,402.4 841.2,434.1 853.3,386.2 864.8,438.1 875.7,419.8 895.9,453.1 914.4,465.1 923.1,456.4 931.4,440.7 947.1,423.7 954.6,471.1 961.8,450.2 975.5,464.1 988.3,482.0 994.5,434.7 1000.5,480.0 1012.0,484.4 1022.8,486.1 1033.2,500.5 1043.1,533.8 1047.9,487.2 1052.5,522.2 1061.6,511.1 1070.2,529.3 1090.5,501.5 1108.9,532.4 1125.9,543.5 1131.4,562.0 1141.7,550.3 1156.3,553.9 1170.0,543.4 1182.9,570.6 1195.0,587.5 1206.5,557.4 1217.4,564.4 1237.5,607.8 1255.9,630.8 1272.8,624.5 1288.4,652.3 1303.0,666.4 1316.6,666.5 1329.4,706.3 1341.5,729.3 1352.9,729.2 1363.7,728.5 1383.9,775.6 1402.2,795.2 1410.8,799.1 1419.1,827.6 1434.8,843.7 1449.3,845.5 1463.0,876.6 1475.8,901.4 1481.9,909.5 1487.8,928.8 1499.2,933.7 1510.1,958.6 1520.4,972.0 1530.2,993.7 1539.6,1018.9 1548.6,1030.6 1557.2,1059.5 1577.3,1075.0 1595.7,1102.2 1612.6,1129.6 1628.2,1152.1 1642.8,1168.1 1656.4,1175.0 1669.2,1175.0 1681.3,1175.0 1692.7,1175.0 1703.5,1175.0"/>
<polyline points="239.8,601.0 386.9,598.4 407.1,596.9 434.3,594.5 465.8,593.8 473.0,593.0 486.7,593.4 505.7,596.6 511.7,599.5 534.0,606.5 544.4,612.0 554.3,607.4 559.0,614.5 563.7,612.3 572.7,608.0 581.4,614.3 601.6,604.3 620.1,627.6 637.1,602.7 643.5,602.7 652.8,615.7 667.4,615.5 681.1,600.5 694.0,581.9 706.1,603.1 717.6,570.6 728.5,587.9 748.7,556.8 767.2,537.2 784.2,525.2 789.1,516.1 799.9,530.1 814.6,516.4 828.3,502.0 841.2,510.3 853.3,500.7 864.8,500.1 875.7,519.5 895.9,488.7 914.4,459.0 923.1,474.6 931.4,487.4 947.1,510.9 954.6,489.8 961.8,492.0 975.5,504.8 988.3,516.6 994.5,524.5 1000.5,509.9 1012.0,539.1 1022.8,509.5 1033.2,539.1 1043.1,520.2 1047.9,553.6 1052.5,549.4 1061.6,558.6 1070.2,544.5 1090.5,562.0 1108.9,579.3 1125.9,580.2 1131.4,560.0 1141.7,605.8 1156.3,601.1 1170.0,609.9 1182.9,612.6 1195.0,625.6 1206.5,617.0 1217.4,644.1 1237.5,681.0 1255.9,670.0 1272.8,692.6 1288.4,711.9 1303.0,724.5 1316.6,744.2 1329.4,738.5 1341.5,770.2 1352.9,755.9 1363.7,799.2 1383.9,784.5 1402.2,801.0 1410.8,809.0 1419.1,801.1 1434.8,820.8 1449.3,826.3 1463.0,876.3 1475.8,900.7 1481.9,902.0 1487.8,928.8 1499.2,937.9 1510.1,972.8 1520.4,995.7 1530.2,1018.2 1539.6,1045.7 1548.6,1061.7 1557.2,1096.7 1577.3,1141.8 1595.7,1175.0 1612.6,1175.0 1628.2,1175.0 1642.8,1175.0 1656.4,1175.0 1669.2,1175.0 1681.3,1175.0 1692.7,1175.0 1703.5,1175.0"/>
<polyline points="239.8,734.8 386.9,732.1 407.1,730.7 434.3,728.3 465.8,723.2 473.0,719.1 486.7,717.8 505.7,708.4 511.7,707.3 534.0,699.3 544.4,700.2 554.3,695.0 559.0,692.2 563.7,691.6 572.7,693.9 581.4,707.7 601.6,688.7 620.1,691.3 637.1,701.1 643.5,700.0 652.8,722.1 667.4,709.2 681.1,692.7 694.0,703.5 706.1,723.6 717.6,713.4 728.5,678.0 748.7,702.8 767.2,664.9 784.2,666.6 789.1,659.7 799.9,640.8 814.6,625.6 828.3,606.3 841.2,604.9 853.3,592.2 864.8,589.9 875.7,601.7 895.9,559.5 914.4,571.4 923.1,597.7 931.4,593.0 947.1,591.8 954.6,604.7 961.8,590.9 975.5,631.3 988.3,598.9 994.5,599.2 1000.5,624.2 1012.0,675.7 1022.8,622.0 1033.2,630.9 1043.1,645.7 1047.9,648.9 1052.5,641.9 1061.6,665.0 1070.2,621.9 1090.5,643.3 1108.9,669.2 1125.9,672.5 1131.4,665.2 1141.7,651.3 1156.3,685.0 1170.0,708.4 1182.9,697.3 1195.0,709.3 1206.5,736.3 1217.4,774.7 1237.5,755.9 1255.9,784.5 1272.8,777.3 1288.4,828.7 1303.0,855.7 1316.6,833.6 1329.4,864.5 1341.5,872.1 1352.9,884.8 1363.7,887.8 1383.9,907.9 1402.2,919.7 1410.8,904.5 1419.1,940.0 1434.8,933.5 1449.3,958.5 1463.0,997.1 1475.8,1001.7 1481.9,1028.1 1487.8,1030.6 1499.2,1049.2 1510.1,1065.1 1520.4,1081.4 1530.2,1112.9 1539.6,1118.7 1548.6,1149.2 1557.2,1169.7 1577.3,1175.0 1595.7,1175.0 1612.6,1175.0 1628.2,1175.0 1642.8,1175.0 1656.4,1175.0 1669.2,1175.0 1681.3,1175.0 1692.7,1175.0 1703.5,1175.0"/>
<polyline points="239.8,774.0 386.9,771.4 407.1,769.9 434.3,767.5 465.8,763.8 473.0,762.9 486.7,762.2 505.7,753.5 511.7,751.3 534.0,744.1 544.4,751.3 554.3,734.2 559.0,738.6 563.7,738.7 572.7,735.5 581.4,727.7 601.6,741.5 620.1,711.4 637.1,671.5 643.5,681.6 652.8,670.4 667.4,664.1 681.1,642.6 694.0,617.6 706.1,630.1 717.6,638.0 728.5,601.9 748.7,575.0 767.2,580.6 784.2,603.0 789.1,575.6 799.9,582.1 814.6,599.7 828.3,605.4 841.2,607.1 853.3,609.5 864.8,600.3 875.7,647.6 895.9,629.4 914.4,605.0 923.1,624.8 931.4,635.1 947.1,583.7 954.6,597.1 961.8,603.0 975.5,621.9 988.3,606.8 994.5,610.6 1000.5,606.9 1012.0,586.8 1022.8,617.2 1033.2,597.6 1043.1,632.3 1047.9,630.5 1052.5,581.0 1061.6,609.7 1070.2,631.8 1090.5,627.6 1108.9,617.3 1125.9,596.8 1131.4,650.7 1141.7,648.4 1156.3,621.8 1170.0,635.0 1182.9,635.6 1195.0,658.4 1206.5,673.0 1217.4,682.5 1237.5,686.4 1255.9,687.8 1272.8,702.7 1288.4,732.0 1303.0,732.7 1316.6,756.7 1329.4,781.5 1341.5,774.6 1352.9,792.8 1363.7,803.0 1383.9,816.2 1402.2,825.8 1410.8,826.5 1419.1,840.0 1434.8,861.2 1449.3,871.5 1463.0,881.8 1475.8,906.6 1481.9,922.8 1487.8,935.6 1499.2,945.9 1510.1,970.4 1520.4,968.5 1530.2,996.3 1539.6,1011.7 1548.6,1039.8 1557.2,1043.4 1577.3,1089.2 1595.7,1114.3 1612.6,1137.6 1628.2,1167.3 1642.8,1175.0 1656.4,1175.0 1669.2,1175.0 1681.3,1175.0 1692.7,1175.0 1703.5,1175.0"/>
<polyline points="239.8,616.0 386.9,613.4 407.1,611.9 434.3,609.5 465.8,606.0 473.0,605.4 486.7,607.0 505.7,609.3 511.7,606.4 534.0,606.2 544.4,611.0 554.3,609.4 559.0,610.1 563.7,605.2 572.7,620.1 581.4,609.1 601.6,620.4 620.1,611.4 637.1,582.4 643.5,614.2 652.8,600.7 667.4,600.9 681.1,601.9 694.0,569.3 706.1,554.8 717.6,580.2 728.5,589.2 748.7,566.0 767.2,578.2 784.2,544.2 789.1,540.4 799.9,555.2 814.6,569.0 828.3,543.0 841.2,576.3 853.3,537.8 864.8,540.7 875.7,496.5 895.9,532.1 914.4,522.1 923.1,544.2 931.4,484.5 947.1,458.8 954.6,526.8 961.8,518.2 975.5,499.6 988.3,520.1 994.5,500.7 1000.5,512.3 1012.0,521.7 1022.8,538.9 1033.2,548.6 1043.1,568.6 1047.9,573.2 1052.5,563.7 1061.6,655.5 1070.2,626.3 1090.5,638.6 1108.9,679.9 1125.9,706.8 1131.4,680.0 1141.7,739.0 1156.3,728.9 1170.0,736.5 1182.9,762.3 1195.0,751.2 1206.5,759.2 1217.4,798.6 1237.5,790.1 1255.9,814.3 1272.8,835.0 1288.4,880.7 1303.0,851.3 1316.6,878.7 1329.4,882.1 1341.5,874.0 1352.9,897.0 1363.7,913.2 1383.9,906.2 1402.2,922.0 1410.8,932.7 1419.1,929.9 1434.8,963.4 1449.3,981.1 1463.0,1008.9 1475.8,1017.2 1481.9,1030.5 1487.8,1045.7 1499.2,1058.5 1510.1,1073.1 1520.4,1103.0 1530.2,1119.3 1539.6,1132.7 1548.6,1153.3 1557.2,1160.2 1577.3,1175.0 1595.7,1175.0 1612.6,1175.0 1628.2,1175.0 1642.8,1175.0 1656.4,1175.0 1669.2,1175.0 1681.3,1175.0 1692.7,1175.0 1703.5,1175.0"/>
<polyline points="239.8,692.2 386.9,689.5 407.1,688.0 434.3,685.7 465.8,678.8 473.0,676.2 486.7,668.4 505.7,662.5 511.7,662.0 534.0,656.6 544.4,641.3 554.3,648.1 559.0,632.2 563.7,644.1 572.7,622.1 581.4,602.8 601.6,590.1 620.1,570.8 637.1,551.5 643.5,535.6 652.8,501.4 667.4,513.7 681.1,480.9 694.0,502.8 706.1,464.5 717.6,445.4 728.5,513.9 748.7,477.3 767.2,476.1 784.2,460.6 789.1,501.4 799.9,474.5 814.6,473.6 828.3,461.7 841.2,479.0 853.3,452.0 864.8,483.7 875.7,446.5 895.9,484.2 914.4,482.3 923.1,472.6 931.4,468.9 947.1,493.5 954.6,493.7 961.8,496.3 975.5,512.6 988.3,527.7 994.5,517.4 1000.5,507.6 1012.0,524.5 1022.8,522.5 1033.2,543.9 1043.1,552.6 1047.9,545.3 1052.5,577.0 1061.6,550.4 1070.2,564.6 1090.5,580.9 1108.9,554.2 1125.9,591.3 1131.4,543.6 1141.7,582.7 1156.3,573.0 1170.0,560.0 1182.9,566.1 1195.0,546.9 1206.5,574.3 1217.4,581.3 1237.5,578.4 1255.9,574.6 1272.8,579.4 1288.4,618.0 1303.0,615.2 1316.6,610.2 1329.4,622.3 1341.5,637.7 1352.9,650.4 1363.7,644.7 1383.9,662.7 1402.2,672.1 1410.8,681.1 1419.1,690.5 1434.8,720.1 1449.3,757.9 1463.0,769.4 1475.8,803.2 1481.9,820.3 1487.8,820.6 1499.2,853.2 1510.1,860.7 1520.4,887.0 1530.2,904.4 1539.6,934.5 1548.6,946.1 1557.2,965.6 1577.3,974.1 1595.7,993.1 1612.6,1006.6 1628.2,1020.0 1642.8,1025.5 1656.4,1045.9 1669.2,1058.6 1681.3,1060.2 1692.7,1074.7 1703.5,1081.3"/>
<polyline points="239.8,562.0 386.9,559.4 407.1,557.9 434.3,555.5 465.8,551.2 473.0,553.8 486.7,552.2 505.7,553.1 511.7,552.7 534.0,550.4 544.4,548.7 554.3,538.3 559.0,536.1 563.7,535.9 572.7,552.2 581.4,555.4 601.6,548.3 620.1,555.9 637.1,541.5 643.5,558.7 652.8,562.5 667.4,544.7 681.1,582.9 694.0,567.6 706.1,577.4 717.6,559.5 728.5,544.2 748.7,527.8 767.2,551.8 784.2,522.8 789.1,528.6 799.9,547.6 814.6,517.6 828.3,547.8 841.2,513.9 853.3,509.1 864.8,508.7 875.7,513.2 895.9,483.4 914.4,508.7 923.1,492.9 931.4,433.0 947.1,539.2 954.6,494.5 961.8,482.7 975.5,461.5 988.3,472.9 994.5,479.4 1000.5,490.8 1012.0,479.5 1022.8,474.7 1033.2,504.1 1043.1,485.2 1047.9,504.1 1052.5,494.6 1061.6,481.2 1070.2,484.1 1090.5,503.7 1108.9,518.8 1125.9,521.2 1131.4,535.8 1141.7,548.1 1156.3,555.7 1170.0,554.5 1182.9,552.1 1195.0,565.4 1206.5,566.0 1217.4,606.1 1237.5,613.2 1255.9,645.4 1272.8,711.3 1288.4,687.4 1303.0,698.3 1316.6,750.8 1329.4,732.6 1341.5,769.7 1352.9,785.8 1363.7,798.0 1383.9,812.9 1402.2,829.3 1410.8,845.7 1419.1,855.0 1434.8,891.8 1449.3,915.4 1463.0,932.8 1475.8,938.6 1481.9,961.8 1487.8,963.2 1499.2,987.6 1510.1,1004.6 1520.4,1023.9 1530.2,1042.3 1539.6,1064.8 1548.6,1094.3 1557.2,1112.6 1577.3,1142.9 1595.7,1175.0 1612.6,1175.0 1628.2,1175.0 1642.8,1175.0 1656.4,1175.0 1669.2,1175.0 1681.3,1175.0 1692.7,1175.0 1703.5,1175.0"/>
<polyline points="239.8,691.9 386.9,689.2 407.1,687.7 434.3,685.4 465.8,680.2 473.0,679.9 486.7,672.9 505.7,669.5 511.7,665.6 534.0,665.4 544.4,656.1 554.3,646.6 559.0,647.4 563.7,646.1 572.7,649.2 581.4,654.0 601.6,640.3 620.1,624.7 637.1,610.9 643.5,606.8 652.8,594.1 667.4,559.7 681.1,574.0 694.0,550.6 706.1,532.8 717.6,491.7 728.5,510.7 748.7,522.6 767.2,528.4 784.2,542.7 789.1,533.8 799.9,565.6 814.6,556.6 828.3,570.5 841.2,600.4 853.3,568.9 864.8,601.8 875.7,621.1 895.9,619.1 914.4,588.2 923.1,627.6 931.4,619.2 947.1,590.5 954.6,604.6 961.8,564.8 975.5,615.1 988.3,609.1 994.5,605.7 1000.5,584.5 1012.0,637.6 1022.8,610.5 1033.2,622.5 1043.1,607.6 1047.9,586.2 1052.5,588.3 1061.6,666.8 1070.2,609.8 1090.5,618.8 1108.9,625.3 1125.9,637.4 1131.4,647.3 1141.7,676.3 1156.3,623.9 1170.0,664.5 1182.9,663.6 1195.0,655.5 1206.5,654.8 1217.4,671.2 1237.5,683.4 1255.9,682.2 1272.8,686.1 1288.4,687.1 1303.0,704.1 1316.6,689.6 1329.4,727.5 1341.5,749.5 1352.9,737.7 1363.7,767.6 1383.9,773.5 1402.2,793.8 1410.8,828.2 1419.1,819.4 1434.8,841.8 1449.3,863.6 1463.0,876.9 1475.8,883.6 1481.9,908.0 1487.8,911.0 1499.2,931.7 1510.1,940.0 1520.4,968.2 1530.2,988.5 1539.6,988.4 1548.6,1011.0 1557.2,1043.1 1577.3,1060.6 1595.7,1099.2 1612.6,1114.9 1628.2,1135.2 1642.8,1152.1 1656.4,1160.4 1669.2,1173.3 1681.3,1175.0 1692.7,1175.0 1703.5,1175.0"/>
<polyline points="239.8,653.0 386.9,650.4 407.1,648.9 434.3,646.5 465.8,646.1 473.0,647.9 486.7,648.5 505.7,658.4 511.7,659.9 534.0,668.0 544.4,673.9 554.3,669.0 559.0,672.0 563.7,674.8 572.7,679.7 581.4,686.5 601.6,675.5 620.1,655.5 637.1,679.5 643.5,670.2 652.8,649.4 667.4,636.0 681.1,631.8 694.0,632.1 706.1,627.3 717.6,634.2 728.5,606.7 748.7,559.6 767.2,561.6 784.2,560.0 789.1,546.7 799.9,546.5 814.6,534.9 828.3,527.0 841.2,478.2 853.3,520.2 864.8,508.8 875.7,537.0 895.9,539.4 914.4,544.9 923.1,546.7 931.4,579.9 947.1,604.3 954.6,630.3 961.8,584.2 975.5,633.4 988.3,650.5 994.5,654.1 1000.5,655.7 1012.0,627.6 1022.8,712.9 1033.2,675.5 1043.1,650.8 1047.9,660.7 1052.5,673.2 1061.6,684.3 1070.2,714.2 1090.5,756.4 1108.9,731.3 1125.9,767.7 1131.4,731.7 1141.7,705.1 1156.3,732.4 1170.0,670.6 1182.9,685.3 1195.0,678.3 1206.5,733.4 1217.4,714.4 1237.5,707.1 1255.9,677.4 1272.8,738.4 1288.4,751.9 1303.0,780.6 1316.6,813.0 1329.4,829.0 1341.5,840.0 1352.9,863.1 1363.7,874.9 1383.9,911.9 1402.2,952.7 1410.8,948.0 1419.1,978.0 1434.8,1002.0 1449.3,1039.9 1463.0,1065.6 1475.8,1086.1 1481.9,1113.0 1487.8,1110.3 1499.2,1150.9 1510.1,1175.0 1520.4,1175.0 1530.2,1175.0 1539.6,1175.0 1548.6,1175.0 1557.2,1175.0 1577.3,1175.0 1595.7,1175.0 1612.6,1175.0 1628.2,1175.0 1642.8,1175.0 1656.4,1175.0 1669.2,1175.0 1681.3,1175.0 1692.7,1175.0 1703.5,1175.0"/>
<polyline points="239.8,737.1 386.9,734.5 407.1,733.0 434.3,730.6 465.8,724.9 473.0,724.3 486.7,718.8 505.7,715.1 511.7,713.5 534.0,715.5 544.4,714.2 554.3,721.0 559.0,709.0 563.7,716.7 572.7,706.2 581.4,716.6 601.6,707.6 620.1,708.1 637.1,733.2 643.5,720.8 652.8,734.9 667.4,740.4 681.1,740.6 694.0,736.6 706.1,731.4 717.6,736.9 728.5,757.7 748.7,735.3 767.2,695.2 784.2,689.6 789.1,655.1 799.9,633.6 814.6,596.0 828.3,568.8 841.2,548.5 853.3,525.8 864.8,521.2 875.7,542.3 895.9,510.8 914.4,552.5 923.1,519.3 931.4,498.6 947.1,515.6 954.6,525.5 961.8,524.0 975.5,527.4 988.3,527.9 994.5,513.7 1000.5,523.4 1012.0,527.9 1022.8,526.9 1033.2,544.0 1043.1,552.7 1047.9,555.3 1052.5,531.7 1061.6,555.5 1070.2,554.7 1090.5,580.6 1108.9,568.9 1125.9,585.3 1131.4,638.2 1141.7,610.2 1156.3,633.1 1170.0,647.3 1182.9,679.4 1195.0,662.4 1206.5,654.0 1217.4,671.5 1237.5,690.3 1255.9,721.2 1272.8,740.0 1288.4,744.8 1303.0,787.1 1316.6,804.4 1329.4,799.1 1341.5,837.6 1352.9,873.9 1363.7,881.2 1383.9,908.8 1402.2,947.5 1410.8,964.0 1419.1,973.9 1434.8,1016.4 1449.3,1050.6 1463.0,1065.9 1475.8,1092.3 1481.9,1112.2 1487.8,1110.3 1499.2,1132.8 1510.1,1149.2 1520.4,1170.8 1530.2,1175.0 1539.6,1175.0 1548.6,1175.0 1557.2,1175.0 1577.3,1175.0 1595.7,1175.0 1612.6,1175.0 1628.2,1175.0 1642.8,1175.0 1656.4,1175.0 1669.2,1175.0 1681.3,1175.0 1692.7,1175.0 1703.5,1175.0"/>
<polyline points="239.8,741.0 386.9,738.4 407.1,736.9 434.3,734.5 465.8,729.8 473.0,726.7 486.7,721.5 505.7,718.1 511.7,718.0 534.0,708.9 544.4,706.6 554.3,705.4 559.0,716.0 563.7,702.3 572.7,707.1 581.4,702.6 601.6,695.8 620.1,698.9 637.1,693.9 643.5,677.2 652.8,687.1 667.4,680.6 681.1,676.9 694.0,661.0 706.1,634.4 717.6,628.3 728.5,607.3 748.7,580.4 767.2,579.1 784.2,577.6 789.1,531.7 799.9,562.4 814.6,585.0 828.3,575.8 841.2,586.6 853.3,598.0 864.8,603.6 875.7,594.6 895.9,602.5 914.4,621.5 923.1,606.8 931.4,623.8 947.1,619.1 954.6,671.2 961.8,621.2 975.5,645.0 988.3,616.2 994.5,656.9 1000.5,590.8 1012.0,620.0 1022.8,680.3 1033.2,655.4 1043.1,675.8 1047.9,686.8 1052.5,634.4 1061.6,659.4 1070.2,666.6 1090.5,720.0 1108.9,732.3 1125.9,747.1 1131.4,725.5 1141.7,750.8 1156.3,746.6 1170.0,755.8 1182.9,786.6 1195.0,805.2 1206.5,820.3 1217.4,842.3 1237.5,847.6 1255.9,849.6 1272.8,857.4 1288.4,892.2 1303.0,884.5 1316.6,913.4 1329.4,908.4 1341.5,914.5 1352.9,946.9 1363.7,957.5 1383.9,969.2 1402.2,1002.0 1410.8,984.5 1419.1,1002.9 1434.8,1028.9 1449.3,1056.6 1463.0,1067.0 1475.8,1069.3 1481.9,1097.0 1487.8,1102.5 1499.2,1114.4 1510.1,1126.2 1520.4,1132.1 1530.2,1159.7 1539.6,1175.0 1548.6,1175.0 1557.2,1175.0 1577.3,1175.0 1595.7,1175.0 1612.6,1175.0 1628.2,1175.0 1642.8,1175.0 1656.4,1175.0 1669.2,1175.0 1681.3,1175.0 1692.7,1175.0 1703.5,1175.0"/>
<polyline points="239.8,732.0 386.9,729.4 407.1,727.9 434.3,725.5 465.8,718.8 473.0,715.5 486.7,704.0 505.7,688.8 511.7,687.8 534.0,675.4 544.4,666.5 554.3,658.4 559.0,655.4 563.7,656.2 572.7,645.7 581.4,646.0 601.6,641.9 620.1,643.7 637.1,613.9 643.5,597.3 652.8,611.0 667.4,617.0 681.1,598.5 694.0,588.8 706.1,581.5 717.6,573.7 728.5,562.2 748.7,545.7 767.2,547.2 784.2,545.1 789.1,579.5 799.9,549.1 814.6,507.9 828.3,551.6 841.2,547.6 853.3,519.7 864.8,539.1 875.7,530.4 895.9,516.3 914.4,544.1 923.1,549.3 931.4,535.9 947.1,527.3 954.6,543.4 961.8,550.1 975.5,559.8 988.3,536.7 994.5,579.3 1000.5,597.9 1012.0,602.8 1022.8,594.7 1033.2,614.2 1043.1,596.8 1047.9,620.9 1052.5,603.7 1061.6,601.0 1070.2,632.1 1090.5,613.0 1108.9,616.4 1125.9,625.4 1131.4,633.6 1141.7,616.3 1156.3,631.8 1170.0,651.0 1182.9,615.2 1195.0,616.9 1206.5,604.6 1217.4,646.5 1237.5,615.1 1255.9,622.2 1272.8,594.0 1288.4,615.5 1303.0,618.8 1316.6,627.9 1329.4,639.4 1341.5,640.7 1352.9,644.0 1363.7,635.0 1383.9,651.5 1402.2,653.6 1410.8,671.5 1419.1,700.5 1434.8,727.3 1449.3,745.4 1463.0,763.4 1475.8,797.5 1481.9,798.8 1487.8,809.9 1499.2,839.1 1510.1,848.8 1520.4,870.0 1530.2,883.3 1539.6,903.8 1548.6,925.7 1557.2,950.9 1577.3,957.5 1595.7,965.0 1612.6,991.3 1628.2,999.9 1642.8,999.3 1656.4,1025.7 1669.2,1015.7 1681.3,1042.8 1692.7,1036.0 1703.5,1060.1"/>
<polyline points="239.8,787.6 386.9,785.0 407.1,783.5 434.3,781.1 465.8,778.4 473.0,778.0 486.7,774.1 505.7,773.5 511.7,779.5 534.0,781.6 544.4,780.7 554.3,790.5 559.0,778.7 563.7,787.0 572.7,795.6 581.4,782.9 601.6,776.0 620.1,753.1 637.1,760.4 643.5,763.2 652.8,743.8 667.4,696.8 681.1,706.4 694.0,726.1 706.1,678.6 717.6,676.4 728.5,701.4 748.7,679.3 767.2,663.5 784.2,668.1 789.1,664.0 799.9,691.4 814.6,675.5 828.3,677.3 841.2,671.2 853.3,659.9 864.8,693.5 875.7,677.8 895.9,690.3 914.4,693.4 923.1,706.7 931.4,672.4 947.1,686.7 954.6,712.2 961.8,694.4 975.5,680.1 988.3,682.0 994.5,706.7 1000.5,678.5 1012.0,685.1 1022.8,706.7 1033.2,727.7 1043.1,738.3 1047.9,716.8 1052.5,702.8 1061.6,775.2 1070.2,762.5 1090.5,827.5 1108.9,838.7 1125.9,858.6 1131.4,832.6 1141.7,850.6 1156.3,844.9 1170.0,861.4 1182.9,875.0 1195.0,846.5 1206.5,858.6 1217.4,860.9 1237.5,834.8 1255.9,864.9 1272.8,869.5 1288.4,841.9 1303.0,896.4 1316.6,899.7 1329.4,913.1 1341.5,927.2 1352.9,938.3 1363.7,960.1 1383.9,967.3 1402.2,972.2 1410.8,990.8 1419.1,997.5 1434.8,1018.8 1449.3,1036.6 1463.0,1053.9 1475.8,1082.2 1481.9,1077.0 1487.8,1089.5 1499.2,1110.5 1510.1,1123.5 1520.4,1132.3 1530.2,1154.5 1539.6,1175.0 1548.6,1175.0 1557.2,1175.0 1577.3,1175.0 1595.7,1175.0 1612.6,1175.0 1628.2,1175.0 1642.8,1175.0 1656.4,1175.0 1669.2,1175.0 1681.3,1175.0 1692.7,1175.0 1703.5,1175.0"/>
<polyline points="239.8,648.0 386.9,645.4 407.1,643.9 434.3,641.5 465.8,638.8 473.0,638.0 486.7,643.4 505.7,645.0 511.7,647.4 534.0,650.7 544.4,648.0 554.3,649.7 559.0,649.9 563.7,650.1 572.7,661.7 581.4,647.5 601.6,651.6 620.1,678.3 637.1,642.4 643.5,638.6 652.8,663.8 667.4,612.9 681.1,588.9 694.0,595.9 706.1,592.5 717.6,567.5 728.5,575.8 748.7,525.3 767.2,536.3 784.2,487.2 789.1,527.8 799.9,461.7 814.6,475.1 828.3,480.3 841.2,484.9 853.3,463.4 864.8,452.8 875.7,467.7 895.9,419.5 914.4,449.7 923.1,453.3 931.4,445.2 947.1,471.7 954.6,466.1 961.8,465.3 975.5,502.9 988.3,493.7 994.5,503.2 1000.5,498.7 1012.0,509.9 1022.8,528.4 1033.2,538.7 1043.1,561.3 1047.9,553.9 1052.5,588.3 1061.6,550.9 1070.2,549.9 1090.5,603.5 1108.9,583.3 1125.9,605.8 1131.4,559.5 1141.7,596.7 1156.3,582.8 1170.0,594.4 1182.9,579.2 1195.0,589.2 1206.5,603.8 1217.4,602.8 1237.5,632.2 1255.9,625.2 1272.8,672.1 1288.4,690.7 1303.0,675.8 1316.6,721.9 1329.4,746.6 1341.5,745.8 1352.9,761.2 1363.7,760.0 1383.9,794.4 1402.2,811.6 1410.8,820.8 1419.1,840.1 1434.8,857.9 1449.3,889.4 1463.0,895.3 1475.8,918.1 1481.9,928.0 1487.8,935.8 1499.2,971.1 1510.1,979.0 1520.4,1002.4 1530.2,1012.7 1539.6,1022.8 1548.6,1049.3 1557.2,1053.9 1577.3,1098.8 1595.7,1102.2 1612.6,1137.6 1628.2,1162.9 1642.8,1175.0 1656.4,1175.0 1669.2,1175.0 1681.3,1175.0 1692.7,1175.0 1703.5,1175.0"/>
<polyline points="239.8,787.6 386.9,785.0 407.1,783.5 434.3,781.1 465.8,779.9 473.0,779.9 486.7,786.6 505.7,790.2 511.7,792.5 534.0,797.2 544.4,788.3 554.3,794.7 559.0,782.5 563.7,791.5 572.7,793.1 581.4,785.7 601.6,772.8 620.1,766.9 637.1,764.7 643.5,756.5 652.8,750.2 667.4,726.1 681.1,724.4 694.0,757.6 706.1,690.0 717.6,729.8 728.5,722.2 748.7,709.6 767.2,720.8 784.2,696.4 789.1,707.4 799.9,717.7 814.6,699.6 828.3,703.5 841.2,705.1 853.3,694.9 864.8,668.0 875.7,673.3 895.9,696.4 914.4,678.3 923.1,690.3 931.4,691.8 947.1,657.1 954.6,662.3 961.8,676.2 975.5,763.5 988.3,704.5 994.5,738.5 1000.5,705.9 1012.0,769.5 1022.8,731.9 1033.2,749.6 1043.1,785.5 1047.9,802.6 1052.5,790.2 1061.6,803.1 1070.2,823.1 1090.5,793.9 1108.9,833.9 1125.9,849.5 1131.4,829.9 1141.7,824.8 1156.3,845.0 1170.0,852.4 1182.9,846.5 1195.0,853.0 1206.5,859.6 1217.4,872.3 1237.5,870.6 1255.9,906.2 1272.8,943.9 1288.4,959.8 1303.0,950.0 1316.6,987.2 1329.4,993.6 1341.5,1019.7 1352.9,1013.9 1363.7,1034.7 1383.9,1034.3 1402.2,1047.7 1410.8,1077.2 1419.1,1084.9 1434.8,1070.6 1449.3,1103.8 1463.0,1110.7 1475.8,1132.7 1481.9,1132.7 1487.8,1133.3 1499.2,1141.9 1510.1,1163.4 1520.4,1175.0 1530.2,1175.0 1539.6,1175.0 1548.6,1175.0 1557.2,1175.0 1577.3,1175.0 1595.7,1175.0 1612.6,1175.0 1628.2,1175.0 1642.8,1175.0 1656.4,1175.0 1669.2,1175.0 1681.3,1175.0 1692.7,1175.0 1703.5,1175.0"/>
<polyline points="239.8,732.0 386.9,729.4 407.1,727.9 434.3,725.5 465.8,721.9 473.0,721.7 486.7,718.5 505.7,713.9 511.7,713.0 534.0,707.6 544.4,699.1 554.3,695.5 559.0,706.4 563.7,700.1 572.7,693.5 581.4,682.3 601.6,682.6 620.1,668.4 637.1,639.6 643.5,671.1 652.8,631.4 667.4,605.8 681.1,584.7 694.0,570.4 706.1,544.5 717.6,533.2 728.5,507.9 748.7,501.3 767.2,526.3 784.2,517.3 789.1,525.0 799.9,506.5 814.6,527.9 828.3,523.7 841.2,507.4 853.3,521.8 864.8,535.2 875.7,526.5 895.9,514.7 914.4,501.3 923.1,506.9 931.4,494.9 947.1,507.7 954.6,518.6 961.8,490.9 975.5,535.8 988.3,558.4 994.5,535.0 1000.5,574.0 1012.0,544.9 1022.8,540.9 1033.2,577.6 1043.1,570.1 1047.9,582.7 1052.5,610.6 1061.6,587.2 1070.2,614.2 1090.5,636.0 1108.9,631.3 1125.9,650.2 1131.4,652.6 1141.7,675.2 1156.3,710.9 1170.0,691.3 1182.9,679.8 1195.0,688.2 1206.5,674.3 1217.4,671.1 1237.5,668.0 1255.9,662.6 1272.8,668.2 1288.4,663.8 1303.0,671.6 1316.6,664.1 1329.4,676.6 1341.5,675.1 1352.9,699.3 1363.7,709.7 1383.9,718.7 1402.2,720.5 1410.8,741.1 1419.1,749.1 1434.8,758.1 1449.3,787.5 1463.0,783.9 1475.8,817.0 1481.9,832.1 1487.8,830.5 1499.2,847.2 1510.1,856.8 1520.4,883.3 1530.2,897.9 1539.6,913.9 1548.6,938.2 1557.2,948.9 1577.3,976.5 1595.7,979.4 1612.6,1019.1 1628.2,1049.9 1642.8,1055.0 1656.4,1093.0 1669.2,1108.5 1681.3,1123.1 1692.7,1135.0 1703.5,1157.3"/>
<polyline points="239.8,664.0 386.9,661.4 407.1,659.9 434.3,657.5 465.8,654.3 473.0,654.6 486.7,652.8 505.7,656.2 511.7,655.3 534.0,658.6 544.4,657.7 554.3,668.0 559.0,656.4 563.7,656.4 572.7,664.3 581.4,662.1 601.6,659.7 620.1,652.5 637.1,663.5 643.5,669.3 652.8,657.9 667.4,632.5 681.1,634.1 694.0,622.0 706.1,599.4 717.6,585.7 728.5,571.9 748.7,504.6 767.2,510.5 784.2,473.7 789.1,487.2 799.9,441.0 814.6,426.2 828.3,482.3 841.2,467.4 853.3,430.8 864.8,440.5 875.7,424.4 895.9,467.3 914.4,460.7 923.1,433.2 931.4,425.0 947.1,441.5 954.6,461.0 961.8,432.2 975.5,477.3 988.3,485.6 994.5,504.0 1000.5,476.9 1012.0,503.3 1022.8,523.6 1033.2,532.6 1043.1,542.1 1047.9,552.3 1052.5,566.7 1061.6,550.3 1070.2,533.6 1090.5,587.5 1108.9,609.7 1125.9,619.0 1131.4,624.5 1141.7,647.5 1156.3,668.7 1170.0,652.7 1182.9,656.0 1195.0,704.1 1206.5,680.8 1217.4,717.7 1237.5,706.7 1255.9,724.0 1272.8,711.8 1288.4,703.9 1303.0,711.1 1316.6,722.2 1329.4,715.0 1341.5,715.0 1352.9,729.6 1363.7,725.6 1383.9,711.1 1402.2,719.3 1410.8,741.2 1419.1,750.0 1434.8,753.5 1449.3,772.3 1463.0,790.9 1475.8,815.0 1481.9,825.9 1487.8,822.3 1499.2,835.7 1510.1,848.1 1520.4,868.0 1530.2,890.1 1539.6,908.5 1548.6,918.2 1557.2,944.6 1577.3,958.6 1595.7,1010.1 1612.6,1038.3 1628.2,1050.3 1642.8,1076.2 1656.4,1095.4 1669.2,1121.1 1681.3,1136.4 1692.7,1149.7 1703.5,1157.7"/>
<polyline points="239.8,727.0 386.9,724.4 407.1,722.9 434.3,720.5 465.8,719.5 473.0,718.8 486.7,719.9 505.7,724.6 511.7,723.9 534.0,721.5 544.4,717.2 554.3,720.8 559.0,709.0 563.7,715.7 572.7,714.9 581.4,692.2 601.6,704.5 620.1,670.7 637.1,653.3 643.5,632.9 652.8,634.6 667.4,621.3 681.1,600.7 694.0,636.4 706.1,568.0 717.6,595.5 728.5,596.8 748.7,626.6 767.2,631.0 784.2,596.9 789.1,610.6 799.9,615.8 814.6,586.1 828.3,578.7 841.2,559.7 853.3,601.5 864.8,583.6 875.7,567.3 895.9,539.3 914.4,588.2 923.1,592.3 931.4,584.8 947.1,574.9 954.6,578.8 961.8,635.0 975.5,606.7 988.3,585.6 994.5,634.6 1000.5,611.0 1012.0,621.0 1022.8,616.4 1033.2,619.0 1043.1,597.3 1047.9,649.5 1052.5,610.4 1061.6,641.0 1070.2,604.8 1090.5,649.1 1108.9,657.2 1125.9,640.1 1131.4,689.4 1141.7,673.5 1156.3,699.4 1170.0,743.3 1182.9,733.4 1195.0,785.2 1206.5,779.6 1217.4,789.5 1237.5,796.6 1255.9,826.9 1272.8,817.3 1288.4,823.3 1303.0,834.6 1316.6,835.9 1329.4,859.8 1341.5,854.4 1352.9,876.3 1363.7,881.5 1383.9,882.8 1402.2,899.3 1410.8,923.2 1419.1,933.7 1434.8,976.5 1449.3,1000.2 1463.0,1034.4 1475.8,1051.1 1481.9,1063.8 1487.8,1074.3 1499.2,1095.9 1510.1,1123.0 1520.4,1132.2 1530.2,1164.2 1539.6,1175.0 1548.6,1175.0 1557.2,1175.0 1577.3,1175.0 1595.7,1175.0 1612.6,1175.0 1628.2,1175.0 1642.8,1175.0 1656.4,1175.0 1669.2,1175.0 1681.3,1175.0 1692.7,1175.0 1703.5,1175.0"/>
<polyline points="239.8,668.0 386.9,665.4 407.1,663.9 434.3,661.5 465.8,661.7 473.0,664.0 486.7,670.9 505.7,678.8 511.7,679.9 534.0,688.3 544.4,697.2 554.3,697.4 559.0,701.4 563.7,700.6 572.7,693.9 581.4,699.4 601.6,681.4 620.1,705.3 637.1,685.9 643.5,662.4 652.8,686.8 667.4,675.6 681.1,718.7 694.0,641.2 706.1,665.1 717.6,643.9 728.5,638.8 748.7,580.5 767.2,551.2 784.2,561.8 789.1,569.6 799.9,556.5 814.6,549.2 828.3,518.3 841.2,525.6 853.3,523.4 864.8,545.7 875.7,546.6 895.9,544.5 914.4,541.3 923.1,561.0 931.4,563.3 947.1,580.1 954.6,591.7 961.8,616.8 975.5,607.1 988.3,630.8 994.5,638.7 1000.5,636.6 1012.0,577.2 1022.8,609.5 1033.2,630.6 1043.1,625.5 1047.9,629.7 1052.5,626.3 1061.6,605.0 1070.2,581.5 1090.5,614.4 1108.9,596.6 1125.9,605.1 1131.4,616.5 1141.7,617.4 1156.3,650.1 1170.0,684.6 1182.9,674.0 1195.0,736.1 1206.5,758.7 1217.4,786.5 1237.5,808.6 1255.9,831.0 1272.8,854.2 1288.4,866.6 1303.0,928.7 1316.6,889.6 1329.4,905.1 1341.5,918.2 1352.9,917.6 1363.7,925.6 1383.9,922.0 1402.2,953.3 1410.8,959.4 1419.1,978.8 1434.8,1000.5 1449.3,1015.6 1463.0,1043.4 1475.8,1067.7 1481.9,1089.4 1487.8,1093.4 1499.2,1112.9 1510.1,1148.6 1520.4,1175.0 1530.2,1175.0 1539.6,1175.0 1548.6,1175.0 1557.2,1175.0 1577.3,1175.0 1595.7,1175.0 1612.6,1175.0 1628.2,1175.0 1642.8,1175.0 1656.4,1175.0 1669.2,1175.0 1681.3,1175.0 1692.7,1175.0 1703.5,1175.0"/>
<polyline points="239.8,611.0 386.9,608.4 407.1,606.9 434.3,604.5 465.8,600.7 473.0,602.5 486.7,601.9 505.7,595.8 511.7,598.5 534.0,587.4 544.4,588.6 554.3,575.3 559.0,583.5 563.7,572.9 572.7,567.0 581.4,574.4 601.6,570.2 620.1,563.9 637.1,562.4 643.5,582.4 652.8,567.7 667.4,560.6 681.1,568.2 694.0,548.1 706.1,548.8 717.6,544.2 728.5,559.9 748.7,529.3 767.2,533.9 784.2,518.6 789.1,547.1 799.9,540.1 814.6,534.1 828.3,541.6 841.2,541.1 853.3,543.6 864.8,561.7 875.7,543.9 895.9,561.6 914.4,571.4 923.1,565.3 931.4,591.0 947.1,571.5 954.6,600.0 961.8,578.0 975.5,618.1 988.3,657.2 994.5,646.3 1000.5,657.5 1012.0,681.5 1022.8,690.8 1033.2,662.5 1043.1,656.0 1047.9,611.3 1052.5,639.8 1061.6,611.3 1070.2,621.1 1090.5,581.8 1108.9,608.9 1125.9,578.2 1131.4,607.9 1141.7,592.8 1156.3,584.4 1170.0,570.1 1182.9,614.2 1195.0,651.1 1206.5,656.6 1217.4,706.9 1237.5,725.6 1255.9,746.7 1272.8,766.9 1288.4,820.9 1303.0,808.7 1316.6,846.8 1329.4,843.2 1341.5,883.4 1352.9,884.2 1363.7,897.0 1383.9,929.3 1402.2,966.3 1410.8,958.4 1419.1,972.3 1434.8,1005.6 1449.3,1027.6 1463.0,1051.7 1475.8,1041.6 1481.9,1041.7 1487.8,1046.6 1499.2,1066.1 1510.1,1072.6 1520.4,1100.1 1530.2,1101.2 1539.6,1118.7 1548.6,1147.7 1557.2,1157.9 1577.3,1169.7 1595.7,1175.0 1612.6,1175.0 1628.2,1175.0 1642.8,1175.0 1656.4,1175.0 1669.2,1175.0 1681.3,1175.0 1692.7,1175.0 1703.5,1175.0"/>
<polyline points="239.8,578.0 386.9,575.4 407.1,573.9 434.3,571.5 465.8,567.8 473.0,565.5 486.7,562.2 505.7,555.9 511.7,554.0 534.0,548.6 544.4,533.9 554.3,523.0 559.0,522.6 563.7,515.5 572.7,516.5 581.4,500.1 601.6,487.9 620.1,444.6 637.1,452.9 643.5,437.8 652.8,436.5 667.4,422.8 681.1,410.6 694.0,390.0 706.1,383.9 717.6,377.8 728.5,368.1 748.7,343.4 767.2,372.4 784.2,370.5 789.1,349.7 799.9,336.0 814.6,355.0 828.3,359.8 841.2,343.4 853.3,378.8 864.8,371.6 875.7,351.7 895.9,365.9 914.4,370.9 923.1,370.4 931.4,382.7 947.1,408.8 954.6,415.4 961.8,418.0 975.5,416.5 988.3,432.7 994.5,422.5 1000.5,443.7 1012.0,450.0 1022.8,469.3 1033.2,499.7 1043.1,470.5 1047.9,506.7 1052.5,502.8 1061.6,515.1 1070.2,503.4 1090.5,499.0 1108.9,520.4 1125.9,494.3 1131.4,516.6 1141.7,495.6 1156.3,489.9 1170.0,491.4 1182.9,471.9 1195.0,497.1 1206.5,496.1 1217.4,485.3 1237.5,509.1 1255.9,548.6 1272.8,544.8 1288.4,560.8 1303.0,579.1 1316.6,586.4 1329.4,595.8 1341.5,617.1 1352.9,638.6 1363.7,652.7 1383.9,636.2 1402.2,648.8 1410.8,668.1 1419.1,668.1 1434.8,686.9 1449.3,691.2 1463.0,703.2 1475.8,708.1 1481.9,719.8 1487.8,726.6 1499.2,741.8 1510.1,745.4 1520.4,771.1 1530.2,782.9 1539.6,817.2 1548.6,835.3 1557.2,854.9 1577.3,895.4 1595.7,921.3 1612.6,947.6 1628.2,976.7 1642.8,989.7 1656.4,1010.0 1669.2,1016.6 1681.3,1040.0 1692.7,1047.8 1703.5,1063.4"/>
<polyline points="239.8,691.9 386.9,689.2 407.1,687.7 434.3,685.4 465.8,681.8 473.0,680.2 486.7,680.0 505.7,680.1 511.7,680.3 534.0,675.7 544.4,668.9 554.3,667.5 559.0,672.5 563.7,672.4 572.7,665.1 581.4,666.2 601.6,644.0 620.1,649.0 637.1,619.9 643.5,616.3 652.8,612.4 667.4,600.6 681.1,575.3 694.0,586.1 706.1,583.9 717.6,598.5 728.5,588.1 748.7,601.7 767.2,583.6 784.2,593.8 789.1,585.8 799.9,574.8 814.6,578.4 828.3,598.6 841.2,593.8 853.3,586.8 864.8,572.5 875.7,585.5 895.9,615.1 914.4,603.2 923.1,590.1 931.4,597.3 947.1,593.2 954.6,637.2 961.8,589.0 975.5,628.8 988.3,619.3 994.5,627.3 1000.5,594.1 1012.0,652.9 1022.8,647.9 1033.2,621.3 1043.1,625.2 1047.9,617.8 1052.5,631.4 1061.6,631.5 1070.2,667.7 1090.5,650.0 1108.9,668.9 1125.9,652.9 1131.4,693.3 1141.7,686.0 1156.3,687.9 1170.0,729.1 1182.9,721.4 1195.0,717.6 1206.5,702.0 1217.4,720.1 1237.5,763.3 1255.9,792.0 1272.8,766.6 1288.4,807.8 1303.0,831.5 1316.6,827.1 1329.4,861.4 1341.5,883.4 1352.9,902.1 1363.7,893.7 1383.9,915.7 1402.2,942.6 1410.8,948.1 1419.1,966.0 1434.8,990.1 1449.3,1035.1 1463.0,1059.7 1475.8,1087.4 1481.9,1096.6 1487.8,1108.4 1499.2,1139.5 1510.1,1152.0 1520.4,1175.0 1530.2,1175.0 1539.6,1175.0 1548.6,1175.0 1557.2,1175.0 1577.3,1175.0 1595.7,1175.0 1612.6,1175.0 1628.2,1175.0 1642.8,1175.0 1656.4,1175.0 1669.2,1175.0 1681.3,1175.0 1692.7,1175.0 1703.5,1175.0"/>
<polyline points="239.8,562.0 386.9,559.4 407.1,557.9 434.3,555.5 465.8,553.8 473.0,553.8 486.7,552.1 505.7,551.8 511.7,553.6 534.0,560.2 544.4,571.3 554.3,566.6 559.0,572.7 563.7,571.1 572.7,574.4 581.4,582.9 601.6,591.2 620.1,597.5 637.1,629.6 643.5,611.3 652.8,601.0 667.4,570.2 681.1,571.3 694.0,546.4 706.1,510.0 717.6,487.5 728.5,490.8 748.7,454.3 767.2,439.0 784.2,395.9 789.1,381.0 799.9,369.5 814.6,367.6 828.3,432.3 841.2,431.8 853.3,428.9 864.8,422.7 875.7,436.0 895.9,462.0 914.4,493.0 923.1,504.8 931.4,482.4 947.1,509.5 954.6,507.3 961.8,515.8 975.5,502.4 988.3,498.3 994.5,525.6 1000.5,506.9 1012.0,521.5 1022.8,496.4 1033.2,493.8 1043.1,494.1 1047.9,500.8 1052.5,475.8 1061.6,486.3 1070.2,498.6 1090.5,489.1 1108.9,546.1 1125.9,535.1 1131.4,551.5 1141.7,552.7 1156.3,580.6 1170.0,621.8 1182.9,675.5 1195.0,664.2 1206.5,676.4 1217.4,669.5 1237.5,696.4 1255.9,706.7 1272.8,729.0 1288.4,723.5 1303.0,744.0 1316.6,762.0 1329.4,794.8 1341.5,785.4 1352.9,806.5 1363.7,814.4 1383.9,823.8 1402.2,840.0 1410.8,865.3 1419.1,875.3 1434.8,901.5 1449.3,925.3 1463.0,925.2 1475.8,957.5 1481.9,960.9 1487.8,969.7 1499.2,996.3 1510.1,1007.9 1520.4,1033.0 1530.2,1036.6 1539.6,1065.2 1548.6,1090.5 1557.2,1124.3 1577.3,1161.2 1595.7,1175.0 1612.6,1175.0 1628.2,1175.0 1642.8,1175.0 1656.4,1175.0 1669.2,1175.0 1681.3,1175.0 1692.7,1175.0 1703.5,1175.0"/>
<polyline points="239.8,773.3 386.9,770.6 407.1,769.1 434.3,766.8 465.8,761.0 473.0,756.2 486.7,749.3 505.7,738.8 511.7,730.0 534.0,714.8 544.4,707.9 554.3,703.8 559.0,708.7 563.7,719.3 572.7,703.8 581.4,703.8 601.6,693.7 620.1,707.3 637.1,701.9 643.5,697.4 652.8,742.9 667.4,708.5 681.1,728.1 694.0,735.7 706.1,685.7 717.6,676.0 728.5,665.7 748.7,602.1 767.2,607.1 784.2,569.4 789.1,541.9 799.9,523.7 814.6,483.9 828.3,455.4 841.2,520.9 853.3,505.7 864.8,536.3 875.7,534.2 895.9,559.1 914.4,574.4 923.1,580.9 931.4,591.6 947.1,607.6 954.6,587.0 961.8,632.0 975.5,619.7 988.3,629.5 994.5,607.7 1000.5,617.6 1012.0,619.6 1022.8,614.3 1033.2,644.0 1043.1,646.7 1047.9,660.6 1052.5,645.3 1061.6,641.0 1070.2,645.0 1090.5,659.4 1108.9,622.8 1125.9,653.7 1131.4,641.9 1141.7,683.7 1156.3,675.8 1170.0,685.9 1182.9,698.6 1195.0,716.7 1206.5,725.3 1217.4,750.3 1237.5,730.8 1255.9,753.0 1272.8,777.5 1288.4,787.3 1303.0,790.9 1316.6,808.9 1329.4,810.4 1341.5,827.8 1352.9,843.7 1363.7,862.1 1383.9,854.3 1402.2,879.5 1410.8,881.2 1419.1,881.6 1434.8,892.1 1449.3,908.9 1463.0,932.3 1475.8,929.1 1481.9,935.9 1487.8,953.4 1499.2,958.7 1510.1,969.3 1520.4,985.6 1530.2,995.8 1539.6,1006.8 1548.6,1027.7 1557.2,1029.1 1577.3,1078.0 1595.7,1111.1 1612.6,1133.8 1628.2,1166.8 1642.8,1175.0 1656.4,1175.0 1669.2,1175.0 1681.3,1175.0 1692.7,1175.0 1703.5,1175.0"/>
<polyline points="239.8,622.0 386.9,619.4 407.1,617.9 434.3,615.5 465.8,612.0 473.0,612.5 486.7,609.8 505.7,608.8 511.7,606.8 534.0,605.0 544.4,603.0 554.3,604.3 559.0,605.8 563.7,604.1 572.7,602.2 581.4,597.6 601.6,601.4 620.1,618.7 637.1,609.1 643.5,616.1 652.8,600.7 667.4,623.4 681.1,616.7 694.0,590.2 706.1,566.9 717.6,598.2 728.5,602.8 748.7,564.8 767.2,519.4 784.2,538.2 789.1,512.5 799.9,507.1 814.6,532.3 828.3,486.7 841.2,493.6 853.3,517.1 864.8,487.4 875.7,499.2 895.9,508.5 914.4,476.0 923.1,508.8 931.4,490.7 947.1,524.9 954.6,506.8 961.8,497.8 975.5,530.0 988.3,514.6 994.5,521.2 1000.5,533.4 1012.0,514.4 1022.8,563.2 1033.2,576.1 1043.1,568.0 1047.9,599.0 1052.5,598.3 1061.6,529.6 1070.2,618.9 1090.5,581.6 1108.9,645.3 1125.9,645.5 1131.4,658.7 1141.7,648.4 1156.3,660.2 1170.0,650.4 1182.9,641.8 1195.0,641.1 1206.5,602.3 1217.4,641.6 1237.5,646.2 1255.9,658.9 1272.8,653.2 1288.4,673.7 1303.0,691.2 1316.6,677.7 1329.4,709.1 1341.5,738.3 1352.9,737.8 1363.7,731.4 1383.9,747.2 1402.2,784.2 1410.8,784.0 1419.1,823.5 1434.8,824.7 1449.3,853.5 1463.0,870.9 1475.8,880.4 1481.9,891.7 1487.8,893.1 1499.2,923.6 1510.1,930.3 1520.4,963.0 1530.2,969.6 1539.6,989.7 1548.6,1016.9 1557.2,1032.3 1577.3,1070.9 1595.7,1111.7 1612.6,1144.4 1628.2,1174.9 1642.8,1175.0 1656.4,1175.0 1669.2,1175.0 1681.3,1175.0 1692.7,1175.0 1703.5,1175.0"/>
<polyline points="239.8,660.0 386.9,657.4 407.1,655.9 434.3,653.5 465.8,650.0 473.0,648.3 486.7,648.0 505.7,641.6 511.7,639.7 534.0,636.2 544.4,634.5 554.3,635.4 559.0,640.2 563.7,633.1 572.7,633.3 581.4,629.7 601.6,623.0 620.1,628.6 637.1,638.0 643.5,646.2 652.8,627.6 667.4,641.7 681.1,627.1 694.0,623.7 706.1,609.0 717.6,622.4 728.5,606.6 748.7,635.3 767.2,586.4 784.2,607.7 789.1,620.2 799.9,581.0 814.6,602.9 828.3,601.0 841.2,610.2 853.3,581.4 864.8,573.4 875.7,593.0 895.9,584.0 914.4,602.0 923.1,553.5 931.4,570.5 947.1,553.1 954.6,574.2 961.8,550.8 975.5,554.8 988.3,569.5 994.5,575.1 1000.5,592.8 1012.0,610.4 1022.8,586.4 1033.2,591.2 1043.1,615.4 1047.9,644.3 1052.5,657.5 1061.6,636.0 1070.2,622.7 1090.5,654.7 1108.9,673.3 1125.9,638.0 1131.4,655.1 1141.7,649.7 1156.3,681.6 1170.0,703.8 1182.9,700.2 1195.0,670.2 1206.5,688.1 1217.4,666.8 1237.5,702.4 1255.9,690.3 1272.8,711.2 1288.4,715.2 1303.0,742.8 1316.6,742.8 1329.4,766.0 1341.5,778.9 1352.9,784.8 1363.7,770.8 1383.9,811.2 1402.2,824.9 1410.8,826.9 1419.1,851.3 1434.8,861.4 1449.3,899.2 1463.0,887.3 1475.8,914.8 1481.9,918.9 1487.8,928.2 1499.2,946.3 1510.1,967.7 1520.4,976.6 1530.2,991.4 1539.6,1023.0 1548.6,1037.5 1557.2,1070.7 1577.3,1109.8 1595.7,1139.3 1612.6,1169.6 1628.2,1175.0 1642.8,1175.0 1656.4,1175.0 1669.2,1175.0 1681.3,1175.0 1692.7,1175.0 1703.5,1175.0"/>
<polyline points="239.8,710.0 386.9,707.4 407.1,705.9 434.3,703.5 465.8,700.0 473.0,695.1 486.7,685.1 505.7,679.4 511.7,675.9 534.0,670.2 544.4,674.3 554.3,662.1 559.0,668.2 563.7,674.8 572.7,667.3 581.4,656.8 601.6,673.0 620.1,672.2 637.1,666.4 643.5,666.8 652.8,666.9 667.4,653.8 681.1,628.5 694.0,619.7 706.1,596.7 717.6,589.7 728.5,583.6 748.7,570.0 767.2,575.7 784.2,544.1 789.1,565.5 799.9,554.5 814.6,570.8 828.3,600.1 841.2,577.0 853.3,597.7 864.8,605.7 875.7,627.6 895.9,676.9 914.4,664.0 923.1,722.5 931.4,683.8 947.1,669.8 954.6,714.3 961.8,682.5 975.5,687.4 988.3,683.5 994.5,649.5 1000.5,660.9 1012.0,657.1 1022.8,623.6 1033.2,614.5 1043.1,639.4 1047.9,636.4 1052.5,638.0 1061.6,633.5 1070.2,611.0 1090.5,617.2 1108.9,625.2 1125.9,662.6 1131.4,648.7 1141.7,675.4 1156.3,688.7 1170.0,674.5 1182.9,686.1 1195.0,720.5 1206.5,721.1 1217.4,730.5 1237.5,756.6 1255.9,755.5 1272.8,788.9 1288.4,802.4 1303.0,842.1 1316.6,851.8 1329.4,852.1 1341.5,888.2 1352.9,889.6 1363.7,906.5 1383.9,937.3 1402.2,953.8 1410.8,960.1 1419.1,976.5 1434.8,981.3 1449.3,1012.2 1463.0,1018.5 1475.8,1040.0 1481.9,1047.7 1487.8,1052.7 1499.2,1059.0 1510.1,1086.6 1520.4,1107.2 1530.2,1122.4 1539.6,1152.4 1548.6,1175.0 1557.2,1175.0 1577.3,1175.0 1595.7,1175.0 1612.6,1175.0 1628.2,1175.0 1642.8,1175.0 1656.4,1175.0 1669.2,1175.0 1681.3,1175.0 1692.7,1175.0 1703.5,1175.0"/>
<polyline points="239.8,722.0 386.9,719.4 407.1,717.9 434.3,715.5 465.8,711.7 473.0,710.1 486.7,709.3 505.7,708.6 511.7,706.9 534.0,712.4 544.4,703.5 554.3,716.0 559.0,704.1 563.7,710.9 572.7,713.1 581.4,702.6 601.6,717.7 620.1,706.1 637.1,739.3 643.5,708.1 652.8,719.4 667.4,696.0 681.1,715.3 694.0,690.2 706.1,679.2 717.6,673.9 728.5,633.6 748.7,659.7 767.2,627.4 784.2,638.8 789.1,644.0 799.9,606.5 814.6,613.9 828.3,629.0 841.2,619.6 853.3,597.2 864.8,621.8 875.7,642.2 895.9,606.2 914.4,569.9 923.1,610.4 931.4,599.1 947.1,594.5 954.6,595.4 961.8,620.0 975.5,619.4 988.3,633.2 994.5,612.3 1000.5,606.6 1012.0,604.8 1022.8,603.7 1033.2,595.7 1043.1,625.3 1047.9,605.1 1052.5,623.8 1061.6,611.3 1070.2,611.9 1090.5,603.8 1108.9,651.2 1125.9,649.4 1131.4,620.2 1141.7,645.0 1156.3,670.2 1170.0,695.1 1182.9,679.0 1195.0,681.3 1206.5,705.1 1217.4,700.2 1237.5,732.3 1255.9,753.3 1272.8,728.2 1288.4,762.4 1303.0,778.4 1316.6,783.8 1329.4,810.3 1341.5,809.9 1352.9,813.8 1363.7,837.8 1383.9,857.3 1402.2,881.3 1410.8,882.3 1419.1,900.7 1434.8,928.6 1449.3,948.8 1463.0,972.7 1475.8,983.7 1481.9,994.6 1487.8,1018.8 1499.2,1019.0 1510.1,1045.0 1520.4,1063.6 1530.2,1084.2 1539.6,1105.2 1548.6,1136.9 1557.2,1151.9 1577.3,1175.0 1595.7,1175.0 1612.6,1175.0 1628.2,1175.0 1642.8,1175.0 1656.4,1175.0 1669.2,1175.0 1681.3,1175.0 1692.7,1175.0 1703.5,1175.0"/>
<polyline points="240.0,433.5 394.0,433.5 433.0,422.2 468.4,434.6 521.5,432.8 560.4,424.0 592.2,406.3 634.7,393.9 663.0,374.4 698.8,332.6 712.6,337.6 734.0,351.4 764.0,361.5 793.0,360.0 824.3,355.2 860.0,355.0 900.0,375.0 950.0,395.0 1000.0,425.0 1050.0,450.0 1100.0,480.0 1150.0,510.0 1200.0,550.0 1250.0,600.0 1300.0,660.0 1350.0,720.0 1400.0,790.0 1450.0,860.0 1500.0,940.0 1550.0,1020.0 1600.0,1100.0 1650.0,1180.0"/>
<polyline points="240.0,1034.7 300.0,1033.0 350.0,1031.5 395.0,1027.0 410.0,1023.0 430.0,1007.3 447.0,1008.3 461.0,1011.9 472.0,1009.2 490.0,1003.7 512.0,999.1 521.5,979.2 528.6,958.0 542.7,947.3 564.0,952.7 574.6,958.0 592.2,945.6 609.9,936.7 634.7,942.0 652.4,945.6 670.1,935.0 684.2,922.6 691.3,917.3 701.9,922.6 709.0,908.4 716.1,890.7 730.0,894.0 760.0,893.0 787.0,891.0 800.0,872.0 825.7,880.1 836.3,901.4 850.5,912.0 871.7,922.6 889.4,936.7 907.1,940.3 917.7,926.1 928.3,904.9 946.0,897.8 960.1,883.7 977.8,864.2 992.0,864.2 1010.0,858.0 1050.0,870.0 1100.0,887.0 1138.0,922.0 1158.0,962.0 1196.0,995.0 1228.0,1024.0 1252.0,1079.0 1280.0,1120.0 1300.0,1170.0"/>
<polyline points="240.0,560.0 520.0,560.0 560.0,540.0 600.0,510.0 640.0,480.0 700.0,430.0 750.0,385.0 780.0,345.0 798.8,322.8 813.9,308.4 827.7,304.0 837.7,315.3 851.5,308.4 860.3,285.8 867.8,268.9 887.9,256.3 900.5,263.8 919.3,282.7 930.6,297.7 948.1,291.4 953.0,315.3 958.0,337.9 980.0,360.0 1020.0,380.0 1060.0,405.0 1100.0,435.0 1150.0,475.0 1200.0,525.0 1250.0,585.0 1300.0,655.0 1350.0,725.0 1400.0,805.0 1450.0,885.0 1500.0,965.0 1550.0,1055.0 1600.0,1150.0"/>
<polyline points="240.0,600.0 520.0,600.0 600.0,560.0 700.0,520.0 800.0,480.0 900.0,465.0 1000.0,455.0 1060.0,445.0 1100.0,440.0 1122.0,420.0 1150.0,428.0 1175.0,424.0 1190.0,420.0 1215.0,410.0 1234.0,399.7 1247.0,419.4 1264.0,458.7 1276.0,498.0 1288.0,540.0 1310.0,574.0 1340.0,620.0 1380.0,690.0 1420.0,765.0 1460.0,845.0 1500.0,935.0 1540.0,1025.0 1580.0,1115.0 1600.0,1160.0"/>
<polyline points="240.0,640.0 520.0,640.0 600.0,595.0 700.0,545.0 800.0,520.0 900.0,515.0 1000.0,535.0 1100.0,575.0 1200.0,625.0 1300.0,675.0 1400.0,725.0 1440.0,760.0 1484.6,787.3 1507.0,796.0 1519.0,810.0 1529.0,832.0 1537.0,850.0 1547.0,869.0 1561.0,865.0 1578.0,855.5 1600.0,868.0 1611.0,881.5 1623.5,904.0 1631.0,920.0 1646.0,940.0 1653.0,958.0 1663.0,979.0 1668.0,998.0 1677.0,1025.0 1683.0,1039.0 1700.0,1061.0 1710.0,1075.0"/>
</g>
<polyline clip-path="url(#c)" points="239.8,703.3 350.0,703.1 400.0,699.8 451.3,695.3 502.7,688.5 554.0,680.8 590.0,674.9 608.3,670.3 626.5,664.8 644.8,657.5 663.0,650.2 681.3,642.9 699.5,633.8 717.8,624.7 736.0,616.5 756.0,609.5 772.0,603.1 787.9,595.9 803.9,589.5 819.9,584.7 835.8,579.9 851.8,575.9 867.8,573.5 881.6,572.7 902.1,570.8 915.8,568.1 929.5,567.4 947.3,568.1 956.9,572.9 970.6,579.7 990.0,587.6 1005.3,592.7 1020.6,600.9 1041.1,609.0 1061.5,617.2 1076.8,624.4 1092.1,634.6 1112.6,648.9 1133.0,662.1 1149.3,673.4 1161.9,680.5 1183.8,691.4 1200.2,703.5 1216.6,716.6 1238.5,733.0 1260.3,753.8 1282.8,780.5 1300.8,799.1 1321.6,819.9 1342.4,847.6 1363.2,871.2 1384.0,892.0 1404.8,915.6 1426.5,946.5 1450.6,983.7 1470.6,1014.3 1492.0,1048.1 1511.9,1081.8 1530.3,1115.5 1544.1,1149.2 1552.0,1168.0" fill="none" stroke="#000" stroke-width="13" stroke-linejoin="round"/>
<path d="M368.2 129.9H505.8" stroke="#000" stroke-width="13.6"/>
<path d="M368.2 207.8H505.8" stroke="rgb(11,180,207)" stroke-width="3.8" stroke-dasharray="29.4 16.6 26.6 16.4 26.8 16.3"/>
<g fill="#000" font-size="67.7">
<text x="512.2" y="155.4">Median of SRSS spectra (target spectrum)</text>
<text x="512.2" y="231.0">SRSS spectra in the library</text>
</g>
<g fill="#1a1a1a">
<text x="124.3" y="85.1" font-size="67.6">10</text>
<text x="190.3" y="51.8" font-size="56">1</text>
<text x="124.3" y="451.6" font-size="67.6">10</text>
<text x="188.6" y="420.3" font-size="56">0</text>
<text x="92.2" y="818.2" font-size="67.6">10</text>
<text x="156.7" y="795.0" font-size="60">&#8722;</text>
<text x="190.3" y="786.1" font-size="56">1</text>
<text x="92.2" y="1185.1" font-size="67.6">10</text>
<text x="156.7" y="1161.9" font-size="60">&#8722;</text>
<text x="187.6" y="1153.0" font-size="56">2</text>
<text x="170.5" y="1255.4" font-size="67.6">10</text>
<text x="234.4" y="1231.9" font-size="60">&#8722;</text>
<text x="265.7" y="1223.0" font-size="56">2</text>
<text x="659.6" y="1255.4" font-size="67.6">10</text>
<text x="723.6" y="1231.9" font-size="60">&#8722;</text>
<text x="758.1" y="1223.0" font-size="56">1</text>
<text x="1169.8" y="1255.4" font-size="67.6">10</text>
<text x="1233.3" y="1223.0" font-size="56">0</text>
<text x="1658.7" y="1255.4" font-size="67.6">10</text>
<text x="1724.7" y="1223.0" font-size="56">1</text>
<text x="824.9" y="1344.4" font-size="75">Period [s]</text>
<text transform="translate(73.5 964.3) rotate(-90)" x="0" y="0" font-size="74.5">Spectral acceleration [g]</text>
</g>
</svg>
</body></html>
